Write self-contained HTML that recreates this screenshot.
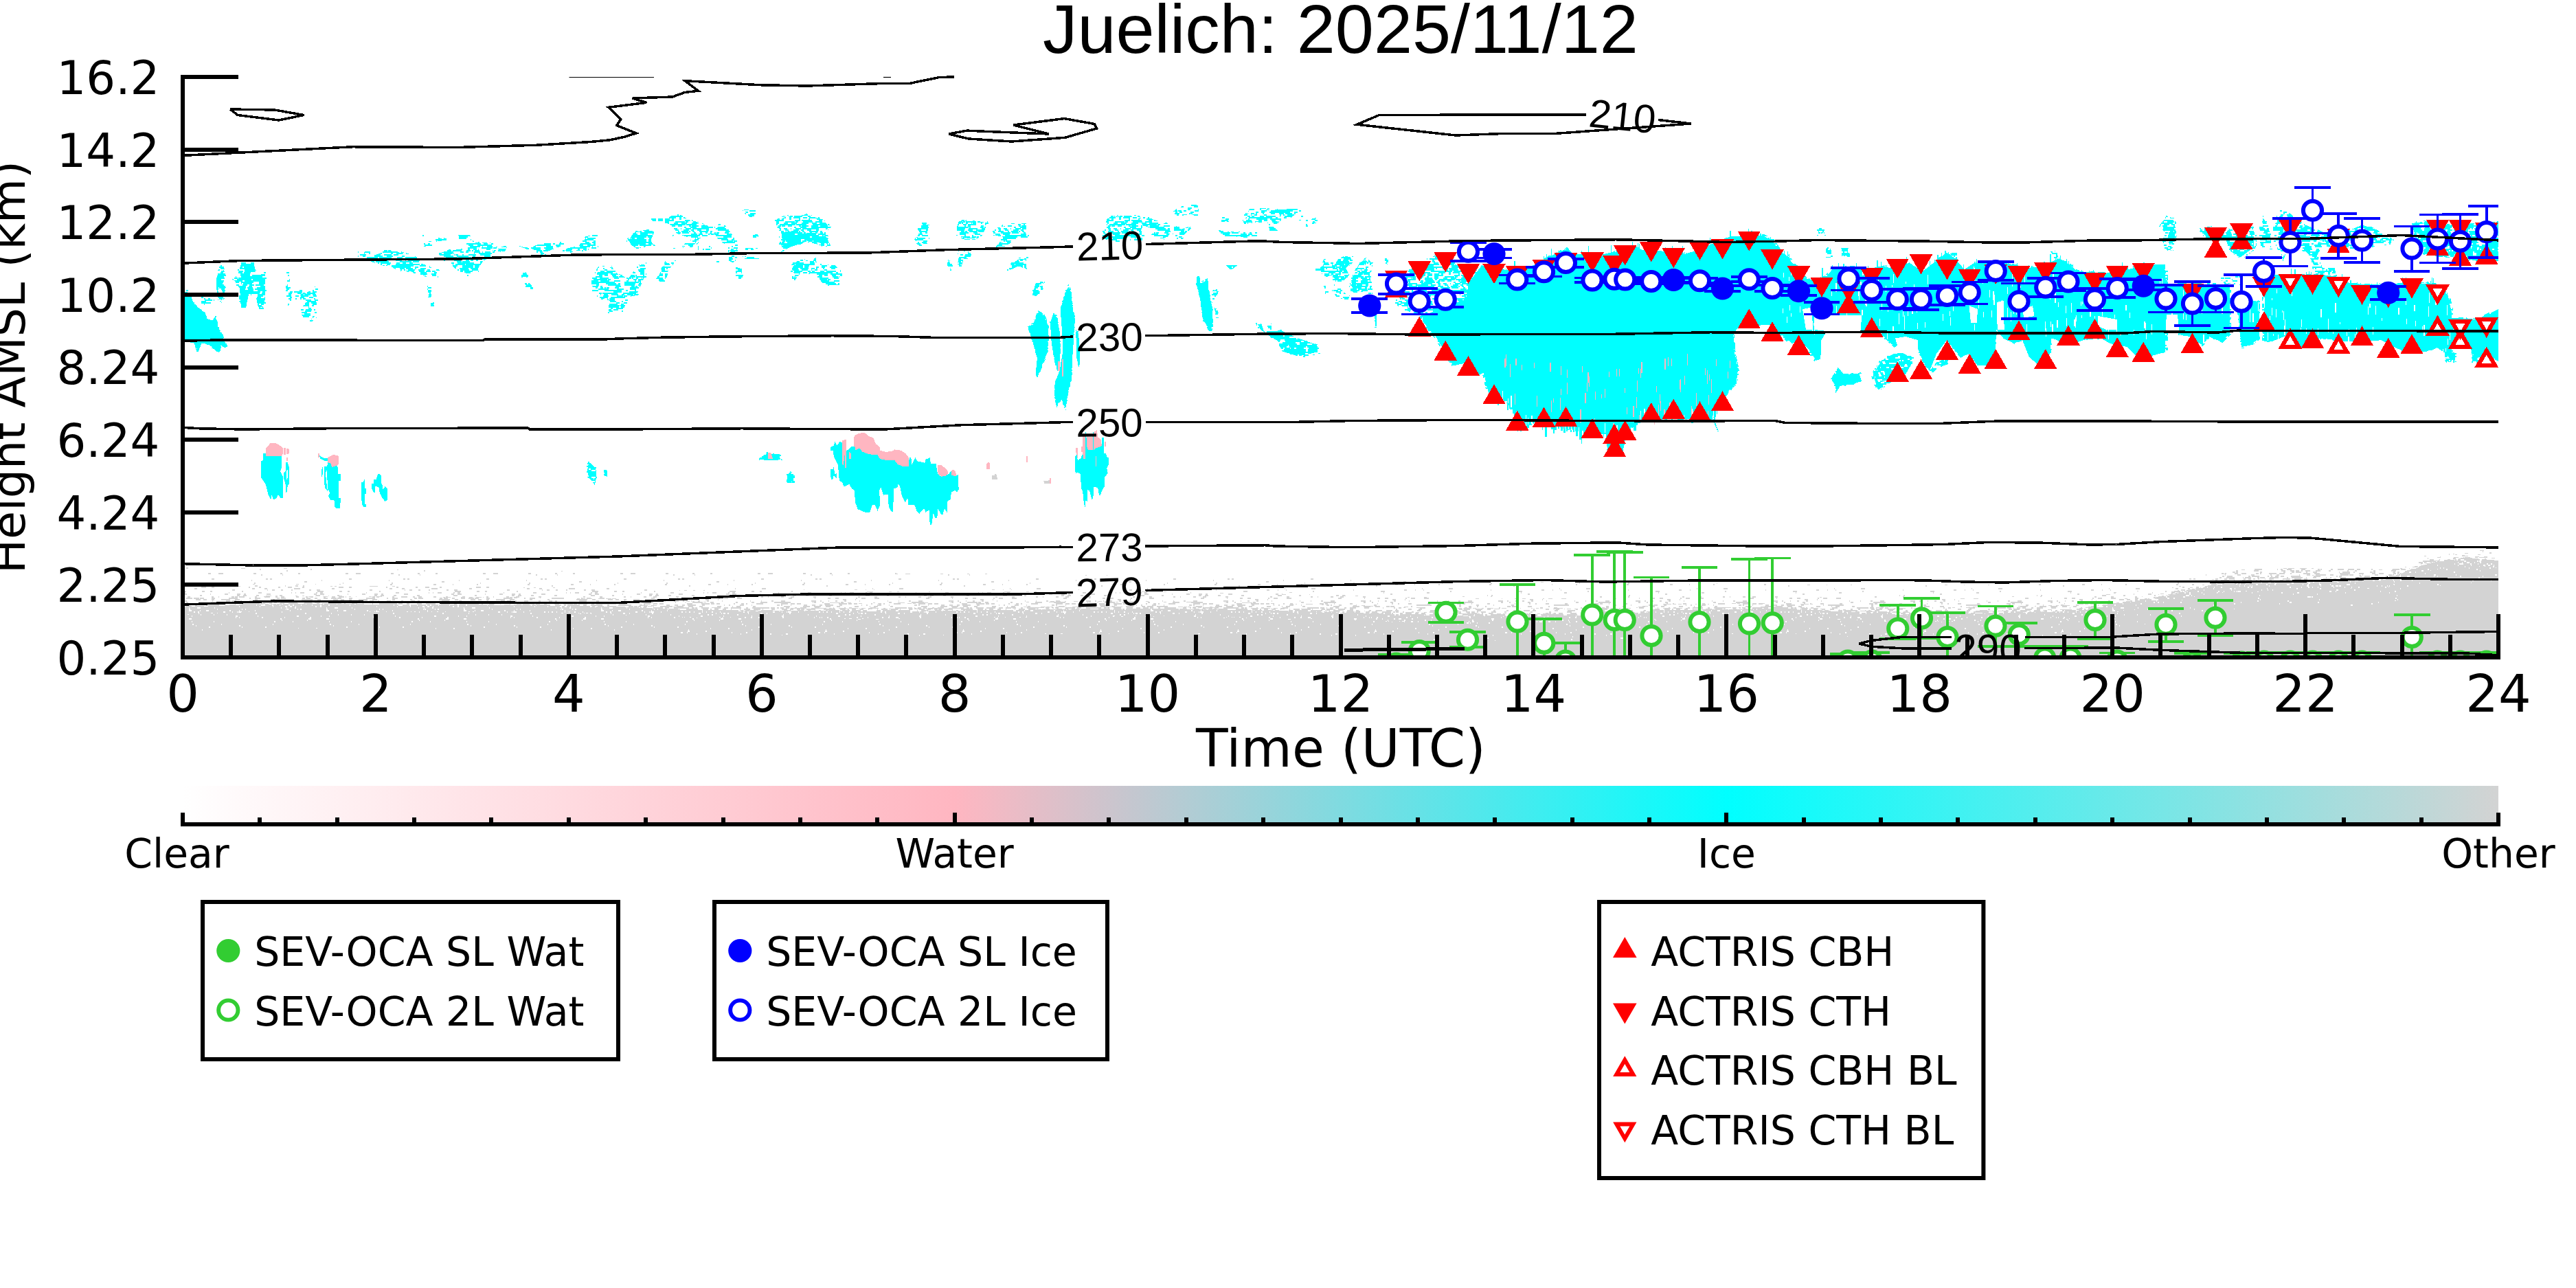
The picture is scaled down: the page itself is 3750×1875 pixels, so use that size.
<!DOCTYPE html>
<html><head><meta charset="utf-8"><title>Juelich: 2025/11/12</title>
<style>html,body{margin:0;padding:0;background:#fff}svg{display:block}</style>
</head><body>
<svg width="3750" height="1875" viewBox="0 0 3750 1875">
<defs>
<clipPath id="cp"><rect x="266" y="109" width="3371" height="848"/></clipPath>
<linearGradient id="cb" x1="0" x2="1" y1="0" y2="0"><stop offset="0" stop-color="#ffffff"/><stop offset="0.3333" stop-color="#ffb6c1"/><stop offset="0.6667" stop-color="#00ffff"/><stop offset="1" stop-color="#d3d3d3"/></linearGradient>
<pattern id="c85" width="160" height="80" patternUnits="userSpaceOnUse"><path d="M0 0h21v2h-21zM30 0h14v2h-14zM48 0h81v2h-81zM133 0h8v2h-8zM148 0h12v2h-12zM0 2h6v2h-6zM9 2h13v2h-13zM31 2h31v2h-31zM70 2h11v2h-11zM84 2h28v2h-28zM114 2h23v2h-23zM140 2h7v2h-7zM150 2h10v2h-10zM0 4h7v2h-7zM8 4h15v2h-15zM27 4h55v2h-55zM85 4h15v2h-15zM107 4h14v2h-14zM122 4h16v2h-16zM139 4h21v2h-21zM0 6h2v2h-2zM9 6h12v2h-12zM25 6h21v2h-21zM48 6h33v2h-33zM89 6h8v2h-8zM98 6h9v2h-9zM113 6h24v2h-24zM145 6h15v2h-15zM0 8h6v2h-6zM10 8h5v2h-5zM19 8h14v2h-14zM36 8h72v2h-72zM110 8h14v2h-14zM126 8h9v2h-9zM143 8h17v2h-17zM0 10h5v2h-5zM10 10h7v2h-7zM21 10h7v2h-7zM31 10h18v2h-18zM57 10h24v2h-24zM84 10h8v2h-8zM93 10h23v2h-23zM129 10h7v2h-7zM137 10h23v2h-23zM0 12h4v2h-4zM9 12h9v2h-9zM34 12h13v2h-13zM57 12h19v2h-19zM78 12h2v2h-2zM82 12h8v2h-8zM94 12h33v2h-33zM129 12h16v2h-16zM149 12h11v2h-11zM0 14h6v2h-6zM9 14h17v2h-17zM33 14h7v2h-7zM43 14h3v2h-3zM52 14h12v2h-12zM67 14h6v2h-6zM83 14h3v2h-3zM94 14h10v2h-10zM110 14h35v2h-35zM150 14h10v2h-10zM1 16h17v2h-17zM23 16h15v2h-15zM42 16h5v2h-5zM59 16h14v2h-14zM76 16h12v2h-12zM93 16h10v2h-10zM111 16h23v2h-23zM138 16h20v2h-20zM0 18h38v2h-38zM40 18h8v2h-8zM54 18h17v2h-17zM75 18h15v2h-15zM91 18h3v2h-3zM107 18h19v2h-19zM132 18h22v2h-22zM2 20h35v2h-35zM41 20h7v2h-7zM51 20h17v2h-17zM80 20h8v2h-8zM93 20h3v2h-3zM99 20h29v2h-29zM132 20h11v2h-11zM150 20h5v2h-5zM3 22h46v2h-46zM55 22h17v2h-17zM77 22h2v2h-2zM91 22h24v2h-24zM116 22h41v2h-41zM4 24h6v2h-6zM15 24h44v2h-44zM62 24h26v2h-26zM90 24h23v2h-23zM117 24h22v2h-22zM143 24h15v2h-15zM0 26h1v2h-1zM4 26h6v2h-6zM14 26h44v2h-44zM61 26h47v2h-47zM110 26h8v2h-8zM119 26h5v2h-5zM127 26h11v2h-11zM145 26h15v2h-15zM0 28h6v2h-6zM11 28h35v2h-35zM55 28h31v2h-31zM90 28h10v2h-10zM109 28h8v2h-8zM120 28h4v2h-4zM128 28h13v2h-13zM144 28h16v2h-16zM0 30h7v2h-7zM13 30h9v2h-9zM27 30h19v2h-19zM55 30h8v2h-8zM66 30h19v2h-19zM92 30h49v2h-49zM145 30h15v2h-15zM0 32h22v2h-22zM30 32h23v2h-23zM54 32h6v2h-6zM65 32h23v2h-23zM101 32h59v2h-59zM0 34h55v2h-55zM59 34h14v2h-14zM80 34h4v2h-4zM101 34h39v2h-39zM144 34h14v2h-14zM2 36h70v2h-70zM75 36h11v2h-11zM95 36h34v2h-34zM131 36h17v2h-17zM0 38h23v2h-23zM26 38h17v2h-17zM46 38h25v2h-25zM79 38h46v2h-46zM137 38h13v2h-13zM157 38h3v2h-3zM0 40h5v2h-5zM11 40h11v2h-11zM27 40h12v2h-12zM46 40h30v2h-30zM81 40h5v2h-5zM89 40h27v2h-27zM124 40h6v2h-6zM131 40h22v2h-22zM159 40h1v2h-1zM0 42h3v2h-3zM9 42h7v2h-7zM20 42h5v2h-5zM29 42h27v2h-27zM60 42h7v2h-7zM71 42h15v2h-15zM92 42h15v2h-15zM111 42h3v2h-3zM122 42h6v2h-6zM133 42h27v2h-27zM0 44h4v2h-4zM8 44h9v2h-9zM19 44h21v2h-21zM51 44h10v2h-10zM67 44h48v2h-48zM122 44h2v2h-2zM131 44h29v2h-29zM0 46h15v2h-15zM24 46h16v2h-16zM44 46h36v2h-36zM82 46h43v2h-43zM134 46h5v2h-5zM141 46h4v2h-4zM157 46h3v2h-3zM0 48h20v2h-20zM25 48h5v2h-5zM40 48h40v2h-40zM85 48h18v2h-18zM106 48h35v2h-35zM147 48h13v2h-13zM0 50h5v2h-5zM6 50h41v2h-41zM56 50h24v2h-24zM85 50h7v2h-7zM95 50h4v2h-4zM100 50h26v2h-26zM131 50h22v2h-22zM156 50h4v2h-4zM0 52h44v2h-44zM47 52h4v2h-4zM57 52h12v2h-12zM71 52h23v2h-23zM108 52h20v2h-20zM131 52h21v2h-21zM158 52h2v2h-2zM1 54h14v2h-14zM18 54h5v2h-5zM30 54h17v2h-17zM51 54h10v2h-10zM68 54h7v2h-7zM79 54h15v2h-15zM105 54h1v2h-1zM108 54h24v2h-24zM142 54h13v2h-13zM8 56h25v2h-25zM38 56h26v2h-26zM68 56h30v2h-30zM102 56h31v2h-31zM134 56h3v2h-3zM143 56h11v2h-11zM1 58h11v2h-11zM13 58h27v2h-27zM45 58h23v2h-23zM72 58h32v2h-32zM106 58h25v2h-25zM135 58h3v2h-3zM142 58h12v2h-12zM2 60h16v2h-16zM23 60h37v2h-37zM66 60h13v2h-13zM82 60h7v2h-7zM92 60h10v2h-10zM106 60h27v2h-27zM138 60h8v2h-8zM148 60h8v2h-8zM3 62h11v2h-11zM24 62h33v2h-33zM61 62h13v2h-13zM82 62h21v2h-21zM109 62h38v2h-38zM148 62h11v2h-11zM0 64h15v2h-15zM18 64h4v2h-4zM24 64h56v2h-56zM88 64h18v2h-18zM109 64h6v2h-6zM116 64h44v2h-44zM0 66h15v2h-15zM19 66h34v2h-34zM58 66h37v2h-37zM102 66h13v2h-13zM118 66h42v2h-42zM0 68h6v2h-6zM10 68h13v2h-13zM24 68h9v2h-9zM35 68h19v2h-19zM59 68h41v2h-41zM107 68h9v2h-9zM121 68h35v2h-35zM157 68h3v2h-3zM6 70h86v2h-86zM98 70h7v2h-7zM118 70h36v2h-36zM5 72h8v2h-8zM20 72h6v2h-6zM36 72h28v2h-28zM66 72h18v2h-18zM90 72h2v2h-2zM99 72h18v2h-18zM121 72h22v2h-22zM146 72h14v2h-14zM2 74h12v2h-12zM27 74h3v2h-3zM36 74h16v2h-16zM57 74h12v2h-12zM71 74h13v2h-13zM90 74h28v2h-28zM121 74h37v2h-37zM1 76h4v2h-4zM9 76h9v2h-9zM23 76h10v2h-10zM35 76h10v2h-10zM57 76h10v2h-10zM70 76h13v2h-13zM87 76h39v2h-39zM131 76h23v2h-23zM156 76h2v2h-2zM0 78h26v2h-26zM30 78h14v2h-14zM60 78h9v2h-9zM70 78h16v2h-16zM89 78h4v2h-4zM96 78h31v2h-31zM132 78h5v2h-5zM138 78h16v2h-16zM155 78h5v2h-5z" fill="#00ffff" shape-rendering="crispEdges"/></pattern>
<pattern id="c60" width="160" height="80" patternUnits="userSpaceOnUse"><path d="M0 0h5v2h-5zM14 0h7v2h-7zM37 0h8v2h-8zM50 0h12v2h-12zM72 0h5v2h-5zM80 0h5v2h-5zM91 0h6v2h-6zM106 0h15v2h-15zM125 0h2v2h-2zM136 0h4v2h-4zM149 0h6v2h-6zM158 0h2v2h-2zM8 2h6v2h-6zM24 2h13v2h-13zM51 2h12v2h-12zM67 2h9v2h-9zM92 2h8v2h-8zM101 2h9v2h-9zM115 2h10v2h-10zM127 2h3v2h-3zM134 2h7v2h-7zM143 2h9v2h-9zM158 2h2v2h-2zM0 4h5v2h-5zM8 4h6v2h-6zM23 4h4v2h-4zM32 4h8v2h-8zM48 4h9v2h-9zM64 4h3v2h-3zM73 4h13v2h-13zM94 4h7v2h-7zM112 4h4v2h-4zM120 4h2v2h-2zM134 4h1v2h-1zM136 4h5v2h-5zM148 4h2v2h-2zM154 4h6v2h-6zM0 6h6v2h-6zM9 6h3v2h-3zM15 6h23v2h-23zM39 6h15v2h-15zM63 6h21v2h-21zM114 6h2v2h-2zM122 6h5v2h-5zM132 6h9v2h-9zM154 6h6v2h-6zM0 8h8v2h-8zM13 8h4v2h-4zM19 8h4v2h-4zM32 8h1v2h-1zM43 8h3v2h-3zM49 8h8v2h-8zM62 8h9v2h-9zM74 8h13v2h-13zM94 8h9v2h-9zM112 8h3v2h-3zM124 8h2v2h-2zM148 8h4v2h-4zM155 8h5v2h-5zM0 10h9v2h-9zM11 10h5v2h-5zM36 10h3v2h-3zM45 10h9v2h-9zM62 10h32v2h-32zM109 10h21v2h-21zM153 10h7v2h-7zM0 12h5v2h-5zM13 12h4v2h-4zM21 12h5v2h-5zM38 12h6v2h-6zM48 12h24v2h-24zM82 12h15v2h-15zM100 12h3v2h-3zM109 12h15v2h-15zM130 12h13v2h-13zM149 12h11v2h-11zM5 14h5v2h-5zM35 14h8v2h-8zM55 14h6v2h-6zM68 14h4v2h-4zM86 14h17v2h-17zM109 14h15v2h-15zM129 14h7v2h-7zM141 14h18v2h-18zM6 16h1v2h-1zM13 16h8v2h-8zM32 16h10v2h-10zM48 16h3v2h-3zM58 16h13v2h-13zM96 16h8v2h-8zM119 16h5v2h-5zM131 16h8v2h-8zM144 16h14v2h-14zM19 18h12v2h-12zM33 18h10v2h-10zM50 18h3v2h-3zM59 18h3v2h-3zM67 18h3v2h-3zM74 18h4v2h-4zM83 18h4v2h-4zM95 18h6v2h-6zM117 18h13v2h-13zM137 18h6v2h-6zM154 18h4v2h-4zM5 20h11v2h-11zM20 20h10v2h-10zM49 20h6v2h-6zM57 20h6v2h-6zM71 20h15v2h-15zM98 20h10v2h-10zM117 20h9v2h-9zM139 20h8v2h-8zM5 22h12v2h-12zM23 22h18v2h-18zM46 22h11v2h-11zM67 22h4v2h-4zM80 22h25v2h-25zM111 22h3v2h-3zM124 22h2v2h-2zM135 22h2v2h-2zM147 22h10v2h-10zM0 24h3v2h-3zM19 24h22v2h-22zM46 24h7v2h-7zM93 24h12v2h-12zM116 24h16v2h-16zM135 24h4v2h-4zM142 24h3v2h-3zM149 24h11v2h-11zM0 26h3v2h-3zM21 26h18v2h-18zM52 26h1v2h-1zM55 26h12v2h-12zM80 26h19v2h-19zM107 26h19v2h-19zM127 26h12v2h-12zM141 26h13v2h-13zM158 26h2v2h-2zM0 28h13v2h-13zM17 28h9v2h-9zM51 28h13v2h-13zM79 28h6v2h-6zM90 28h10v2h-10zM105 28h4v2h-4zM113 28h9v2h-9zM125 28h2v2h-2zM145 28h1v2h-1zM152 28h8v2h-8zM0 30h3v2h-3zM8 30h4v2h-4zM21 30h2v2h-2zM29 30h6v2h-6zM48 30h6v2h-6zM64 30h6v2h-6zM78 30h8v2h-8zM98 30h9v2h-9zM118 30h11v2h-11zM136 30h7v2h-7zM154 30h6v2h-6zM18 32h1v2h-1zM26 32h2v2h-2zM33 32h5v2h-5zM52 32h6v2h-6zM62 32h7v2h-7zM73 32h12v2h-12zM89 32h21v2h-21zM117 32h6v2h-6zM130 32h6v2h-6zM14 34h13v2h-13zM32 34h13v2h-13zM46 34h9v2h-9zM64 34h6v2h-6zM77 34h3v2h-3zM87 34h8v2h-8zM121 34h4v2h-4zM143 34h3v2h-3zM152 34h7v2h-7zM0 36h2v2h-2zM9 36h10v2h-10zM27 36h5v2h-5zM42 36h7v2h-7zM55 36h25v2h-25zM87 36h7v2h-7zM110 36h2v2h-2zM125 36h8v2h-8zM145 36h15v2h-15zM0 38h5v2h-5zM10 38h27v2h-27zM44 38h11v2h-11zM62 38h1v2h-1zM69 38h6v2h-6zM85 38h8v2h-8zM105 38h2v2h-2zM116 38h5v2h-5zM127 38h11v2h-11zM155 38h5v2h-5zM0 40h3v2h-3zM20 40h34v2h-34zM66 40h9v2h-9zM97 40h5v2h-5zM108 40h8v2h-8zM119 40h11v2h-11zM133 40h14v2h-14zM152 40h8v2h-8zM0 42h6v2h-6zM24 42h9v2h-9zM41 42h3v2h-3zM49 42h5v2h-5zM68 42h6v2h-6zM81 42h18v2h-18zM112 42h4v2h-4zM124 42h6v2h-6zM135 42h12v2h-12zM154 42h6v2h-6zM0 44h3v2h-3zM22 44h10v2h-10zM41 44h4v2h-4zM51 44h7v2h-7zM77 44h6v2h-6zM85 44h17v2h-17zM108 44h22v2h-22zM134 44h3v2h-3zM141 44h8v2h-8zM157 44h3v2h-3zM0 46h14v2h-14zM30 46h5v2h-5zM50 46h6v2h-6zM66 46h8v2h-8zM78 46h23v2h-23zM104 46h6v2h-6zM129 46h1v2h-1zM141 46h2v2h-2zM146 46h4v2h-4zM157 46h3v2h-3zM0 48h3v2h-3zM13 48h6v2h-6zM50 48h1v2h-1zM64 48h10v2h-10zM89 48h3v2h-3zM97 48h10v2h-10zM129 48h4v2h-4zM147 48h5v2h-5zM158 48h2v2h-2zM0 50h16v2h-16zM23 50h4v2h-4zM33 50h2v2h-2zM42 50h10v2h-10zM59 50h15v2h-15zM79 50h9v2h-9zM93 50h7v2h-7zM118 50h4v2h-4zM126 50h8v2h-8zM137 50h2v2h-2zM147 50h3v2h-3zM158 50h2v2h-2zM6 52h14v2h-14zM33 52h8v2h-8zM65 52h12v2h-12zM83 52h5v2h-5zM105 52h2v2h-2zM124 52h9v2h-9zM9 54h14v2h-14zM27 54h17v2h-17zM57 54h13v2h-13zM72 54h6v2h-6zM81 54h9v2h-9zM98 54h8v2h-8zM110 54h17v2h-17zM139 54h13v2h-13zM155 54h3v2h-3zM8 56h7v2h-7zM38 56h40v2h-40zM81 56h2v2h-2zM97 56h10v2h-10zM114 56h5v2h-5zM123 56h8v2h-8zM147 56h4v2h-4zM21 58h10v2h-10zM38 58h5v2h-5zM53 58h3v2h-3zM64 58h14v2h-14zM79 58h6v2h-6zM96 58h9v2h-9zM114 58h18v2h-18zM149 58h3v2h-3zM25 60h7v2h-7zM33 60h11v2h-11zM59 60h6v2h-6zM67 60h19v2h-19zM102 60h17v2h-17zM121 60h9v2h-9zM135 60h21v2h-21zM8 62h6v2h-6zM26 62h23v2h-23zM59 62h7v2h-7zM70 62h2v2h-2zM80 62h9v2h-9zM97 62h5v2h-5zM106 62h5v2h-5zM116 62h5v2h-5zM135 62h3v2h-3zM145 62h5v2h-5zM156 62h2v2h-2zM0 64h15v2h-15zM23 64h9v2h-9zM38 64h9v2h-9zM49 64h17v2h-17zM83 64h5v2h-5zM96 64h35v2h-35zM133 64h10v2h-10zM156 64h4v2h-4zM0 66h7v2h-7zM19 66h7v2h-7zM33 66h12v2h-12zM51 66h7v2h-7zM76 66h8v2h-8zM91 66h27v2h-27zM133 66h7v2h-7zM151 66h9v2h-9zM0 68h24v2h-24zM33 68h13v2h-13zM51 68h6v2h-6zM76 68h5v2h-5zM88 68h30v2h-30zM124 68h4v2h-4zM145 68h3v2h-3zM155 68h5v2h-5zM0 70h5v2h-5zM10 70h2v2h-2zM20 70h4v2h-4zM29 70h13v2h-13zM45 70h12v2h-12zM61 70h5v2h-5zM90 70h6v2h-6zM102 70h7v2h-7zM111 70h10v2h-10zM132 70h6v2h-6zM155 70h5v2h-5zM0 72h8v2h-8zM30 72h13v2h-13zM47 72h7v2h-7zM108 72h2v2h-2zM114 72h10v2h-10zM129 72h2v2h-2zM142 72h4v2h-4zM3 74h28v2h-28zM36 74h12v2h-12zM59 74h1v2h-1zM62 74h4v2h-4zM74 74h6v2h-6zM85 74h12v2h-12zM110 74h13v2h-13zM130 74h8v2h-8zM140 74h7v2h-7zM0 76h2v2h-2zM14 76h10v2h-10zM29 76h3v2h-3zM35 76h10v2h-10zM49 76h6v2h-6zM58 76h34v2h-34zM97 76h3v2h-3zM109 76h4v2h-4zM119 76h6v2h-6zM132 76h9v2h-9zM152 76h8v2h-8zM0 78h5v2h-5zM8 78h3v2h-3zM18 78h3v2h-3zM29 78h3v2h-3zM43 78h2v2h-2zM57 78h2v2h-2zM69 78h16v2h-16zM89 78h12v2h-12zM132 78h8v2h-8zM148 78h7v2h-7zM158 78h2v2h-2z" fill="#00ffff" shape-rendering="crispEdges"/></pattern>
<pattern id="c35" width="160" height="80" patternUnits="userSpaceOnUse"><path d="M0 0h1v2h-1zM3 0h6v2h-6zM18 0h10v2h-10zM30 0h1v2h-1zM47 0h12v2h-12zM90 0h5v2h-5zM99 0h2v2h-2zM111 0h2v2h-2zM121 0h5v2h-5zM131 0h3v2h-3zM141 0h7v2h-7zM154 0h6v2h-6zM15 2h8v2h-8zM26 2h6v2h-6zM54 2h4v2h-4zM59 2h6v2h-6zM70 2h4v2h-4zM104 2h2v2h-2zM131 2h6v2h-6zM151 2h3v2h-3zM23 4h6v2h-6zM32 4h6v2h-6zM39 4h8v2h-8zM61 4h4v2h-4zM67 4h3v2h-3zM80 4h6v2h-6zM104 4h10v2h-10zM117 4h6v2h-6zM132 4h3v2h-3zM148 4h9v2h-9zM3 6h5v2h-5zM18 6h10v2h-10zM29 6h5v2h-5zM49 6h1v2h-1zM65 6h2v2h-2zM74 6h13v2h-13zM88 6h3v2h-3zM101 6h5v2h-5zM110 6h8v2h-8zM121 6h3v2h-3zM136 6h7v2h-7zM149 6h9v2h-9zM3 8h8v2h-8zM24 8h1v2h-1zM32 8h3v2h-3zM40 8h3v2h-3zM50 8h7v2h-7zM87 8h5v2h-5zM98 8h7v2h-7zM108 8h6v2h-6zM127 8h1v2h-1zM132 8h1v2h-1zM140 8h8v2h-8zM153 8h2v2h-2zM5 10h5v2h-5zM16 10h2v2h-2zM37 10h3v2h-3zM64 10h1v2h-1zM79 10h4v2h-4zM86 10h2v2h-2zM122 10h3v2h-3zM133 10h6v2h-6zM10 12h4v2h-4zM43 12h4v2h-4zM52 12h2v2h-2zM79 12h6v2h-6zM112 12h2v2h-2zM121 12h3v2h-3zM136 12h4v2h-4zM11 14h2v2h-2zM22 14h1v2h-1zM42 14h12v2h-12zM57 14h6v2h-6zM86 14h2v2h-2zM98 14h1v2h-1zM108 14h3v2h-3zM114 14h3v2h-3zM124 14h9v2h-9zM141 14h11v2h-11zM2 16h8v2h-8zM44 16h15v2h-15zM73 16h7v2h-7zM84 16h2v2h-2zM90 16h9v2h-9zM105 16h6v2h-6zM127 16h7v2h-7zM5 18h5v2h-5zM46 18h15v2h-15zM91 18h13v2h-13zM110 18h6v2h-6zM128 18h3v2h-3zM135 18h4v2h-4zM148 18h3v2h-3zM0 20h7v2h-7zM27 20h5v2h-5zM46 20h3v2h-3zM62 20h8v2h-8zM87 20h5v2h-5zM97 20h4v2h-4zM142 20h2v2h-2zM148 20h3v2h-3zM157 20h3v2h-3zM0 22h5v2h-5zM19 22h9v2h-9zM31 22h10v2h-10zM49 22h9v2h-9zM63 22h10v2h-10zM85 22h14v2h-14zM116 22h8v2h-8zM128 22h3v2h-3zM135 22h3v2h-3zM143 22h6v2h-6zM159 22h1v2h-1zM0 24h1v2h-1zM6 24h8v2h-8zM25 24h7v2h-7zM50 24h4v2h-4zM61 24h3v2h-3zM87 24h7v2h-7zM102 24h4v2h-4zM108 24h18v2h-18zM135 24h11v2h-11zM0 26h3v2h-3zM7 26h3v2h-3zM20 26h3v2h-3zM30 26h2v2h-2zM36 26h3v2h-3zM45 26h5v2h-5zM54 26h9v2h-9zM75 26h4v2h-4zM100 26h5v2h-5zM113 26h6v2h-6zM121 26h2v2h-2zM152 26h8v2h-8zM23 28h3v2h-3zM45 28h6v2h-6zM62 28h3v2h-3zM70 28h10v2h-10zM90 28h6v2h-6zM100 28h4v2h-4zM138 28h5v2h-5zM153 28h5v2h-5zM4 30h3v2h-3zM23 30h7v2h-7zM44 30h14v2h-14zM66 30h12v2h-12zM80 30h5v2h-5zM86 30h6v2h-6zM95 30h9v2h-9zM110 30h5v2h-5zM118 30h2v2h-2zM127 30h7v2h-7zM142 30h13v2h-13zM6 32h4v2h-4zM35 32h12v2h-12zM52 32h16v2h-16zM94 32h2v2h-2zM102 32h3v2h-3zM117 32h12v2h-12zM150 32h5v2h-5zM11 34h3v2h-3zM19 34h1v2h-1zM29 34h5v2h-5zM37 34h9v2h-9zM47 34h5v2h-5zM57 34h6v2h-6zM93 34h2v2h-2zM100 34h4v2h-4zM110 34h2v2h-2zM117 34h2v2h-2zM126 34h5v2h-5zM132 34h4v2h-4zM149 34h6v2h-6zM0 36h16v2h-16zM34 36h5v2h-5zM46 36h11v2h-11zM66 36h4v2h-4zM102 36h2v2h-2zM137 36h9v2h-9zM152 36h8v2h-8zM0 38h5v2h-5zM10 38h3v2h-3zM23 38h3v2h-3zM32 38h12v2h-12zM53 38h4v2h-4zM72 38h2v2h-2zM83 38h3v2h-3zM93 38h5v2h-5zM123 38h5v2h-5zM139 38h3v2h-3zM144 38h5v2h-5zM0 40h4v2h-4zM11 40h2v2h-2zM20 40h6v2h-6zM29 40h28v2h-28zM75 40h4v2h-4zM90 40h8v2h-8zM118 40h18v2h-18zM140 40h8v2h-8zM156 40h4v2h-4zM0 42h4v2h-4zM11 42h2v2h-2zM27 42h9v2h-9zM53 42h4v2h-4zM63 42h2v2h-2zM67 42h7v2h-7zM78 42h3v2h-3zM87 42h14v2h-14zM121 42h8v2h-8zM133 42h4v2h-4zM145 42h3v2h-3zM157 42h3v2h-3zM0 44h7v2h-7zM15 44h11v2h-11zM34 44h1v2h-1zM41 44h3v2h-3zM73 44h1v2h-1zM77 44h3v2h-3zM88 44h5v2h-5zM98 44h5v2h-5zM111 44h1v2h-1zM119 44h4v2h-4zM139 44h8v2h-8zM157 44h3v2h-3zM0 46h7v2h-7zM12 46h2v2h-2zM57 46h5v2h-5zM64 46h4v2h-4zM90 46h2v2h-2zM96 46h12v2h-12zM117 46h3v2h-3zM123 46h2v2h-2zM140 46h4v2h-4zM0 48h1v2h-1zM17 48h19v2h-19zM42 48h9v2h-9zM59 48h1v2h-1zM63 48h6v2h-6zM76 48h4v2h-4zM103 48h12v2h-12zM119 48h18v2h-18zM0 50h12v2h-12zM18 50h2v2h-2zM29 50h7v2h-7zM43 50h8v2h-8zM55 50h14v2h-14zM113 50h2v2h-2zM120 50h17v2h-17zM153 50h1v2h-1zM158 50h2v2h-2zM6 52h8v2h-8zM18 52h2v2h-2zM24 52h3v2h-3zM36 52h3v2h-3zM50 52h5v2h-5zM113 52h3v2h-3zM121 52h1v2h-1zM124 52h2v2h-2zM150 52h4v2h-4zM6 54h2v2h-2zM14 54h8v2h-8zM28 54h6v2h-6zM48 54h4v2h-4zM54 54h6v2h-6zM95 54h10v2h-10zM110 54h4v2h-4zM127 54h11v2h-11zM156 54h4v2h-4zM28 56h4v2h-4zM36 56h6v2h-6zM45 56h2v2h-2zM50 56h6v2h-6zM62 56h3v2h-3zM72 56h3v2h-3zM91 56h20v2h-20zM124 56h22v2h-22zM9 58h3v2h-3zM16 58h3v2h-3zM24 58h8v2h-8zM35 58h4v2h-4zM45 58h16v2h-16zM63 58h12v2h-12zM81 58h6v2h-6zM99 58h9v2h-9zM113 58h3v2h-3zM122 58h1v2h-1zM134 58h10v2h-10zM0 60h4v2h-4zM6 60h7v2h-7zM23 60h5v2h-5zM32 60h10v2h-10zM58 60h9v2h-9zM83 60h4v2h-4zM98 60h13v2h-13zM119 60h4v2h-4zM138 60h6v2h-6zM152 60h5v2h-5zM5 62h4v2h-4zM24 62h7v2h-7zM64 62h5v2h-5zM129 62h6v2h-6zM146 62h3v2h-3zM0 64h12v2h-12zM25 64h11v2h-11zM55 64h2v2h-2zM67 64h1v2h-1zM75 64h1v2h-1zM78 64h3v2h-3zM88 64h3v2h-3zM93 64h4v2h-4zM101 64h12v2h-12zM129 64h4v2h-4zM144 64h10v2h-10zM0 66h1v2h-1zM18 66h5v2h-5zM30 66h3v2h-3zM84 66h2v2h-2zM90 66h14v2h-14zM106 66h8v2h-8zM115 66h5v2h-5zM123 66h4v2h-4zM139 66h6v2h-6zM156 66h4v2h-4zM12 68h4v2h-4zM18 68h4v2h-4zM25 68h7v2h-7zM77 68h8v2h-8zM96 68h5v2h-5zM111 68h3v2h-3zM117 68h4v2h-4zM133 68h5v2h-5zM153 68h5v2h-5zM3 70h5v2h-5zM23 70h4v2h-4zM53 70h9v2h-9zM76 70h2v2h-2zM110 70h7v2h-7zM131 70h5v2h-5zM0 72h4v2h-4zM39 72h4v2h-4zM48 72h8v2h-8zM68 72h3v2h-3zM77 72h4v2h-4zM102 72h1v2h-1zM113 72h3v2h-3zM121 72h8v2h-8zM136 72h15v2h-15zM1 74h1v2h-1zM42 74h3v2h-3zM66 74h4v2h-4zM77 74h14v2h-14zM101 74h2v2h-2zM134 74h3v2h-3zM19 76h4v2h-4zM34 76h13v2h-13zM54 76h2v2h-2zM65 76h3v2h-3zM76 76h2v2h-2zM83 76h8v2h-8zM97 76h12v2h-12zM118 76h2v2h-2zM150 76h6v2h-6zM13 78h1v2h-1zM24 78h7v2h-7zM58 78h6v2h-6zM65 78h7v2h-7zM84 78h9v2h-9zM101 78h3v2h-3zM148 78h7v2h-7z" fill="#00ffff" shape-rendering="crispEdges"/></pattern>
<pattern id="c18" width="160" height="80" patternUnits="userSpaceOnUse"><path d="M8 0h7v2h-7zM40 0h2v2h-2zM47 0h3v2h-3zM103 0h3v2h-3zM119 0h5v2h-5zM10 2h3v2h-3zM23 2h1v2h-1zM33 2h2v2h-2zM38 2h4v2h-4zM49 2h8v2h-8zM71 2h6v2h-6zM94 2h6v2h-6zM115 2h6v2h-6zM126 2h2v2h-2zM130 2h5v2h-5zM137 2h4v2h-4zM157 2h1v2h-1zM21 4h5v2h-5zM32 4h5v2h-5zM47 4h7v2h-7zM62 4h7v2h-7zM96 4h3v2h-3zM115 4h4v2h-4zM126 4h3v2h-3zM155 4h4v2h-4zM18 6h2v2h-2zM42 6h4v2h-4zM50 6h2v2h-2zM85 6h4v2h-4zM129 6h7v2h-7zM18 8h2v2h-2zM27 8h6v2h-6zM47 8h5v2h-5zM61 8h2v2h-2zM129 8h4v2h-4zM61 10h2v2h-2zM74 10h4v2h-4zM80 10h1v2h-1zM85 10h10v2h-10zM113 10h4v2h-4zM131 10h2v2h-2zM147 10h5v2h-5zM31 12h1v2h-1zM44 12h2v2h-2zM88 12h4v2h-4zM114 12h2v2h-2zM124 12h1v2h-1zM3 14h2v2h-2zM14 14h3v2h-3zM23 14h5v2h-5zM36 14h3v2h-3zM46 14h4v2h-4zM85 14h2v2h-2zM115 14h2v2h-2zM0 16h8v2h-8zM27 16h2v2h-2zM32 16h4v2h-4zM43 16h2v2h-2zM74 16h3v2h-3zM125 16h3v2h-3zM138 16h5v2h-5zM158 16h2v2h-2zM0 18h3v2h-3zM6 18h3v2h-3zM17 18h5v2h-5zM80 18h2v2h-2zM155 18h3v2h-3zM159 18h1v2h-1zM46 20h3v2h-3zM75 20h7v2h-7zM139 20h4v2h-4zM154 20h4v2h-4zM4 22h4v2h-4zM41 22h8v2h-8zM56 22h3v2h-3zM62 22h8v2h-8zM83 22h4v2h-4zM96 22h5v2h-5zM102 22h3v2h-3zM11 24h4v2h-4zM50 24h6v2h-6zM98 24h2v2h-2zM136 24h5v2h-5zM6 26h8v2h-8zM20 26h3v2h-3zM72 26h4v2h-4zM77 26h3v2h-3zM113 26h2v2h-2zM119 26h5v2h-5zM158 26h2v2h-2zM6 28h6v2h-6zM45 28h1v2h-1zM55 28h2v2h-2zM74 28h1v2h-1zM81 28h4v2h-4zM94 28h5v2h-5zM114 28h8v2h-8zM123 28h9v2h-9zM135 28h5v2h-5zM145 28h3v2h-3zM151 28h6v2h-6zM24 30h6v2h-6zM84 30h2v2h-2zM108 30h5v2h-5zM144 30h4v2h-4zM151 30h5v2h-5zM15 32h2v2h-2zM26 32h9v2h-9zM56 32h2v2h-2zM0 34h2v2h-2zM5 34h3v2h-3zM14 34h7v2h-7zM22 34h8v2h-8zM42 34h6v2h-6zM54 34h6v2h-6zM75 34h3v2h-3zM84 34h1v2h-1zM118 34h2v2h-2zM137 34h2v2h-2zM159 34h1v2h-1zM44 36h5v2h-5zM57 36h5v2h-5zM84 36h5v2h-5zM93 36h2v2h-2zM111 36h3v2h-3zM138 36h7v2h-7zM151 36h4v2h-4zM157 36h1v2h-1zM10 38h2v2h-2zM27 38h4v2h-4zM53 38h6v2h-6zM70 38h7v2h-7zM82 38h2v2h-2zM93 38h4v2h-4zM137 38h3v2h-3zM2 40h3v2h-3zM33 40h2v2h-2zM61 40h7v2h-7zM72 40h5v2h-5zM78 40h5v2h-5zM111 40h5v2h-5zM12 42h4v2h-4zM31 42h2v2h-2zM56 42h1v2h-1zM88 42h2v2h-2zM104 42h4v2h-4zM114 42h6v2h-6zM137 42h1v2h-1zM154 42h3v2h-3zM11 44h6v2h-6zM19 44h3v2h-3zM39 44h6v2h-6zM47 44h2v2h-2zM79 44h5v2h-5zM85 44h4v2h-4zM103 44h7v2h-7zM111 44h5v2h-5zM123 44h2v2h-2zM151 44h6v2h-6zM8 46h12v2h-12zM38 46h4v2h-4zM51 46h8v2h-8zM62 46h1v2h-1zM77 46h3v2h-3zM85 46h4v2h-4zM104 46h5v2h-5zM6 48h8v2h-8zM20 48h1v2h-1zM57 48h7v2h-7zM74 48h2v2h-2zM111 48h4v2h-4zM8 50h2v2h-2zM21 50h1v2h-1zM46 50h7v2h-7zM70 50h2v2h-2zM88 50h2v2h-2zM125 50h3v2h-3zM153 50h2v2h-2zM12 52h1v2h-1zM25 52h11v2h-11zM38 52h4v2h-4zM48 52h4v2h-4zM87 52h5v2h-5zM105 52h4v2h-4zM153 52h1v2h-1zM13 54h4v2h-4zM21 54h1v2h-1zM23 54h3v2h-3zM31 54h15v2h-15zM54 54h5v2h-5zM67 54h3v2h-3zM74 54h13v2h-13zM112 54h1v2h-1zM119 54h2v2h-2zM138 54h1v2h-1zM145 54h3v2h-3zM1 56h10v2h-10zM51 56h1v2h-1zM65 56h3v2h-3zM74 56h11v2h-11zM88 56h2v2h-2zM96 56h3v2h-3zM128 56h4v2h-4zM143 56h7v2h-7zM157 56h1v2h-1zM5 58h3v2h-3zM22 58h2v2h-2zM45 58h4v2h-4zM72 58h4v2h-4zM100 58h1v2h-1zM110 58h1v2h-1zM5 60h4v2h-4zM72 60h3v2h-3zM122 60h2v2h-2zM125 60h5v2h-5zM7 62h4v2h-4zM17 62h4v2h-4zM31 62h7v2h-7zM45 62h5v2h-5zM74 62h9v2h-9zM85 62h3v2h-3zM140 62h2v2h-2zM149 62h4v2h-4zM19 64h1v2h-1zM24 64h4v2h-4zM32 64h5v2h-5zM42 64h1v2h-1zM46 64h3v2h-3zM74 64h2v2h-2zM85 64h1v2h-1zM99 64h1v2h-1zM116 64h2v2h-2zM44 66h5v2h-5zM77 66h3v2h-3zM90 66h19v2h-19zM116 66h6v2h-6zM131 66h8v2h-8zM145 66h2v2h-2zM150 66h4v2h-4zM0 68h9v2h-9zM46 68h3v2h-3zM68 68h4v2h-4zM94 68h5v2h-5zM127 68h2v2h-2zM157 68h3v2h-3zM1 70h7v2h-7zM53 70h2v2h-2zM68 70h2v2h-2zM78 70h2v2h-2zM124 70h2v2h-2zM136 70h4v2h-4zM26 72h2v2h-2zM51 72h5v2h-5zM61 72h1v2h-1zM66 72h4v2h-4zM80 72h4v2h-4zM103 72h2v2h-2zM131 72h7v2h-7zM155 72h5v2h-5zM17 74h4v2h-4zM22 74h1v2h-1zM30 74h4v2h-4zM56 74h4v2h-4zM75 74h2v2h-2zM83 74h3v2h-3zM94 74h1v2h-1zM103 74h1v2h-1zM113 74h2v2h-2zM131 74h4v2h-4zM149 74h5v2h-5zM64 76h3v2h-3zM71 76h2v2h-2zM82 76h1v2h-1zM11 78h4v2h-4zM83 78h2v2h-2zM101 78h5v2h-5zM140 78h2v2h-2z" fill="#00ffff" shape-rendering="crispEdges"/></pattern>
<pattern id="g75" width="200" height="60" patternUnits="userSpaceOnUse"><path d="M0 0h4v2h-4zM9 0h2v2h-2zM14 0h17v2h-17zM32 0h6v2h-6zM39 0h5v2h-5zM49 0h5v2h-5zM63 0h5v2h-5zM73 0h16v2h-16zM107 0h9v2h-9zM122 0h6v2h-6zM139 0h7v2h-7zM151 0h10v2h-10zM163 0h5v2h-5zM170 0h7v2h-7zM179 0h7v2h-7zM190 0h3v2h-3zM195 0h5v2h-5zM4 2h3v2h-3zM20 2h3v2h-3zM31 2h7v2h-7zM44 2h2v2h-2zM51 2h5v2h-5zM59 2h20v2h-20zM91 2h2v2h-2zM95 2h23v2h-23zM123 2h24v2h-24zM152 2h17v2h-17zM174 2h20v2h-20zM0 4h25v2h-25zM42 4h20v2h-20zM66 4h4v2h-4zM74 4h21v2h-21zM96 4h11v2h-11zM114 4h6v2h-6zM121 4h20v2h-20zM148 4h15v2h-15zM166 4h6v2h-6zM174 4h4v2h-4zM180 4h15v2h-15zM199 4h1v2h-1zM3 6h24v2h-24zM29 6h16v2h-16zM49 6h2v2h-2zM65 6h5v2h-5zM74 6h7v2h-7zM86 6h53v2h-53zM144 6h22v2h-22zM169 6h28v2h-28zM0 8h2v2h-2zM3 8h10v2h-10zM19 8h2v2h-2zM23 8h22v2h-22zM47 8h5v2h-5zM55 8h6v2h-6zM63 8h6v2h-6zM75 8h16v2h-16zM93 8h7v2h-7zM106 8h5v2h-5zM112 8h17v2h-17zM133 8h4v2h-4zM146 8h15v2h-15zM164 8h12v2h-12zM186 8h14v2h-14zM0 10h7v2h-7zM18 10h16v2h-16zM39 10h16v2h-16zM62 10h5v2h-5zM72 10h8v2h-8zM88 10h3v2h-3zM106 10h10v2h-10zM119 10h7v2h-7zM132 10h5v2h-5zM143 10h3v2h-3zM151 10h8v2h-8zM165 10h5v2h-5zM181 10h2v2h-2zM189 10h11v2h-11zM0 12h5v2h-5zM10 12h17v2h-17zM30 12h5v2h-5zM64 12h14v2h-14zM84 12h2v2h-2zM87 12h10v2h-10zM105 12h9v2h-9zM120 12h5v2h-5zM132 12h2v2h-2zM139 12h6v2h-6zM147 12h10v2h-10zM161 12h11v2h-11zM177 12h7v2h-7zM185 12h15v2h-15zM3 14h1v2h-1zM9 14h5v2h-5zM17 14h10v2h-10zM31 14h10v2h-10zM44 14h3v2h-3zM53 14h3v2h-3zM63 14h9v2h-9zM78 14h9v2h-9zM90 14h2v2h-2zM97 14h12v2h-12zM113 14h2v2h-2zM121 14h2v2h-2zM129 14h7v2h-7zM138 14h10v2h-10zM152 14h25v2h-25zM183 14h16v2h-16zM0 16h12v2h-12zM13 16h4v2h-4zM21 16h8v2h-8zM32 16h25v2h-25zM62 16h7v2h-7zM71 16h21v2h-21zM96 16h5v2h-5zM104 16h12v2h-12zM120 16h4v2h-4zM126 16h7v2h-7zM137 16h5v2h-5zM143 16h37v2h-37zM182 16h13v2h-13zM197 16h3v2h-3zM0 18h17v2h-17zM21 18h12v2h-12zM35 18h14v2h-14zM60 18h6v2h-6zM79 18h1v2h-1zM81 18h19v2h-19zM109 18h14v2h-14zM127 18h4v2h-4zM134 18h2v2h-2zM139 18h3v2h-3zM145 18h27v2h-27zM177 18h2v2h-2zM182 18h14v2h-14zM0 20h5v2h-5zM9 20h26v2h-26zM37 20h4v2h-4zM42 20h8v2h-8zM52 20h8v2h-8zM64 20h10v2h-10zM75 20h13v2h-13zM93 20h5v2h-5zM99 20h9v2h-9zM118 20h4v2h-4zM125 20h11v2h-11zM139 20h14v2h-14zM158 20h15v2h-15zM176 20h2v2h-2zM182 20h18v2h-18zM0 22h46v2h-46zM51 22h6v2h-6zM65 22h7v2h-7zM75 22h6v2h-6zM95 22h2v2h-2zM102 22h2v2h-2zM113 22h5v2h-5zM127 22h8v2h-8zM137 22h4v2h-4zM143 22h9v2h-9zM154 22h6v2h-6zM166 22h4v2h-4zM171 22h9v2h-9zM183 22h17v2h-17zM0 24h9v2h-9zM11 24h11v2h-11zM24 24h3v2h-3zM31 24h7v2h-7zM50 24h8v2h-8zM65 24h6v2h-6zM75 24h12v2h-12zM93 24h7v2h-7zM102 24h5v2h-5zM113 24h6v2h-6zM123 24h11v2h-11zM139 24h10v2h-10zM156 24h7v2h-7zM167 24h6v2h-6zM176 24h4v2h-4zM183 24h17v2h-17zM15 26h2v2h-2zM21 26h5v2h-5zM29 26h7v2h-7zM51 26h5v2h-5zM70 26h32v2h-32zM107 26h6v2h-6zM116 26h3v2h-3zM125 26h7v2h-7zM136 26h5v2h-5zM145 26h5v2h-5zM158 26h7v2h-7zM177 26h1v2h-1zM183 26h15v2h-15zM0 28h5v2h-5zM7 28h2v2h-2zM13 28h23v2h-23zM43 28h2v2h-2zM54 28h3v2h-3zM62 28h1v2h-1zM72 28h4v2h-4zM78 28h4v2h-4zM84 28h21v2h-21zM106 28h14v2h-14zM122 28h4v2h-4zM130 28h22v2h-22zM162 28h6v2h-6zM173 28h6v2h-6zM184 28h3v2h-3zM189 28h2v2h-2zM194 28h2v2h-2zM0 30h6v2h-6zM16 30h7v2h-7zM37 30h2v2h-2zM41 30h14v2h-14zM60 30h17v2h-17zM79 30h13v2h-13zM96 30h1v2h-1zM99 30h20v2h-20zM122 30h4v2h-4zM127 30h2v2h-2zM135 30h3v2h-3zM139 30h25v2h-25zM174 30h4v2h-4zM181 30h6v2h-6zM188 30h12v2h-12zM17 32h2v2h-2zM20 32h5v2h-5zM39 32h4v2h-4zM50 32h6v2h-6zM59 32h7v2h-7zM71 32h12v2h-12zM87 32h7v2h-7zM100 32h10v2h-10zM115 32h18v2h-18zM141 32h5v2h-5zM147 32h5v2h-5zM155 32h7v2h-7zM182 32h5v2h-5zM190 32h9v2h-9zM0 34h2v2h-2zM9 34h11v2h-11zM38 34h8v2h-8zM51 34h5v2h-5zM60 34h2v2h-2zM68 34h13v2h-13zM88 34h16v2h-16zM108 34h10v2h-10zM128 34h8v2h-8zM139 34h5v2h-5zM148 34h5v2h-5zM154 34h11v2h-11zM182 34h5v2h-5zM191 34h9v2h-9zM0 36h3v2h-3zM8 36h25v2h-25zM43 36h11v2h-11zM58 36h8v2h-8zM81 36h4v2h-4zM90 36h11v2h-11zM114 36h6v2h-6zM125 36h2v2h-2zM129 36h5v2h-5zM148 36h3v2h-3zM160 36h6v2h-6zM170 36h2v2h-2zM173 36h4v2h-4zM183 36h13v2h-13zM199 36h1v2h-1zM7 38h7v2h-7zM20 38h14v2h-14zM42 38h13v2h-13zM61 38h4v2h-4zM69 38h28v2h-28zM101 38h2v2h-2zM112 38h8v2h-8zM128 38h1v2h-1zM142 38h1v2h-1zM152 38h26v2h-26zM180 38h6v2h-6zM192 38h4v2h-4zM0 40h1v2h-1zM8 40h9v2h-9zM21 40h3v2h-3zM26 40h18v2h-18zM49 40h5v2h-5zM60 40h17v2h-17zM84 40h3v2h-3zM100 40h19v2h-19zM134 40h9v2h-9zM148 40h11v2h-11zM161 40h10v2h-10zM175 40h25v2h-25zM3 42h14v2h-14zM21 42h13v2h-13zM39 42h9v2h-9zM62 42h5v2h-5zM70 42h9v2h-9zM84 42h13v2h-13zM115 42h7v2h-7zM123 42h5v2h-5zM129 42h4v2h-4zM137 42h5v2h-5zM151 42h1v2h-1zM161 42h15v2h-15zM180 42h11v2h-11zM0 44h3v2h-3zM7 44h4v2h-4zM12 44h3v2h-3zM21 44h11v2h-11zM40 44h9v2h-9zM54 44h6v2h-6zM64 44h8v2h-8zM74 44h5v2h-5zM86 44h3v2h-3zM95 44h17v2h-17zM122 44h5v2h-5zM132 44h2v2h-2zM136 44h5v2h-5zM151 44h14v2h-14zM168 44h6v2h-6zM181 44h19v2h-19zM0 46h16v2h-16zM23 46h8v2h-8zM34 46h2v2h-2zM40 46h6v2h-6zM52 46h5v2h-5zM64 46h1v2h-1zM77 46h1v2h-1zM83 46h9v2h-9zM97 46h10v2h-10zM110 46h1v2h-1zM123 46h5v2h-5zM138 46h8v2h-8zM150 46h5v2h-5zM160 46h5v2h-5zM166 46h5v2h-5zM174 46h13v2h-13zM199 46h1v2h-1zM2 48h3v2h-3zM6 48h16v2h-16zM26 48h11v2h-11zM40 48h13v2h-13zM56 48h6v2h-6zM76 48h6v2h-6zM85 48h19v2h-19zM108 48h17v2h-17zM135 48h1v2h-1zM141 48h10v2h-10zM161 48h9v2h-9zM176 48h4v2h-4zM186 48h1v2h-1zM192 48h3v2h-3zM0 50h5v2h-5zM12 50h13v2h-13zM32 50h4v2h-4zM42 50h2v2h-2zM46 50h12v2h-12zM61 50h5v2h-5zM73 50h22v2h-22zM101 50h6v2h-6zM117 50h6v2h-6zM127 50h5v2h-5zM134 50h16v2h-16zM154 50h3v2h-3zM160 50h12v2h-12zM173 50h7v2h-7zM188 50h6v2h-6zM197 50h3v2h-3zM0 52h7v2h-7zM11 52h3v2h-3zM16 52h9v2h-9zM26 52h2v2h-2zM38 52h4v2h-4zM46 52h9v2h-9zM60 52h5v2h-5zM69 52h6v2h-6zM86 52h9v2h-9zM108 52h1v2h-1zM116 52h8v2h-8zM126 52h21v2h-21zM148 52h6v2h-6zM167 52h7v2h-7zM179 52h6v2h-6zM188 52h5v2h-5zM196 52h4v2h-4zM0 54h4v2h-4zM9 54h5v2h-5zM21 54h8v2h-8zM32 54h6v2h-6zM43 54h33v2h-33zM81 54h15v2h-15zM107 54h5v2h-5zM119 54h3v2h-3zM129 54h17v2h-17zM147 54h12v2h-12zM162 54h3v2h-3zM170 54h21v2h-21zM0 56h10v2h-10zM13 56h1v2h-1zM25 56h2v2h-2zM30 56h8v2h-8zM44 56h6v2h-6zM53 56h13v2h-13zM76 56h2v2h-2zM81 56h10v2h-10zM92 56h10v2h-10zM111 56h4v2h-4zM122 56h8v2h-8zM137 56h8v2h-8zM147 56h13v2h-13zM162 56h30v2h-30zM12 58h8v2h-8zM23 58h28v2h-28zM56 58h11v2h-11zM72 58h1v2h-1zM79 58h6v2h-6zM96 58h6v2h-6zM105 58h4v2h-4zM120 58h6v2h-6zM147 58h8v2h-8zM169 58h9v2h-9zM179 58h13v2h-13z" fill="#d3d3d3" shape-rendering="crispEdges"/></pattern>
<pattern id="g40" width="200" height="60" patternUnits="userSpaceOnUse"><path d="M6 0h9v2h-9zM31 0h3v2h-3zM41 0h12v2h-12zM68 0h9v2h-9zM90 0h7v2h-7zM104 0h10v2h-10zM136 0h16v2h-16zM157 0h1v2h-1zM167 0h5v2h-5zM186 0h1v2h-1zM0 2h1v2h-1zM7 2h3v2h-3zM19 2h10v2h-10zM38 2h4v2h-4zM66 2h3v2h-3zM73 2h4v2h-4zM87 2h2v2h-2zM123 2h11v2h-11zM140 2h10v2h-10zM154 2h5v2h-5zM182 2h10v2h-10zM197 2h3v2h-3zM17 4h11v2h-11zM33 4h6v2h-6zM41 4h4v2h-4zM66 4h2v2h-2zM70 4h8v2h-8zM84 4h2v2h-2zM90 4h2v2h-2zM104 4h3v2h-3zM119 4h5v2h-5zM128 4h5v2h-5zM147 4h3v2h-3zM161 4h12v2h-12zM32 6h3v2h-3zM63 6h7v2h-7zM76 6h11v2h-11zM112 6h3v2h-3zM140 6h2v2h-2zM153 6h2v2h-2zM165 6h10v2h-10zM4 8h5v2h-5zM17 8h9v2h-9zM28 8h10v2h-10zM53 8h3v2h-3zM62 8h7v2h-7zM85 8h1v2h-1zM96 8h6v2h-6zM114 8h2v2h-2zM123 8h7v2h-7zM137 8h5v2h-5zM157 8h5v2h-5zM175 8h1v2h-1zM180 8h2v2h-2zM192 8h6v2h-6zM5 10h4v2h-4zM19 10h8v2h-8zM35 10h4v2h-4zM57 10h3v2h-3zM63 10h5v2h-5zM76 10h3v2h-3zM97 10h4v2h-4zM106 10h8v2h-8zM129 10h5v2h-5zM169 10h2v2h-2zM20 12h2v2h-2zM53 12h2v2h-2zM57 12h4v2h-4zM68 12h1v2h-1zM83 12h7v2h-7zM104 12h4v2h-4zM113 12h8v2h-8zM163 12h7v2h-7zM188 12h6v2h-6zM0 14h1v2h-1zM11 14h23v2h-23zM38 14h4v2h-4zM56 14h6v2h-6zM84 14h5v2h-5zM93 14h1v2h-1zM99 14h9v2h-9zM110 14h5v2h-5zM120 14h7v2h-7zM131 14h4v2h-4zM138 14h6v2h-6zM147 14h1v2h-1zM151 14h4v2h-4zM161 14h3v2h-3zM178 14h2v2h-2zM188 14h4v2h-4zM197 14h3v2h-3zM17 16h4v2h-4zM29 16h3v2h-3zM49 16h13v2h-13zM72 16h4v2h-4zM84 16h4v2h-4zM93 16h3v2h-3zM103 16h6v2h-6zM119 16h12v2h-12zM133 16h13v2h-13zM157 16h10v2h-10zM185 16h3v2h-3zM196 16h4v2h-4zM2 18h8v2h-8zM20 18h3v2h-3zM26 18h2v2h-2zM40 18h2v2h-2zM55 18h2v2h-2zM68 18h7v2h-7zM84 18h3v2h-3zM90 18h9v2h-9zM113 18h5v2h-5zM123 18h5v2h-5zM134 18h5v2h-5zM148 18h3v2h-3zM158 18h6v2h-6zM168 18h4v2h-4zM175 18h6v2h-6zM185 18h1v2h-1zM13 20h4v2h-4zM27 20h5v2h-5zM34 20h1v2h-1zM54 20h4v2h-4zM65 20h8v2h-8zM93 20h6v2h-6zM109 20h4v2h-4zM117 20h10v2h-10zM133 20h5v2h-5zM149 20h9v2h-9zM160 20h14v2h-14zM180 20h1v2h-1zM195 20h4v2h-4zM32 22h6v2h-6zM47 22h14v2h-14zM65 22h3v2h-3zM79 22h11v2h-11zM104 22h7v2h-7zM118 22h8v2h-8zM134 22h3v2h-3zM150 22h2v2h-2zM161 22h5v2h-5zM199 22h1v2h-1zM29 24h7v2h-7zM51 24h7v2h-7zM64 24h5v2h-5zM76 24h9v2h-9zM101 24h2v2h-2zM124 24h9v2h-9zM139 24h4v2h-4zM163 24h7v2h-7zM182 24h13v2h-13zM1 26h3v2h-3zM30 26h3v2h-3zM40 26h3v2h-3zM59 26h5v2h-5zM70 26h1v2h-1zM78 26h1v2h-1zM93 26h7v2h-7zM136 26h2v2h-2zM153 26h3v2h-3zM187 26h8v2h-8zM1 28h3v2h-3zM9 28h5v2h-5zM31 28h4v2h-4zM45 28h3v2h-3zM52 28h4v2h-4zM71 28h3v2h-3zM83 28h5v2h-5zM93 28h8v2h-8zM103 28h1v2h-1zM142 28h4v2h-4zM148 28h4v2h-4zM171 28h3v2h-3zM185 28h8v2h-8zM3 30h4v2h-4zM9 30h7v2h-7zM40 30h4v2h-4zM46 30h6v2h-6zM58 30h4v2h-4zM71 30h6v2h-6zM82 30h8v2h-8zM91 30h6v2h-6zM108 30h5v2h-5zM133 30h13v2h-13zM163 30h2v2h-2zM171 30h8v2h-8zM39 32h16v2h-16zM62 32h5v2h-5zM85 32h7v2h-7zM96 32h5v2h-5zM108 32h4v2h-4zM122 32h13v2h-13zM142 32h7v2h-7zM171 32h4v2h-4zM197 32h3v2h-3zM0 34h4v2h-4zM8 34h3v2h-3zM43 34h11v2h-11zM68 34h4v2h-4zM109 34h1v2h-1zM129 34h6v2h-6zM138 34h6v2h-6zM150 34h2v2h-2zM163 34h6v2h-6zM184 34h3v2h-3zM199 34h1v2h-1zM8 36h15v2h-15zM34 36h5v2h-5zM71 36h3v2h-3zM107 36h10v2h-10zM134 36h17v2h-17zM183 36h1v2h-1zM0 38h8v2h-8zM21 38h12v2h-12zM35 38h5v2h-5zM43 38h5v2h-5zM68 38h2v2h-2zM79 38h4v2h-4zM86 38h2v2h-2zM101 38h10v2h-10zM137 38h10v2h-10zM151 38h6v2h-6zM160 38h6v2h-6zM1 40h12v2h-12zM22 40h4v2h-4zM54 40h1v2h-1zM61 40h2v2h-2zM77 40h6v2h-6zM94 40h1v2h-1zM131 40h4v2h-4zM137 40h2v2h-2zM151 40h1v2h-1zM170 40h5v2h-5zM182 40h5v2h-5zM193 40h4v2h-4zM2 42h7v2h-7zM18 42h5v2h-5zM44 42h6v2h-6zM66 42h1v2h-1zM72 42h6v2h-6zM96 42h4v2h-4zM141 42h9v2h-9zM169 42h10v2h-10zM185 42h10v2h-10zM13 44h1v2h-1zM29 44h2v2h-2zM36 44h4v2h-4zM67 44h8v2h-8zM103 44h17v2h-17zM122 44h6v2h-6zM131 44h1v2h-1zM136 44h5v2h-5zM144 44h5v2h-5zM157 44h3v2h-3zM165 44h9v2h-9zM186 44h7v2h-7zM32 46h2v2h-2zM50 46h5v2h-5zM65 46h5v2h-5zM94 46h3v2h-3zM105 46h3v2h-3zM124 46h5v2h-5zM131 46h9v2h-9zM148 46h10v2h-10zM165 46h5v2h-5zM3 48h9v2h-9zM18 48h9v2h-9zM31 48h5v2h-5zM63 48h5v2h-5zM82 48h11v2h-11zM115 48h1v2h-1zM120 48h3v2h-3zM129 48h7v2h-7zM150 48h6v2h-6zM174 48h3v2h-3zM193 48h3v2h-3zM28 50h3v2h-3zM55 50h3v2h-3zM81 50h7v2h-7zM121 50h6v2h-6zM134 50h6v2h-6zM142 50h5v2h-5zM150 50h2v2h-2zM156 50h7v2h-7zM171 50h7v2h-7zM190 50h3v2h-3zM5 52h1v2h-1zM10 52h11v2h-11zM26 52h2v2h-2zM50 52h4v2h-4zM55 52h3v2h-3zM90 52h3v2h-3zM124 52h3v2h-3zM136 52h4v2h-4zM142 52h8v2h-8zM157 52h2v2h-2zM167 52h6v2h-6zM6 54h15v2h-15zM37 54h4v2h-4zM53 54h5v2h-5zM63 54h7v2h-7zM84 54h4v2h-4zM90 54h2v2h-2zM103 54h11v2h-11zM120 54h6v2h-6zM134 54h2v2h-2zM153 54h10v2h-10zM172 54h5v2h-5zM7 56h12v2h-12zM20 56h6v2h-6zM39 56h1v2h-1zM57 56h5v2h-5zM77 56h5v2h-5zM105 56h2v2h-2zM114 56h4v2h-4zM147 56h1v2h-1zM158 56h5v2h-5zM171 56h15v2h-15zM192 56h5v2h-5zM1 58h2v2h-2zM5 58h4v2h-4zM35 58h3v2h-3zM42 58h8v2h-8zM73 58h3v2h-3zM78 58h11v2h-11zM106 58h2v2h-2zM112 58h5v2h-5zM120 58h5v2h-5zM135 58h9v2h-9zM168 58h10v2h-10z" fill="#d3d3d3" shape-rendering="crispEdges"/></pattern>
<pattern id="g15" width="200" height="60" patternUnits="userSpaceOnUse"><path d="M44 0h1v2h-1zM65 0h1v2h-1zM86 0h3v2h-3zM114 0h3v2h-3zM129 0h2v2h-2zM192 0h2v2h-2zM20 2h3v2h-3zM45 2h8v2h-8zM80 2h3v2h-3zM97 2h1v2h-1zM103 2h7v2h-7zM129 2h4v2h-4zM35 4h6v2h-6zM52 4h1v2h-1zM64 4h5v2h-5zM131 4h3v2h-3zM148 4h3v2h-3zM153 4h5v2h-5zM20 6h4v2h-4zM52 6h3v2h-3zM94 6h5v2h-5zM117 6h3v2h-3zM177 6h3v2h-3zM152 8h2v2h-2zM185 8h1v2h-1zM18 10h1v2h-1zM31 10h1v2h-1zM84 10h7v2h-7zM99 10h1v2h-1zM132 10h5v2h-5zM170 10h3v2h-3zM191 10h3v2h-3zM15 12h1v2h-1zM30 12h4v2h-4zM41 12h2v2h-2zM81 12h3v2h-3zM87 12h3v2h-3zM138 12h12v2h-12zM171 12h4v2h-4zM5 14h3v2h-3zM19 14h6v2h-6zM40 14h3v2h-3zM93 14h7v2h-7zM108 14h4v2h-4zM162 14h2v2h-2zM177 14h3v2h-3zM28 16h9v2h-9zM83 16h4v2h-4zM167 16h4v2h-4zM185 16h4v2h-4zM9 18h3v2h-3zM24 18h2v2h-2zM50 18h3v2h-3zM61 18h5v2h-5zM138 18h4v2h-4zM189 18h1v2h-1zM196 18h4v2h-4zM62 20h9v2h-9zM94 20h4v2h-4zM106 20h3v2h-3zM152 20h2v2h-2zM24 22h1v2h-1zM30 22h1v2h-1zM37 22h6v2h-6zM60 22h2v2h-2zM66 22h4v2h-4zM133 22h1v2h-1zM176 22h5v2h-5zM57 24h4v2h-4zM66 24h6v2h-6zM106 24h1v2h-1zM127 24h5v2h-5zM145 24h5v2h-5zM155 24h3v2h-3zM188 24h6v2h-6zM7 26h4v2h-4zM60 26h6v2h-6zM91 26h3v2h-3zM145 26h4v2h-4zM154 26h5v2h-5zM173 26h4v2h-4zM49 28h3v2h-3zM73 28h4v2h-4zM108 28h3v2h-3zM118 28h1v2h-1zM137 28h4v2h-4zM151 28h5v2h-5zM184 28h4v2h-4zM5 30h4v2h-4zM16 30h5v2h-5zM46 30h2v2h-2zM54 30h6v2h-6zM73 30h7v2h-7zM148 30h5v2h-5zM186 30h1v2h-1zM27 32h5v2h-5zM45 32h1v2h-1zM6 34h1v2h-1zM16 34h3v2h-3zM29 34h3v2h-3zM51 34h1v2h-1zM92 34h1v2h-1zM108 34h1v2h-1zM123 34h3v2h-3zM137 34h6v2h-6zM181 34h7v2h-7zM194 34h2v2h-2zM24 36h4v2h-4zM94 36h4v2h-4zM127 36h18v2h-18zM185 36h3v2h-3zM197 36h2v2h-2zM5 38h1v2h-1zM26 38h2v2h-2zM35 38h2v2h-2zM50 38h5v2h-5zM78 38h4v2h-4zM121 38h6v2h-6zM129 38h4v2h-4zM142 38h1v2h-1zM165 38h4v2h-4zM0 40h4v2h-4zM62 40h22v2h-22zM124 40h3v2h-3zM149 40h4v2h-4zM174 40h1v2h-1zM1 42h8v2h-8zM24 42h6v2h-6zM54 42h2v2h-2zM124 42h3v2h-3zM138 42h4v2h-4zM150 42h2v2h-2zM162 42h2v2h-2zM194 42h5v2h-5zM42 44h4v2h-4zM62 44h5v2h-5zM101 44h2v2h-2zM132 44h4v2h-4zM138 44h4v2h-4zM182 44h2v2h-2zM61 46h5v2h-5zM77 46h1v2h-1zM81 46h6v2h-6zM92 46h2v2h-2zM113 46h1v2h-1zM130 46h2v2h-2zM175 46h8v2h-8zM0 48h9v2h-9zM20 48h3v2h-3zM95 48h7v2h-7zM144 48h3v2h-3zM171 48h3v2h-3zM180 48h3v2h-3zM21 50h5v2h-5zM46 50h1v2h-1zM54 50h4v2h-4zM84 50h1v2h-1zM142 50h8v2h-8zM159 50h6v2h-6zM26 52h4v2h-4zM83 52h4v2h-4zM26 54h4v2h-4zM35 54h2v2h-2zM49 54h4v2h-4zM72 54h2v2h-2zM124 54h5v2h-5zM34 56h3v2h-3zM83 56h2v2h-2zM98 56h4v2h-4zM166 56h2v2h-2zM175 56h4v2h-4zM79 58h3v2h-3zM101 58h2v2h-2zM144 58h5v2h-5z" fill="#d3d3d3" shape-rendering="crispEdges"/></pattern>
<pattern id="g04" width="200" height="60" patternUnits="userSpaceOnUse"><path d="M108 2h4v2h-4zM187 2h3v2h-3zM193 2h3v2h-3zM68 4h1v2h-1zM166 4h1v2h-1zM43 6h4v2h-4zM99 8h1v2h-1zM170 8h2v2h-2zM31 10h4v2h-4zM59 10h1v2h-1zM94 10h2v2h-2zM168 10h3v2h-3zM3 12h2v2h-2zM70 16h1v2h-1zM109 16h6v2h-6zM44 18h4v2h-4zM60 18h1v2h-1zM72 18h1v2h-1zM170 18h1v2h-1zM10 20h6v2h-6zM111 20h2v2h-2zM14 22h1v2h-1zM77 22h4v2h-4zM24 24h3v2h-3zM165 26h1v2h-1zM171 26h2v2h-2zM129 28h3v2h-3zM170 28h2v2h-2zM71 30h2v2h-2zM134 32h1v2h-1zM147 36h3v2h-3zM170 36h3v2h-3zM65 38h4v2h-4zM171 42h3v2h-3zM151 44h1v2h-1zM167 44h2v2h-2zM13 46h5v2h-5zM71 46h3v2h-3zM151 46h6v2h-6zM52 48h2v2h-2zM178 48h2v2h-2zM17 50h2v2h-2zM8 54h3v2h-3zM34 54h3v2h-3zM103 54h4v2h-4zM118 54h7v2h-7zM169 54h4v2h-4zM11 56h1v2h-1zM180 56h2v2h-2z" fill="#d3d3d3" shape-rendering="crispEdges"/></pattern>
<pattern id="w05" width="200" height="60" patternUnits="userSpaceOnUse"><path d="M8 0h2v2h-2zM49 0h4v2h-4zM75 0h4v2h-4zM10 2h1v2h-1zM47 2h1v2h-1zM0 4h1v2h-1zM26 4h1v2h-1zM79 4h1v2h-1zM111 4h1v2h-1zM199 4h1v2h-1zM80 8h2v2h-2zM122 8h1v2h-1zM197 8h1v2h-1zM85 10h1v2h-1zM148 10h2v2h-2zM104 12h2v2h-2zM152 12h1v2h-1zM186 12h2v2h-2zM34 14h1v2h-1zM60 14h2v2h-2zM2 16h1v2h-1zM94 16h1v2h-1zM1 18h3v2h-3zM27 18h2v2h-2zM0 20h1v2h-1zM65 20h1v2h-1zM86 20h2v2h-2zM191 20h3v2h-3zM14 22h1v2h-1zM78 22h1v2h-1zM121 22h2v2h-2zM144 22h3v2h-3zM138 24h1v2h-1zM173 24h1v2h-1zM89 26h1v2h-1zM159 28h5v2h-5zM165 28h2v2h-2zM87 30h2v2h-2zM90 32h1v2h-1zM176 32h1v2h-1zM86 34h2v2h-2zM130 34h2v2h-2zM62 36h1v2h-1zM133 36h3v2h-3zM174 36h2v2h-2zM52 38h2v2h-2zM118 38h1v2h-1zM22 40h3v2h-3zM188 44h1v2h-1zM24 46h2v2h-2zM52 46h1v2h-1zM107 46h1v2h-1zM126 46h1v2h-1zM194 46h1v2h-1zM5 48h2v2h-2zM49 48h1v2h-1zM161 48h2v2h-2zM10 50h1v2h-1zM44 52h2v2h-2zM82 52h1v2h-1zM172 52h2v2h-2zM92 54h1v2h-1zM111 54h1v2h-1zM130 54h1v2h-1zM32 56h3v2h-3zM67 56h1v2h-1zM79 56h1v2h-1zM143 56h3v2h-3zM175 56h1v2h-1zM14 58h1v2h-1zM51 58h2v2h-2zM143 58h1v2h-1zM148 58h1v2h-1zM181 58h2v2h-2z" fill="#ffffff" shape-rendering="crispEdges"/></pattern>
<pattern id="w12" width="200" height="60" patternUnits="userSpaceOnUse"><path d="M3 0h2v2h-2zM12 0h1v2h-1zM29 0h2v2h-2zM36 0h4v2h-4zM55 0h2v2h-2zM108 0h2v2h-2zM171 0h4v2h-4zM20 2h1v2h-1zM44 2h2v2h-2zM74 2h2v2h-2zM83 2h1v2h-1zM103 2h1v2h-1zM143 2h2v2h-2zM172 2h2v2h-2zM11 4h1v2h-1zM17 4h2v2h-2zM21 4h1v2h-1zM37 4h1v2h-1zM41 4h4v2h-4zM54 4h3v2h-3zM64 4h1v2h-1zM84 4h1v2h-1zM94 4h2v2h-2zM128 4h2v2h-2zM138 4h1v2h-1zM143 4h3v2h-3zM2 6h3v2h-3zM21 6h1v2h-1zM85 6h1v2h-1zM135 6h3v2h-3zM140 6h1v2h-1zM150 6h1v2h-1zM167 6h2v2h-2zM28 8h1v2h-1zM112 8h2v2h-2zM136 8h3v2h-3zM160 8h3v2h-3zM176 8h1v2h-1zM16 10h5v2h-5zM84 10h3v2h-3zM99 10h2v2h-2zM111 10h2v2h-2zM129 10h4v2h-4zM152 10h1v2h-1zM159 10h2v2h-2zM176 10h3v2h-3zM192 10h1v2h-1zM0 12h4v2h-4zM5 12h3v2h-3zM60 12h1v2h-1zM67 12h1v2h-1zM75 12h1v2h-1zM78 12h1v2h-1zM103 12h1v2h-1zM158 12h3v2h-3zM178 12h1v2h-1zM194 12h3v2h-3zM13 14h1v2h-1zM23 14h1v2h-1zM33 14h2v2h-2zM72 14h2v2h-2zM77 14h2v2h-2zM133 14h2v2h-2zM150 14h1v2h-1zM160 14h2v2h-2zM166 14h1v2h-1zM174 14h1v2h-1zM197 14h1v2h-1zM22 16h1v2h-1zM46 16h3v2h-3zM53 16h1v2h-1zM100 16h1v2h-1zM143 16h2v2h-2zM177 16h2v2h-2zM8 18h1v2h-1zM48 18h1v2h-1zM92 18h1v2h-1zM101 18h1v2h-1zM108 18h1v2h-1zM0 20h1v2h-1zM29 20h2v2h-2zM37 20h1v2h-1zM52 20h1v2h-1zM55 20h1v2h-1zM57 20h5v2h-5zM69 20h2v2h-2zM105 20h2v2h-2zM121 20h5v2h-5zM159 20h3v2h-3zM183 20h2v2h-2zM199 20h1v2h-1zM5 22h1v2h-1zM27 22h2v2h-2zM35 22h1v2h-1zM119 22h2v2h-2zM135 22h1v2h-1zM180 22h2v2h-2zM187 22h2v2h-2zM8 24h1v2h-1zM78 24h2v2h-2zM119 24h1v2h-1zM137 24h2v2h-2zM187 24h2v2h-2zM9 26h1v2h-1zM27 26h4v2h-4zM56 26h2v2h-2zM84 26h3v2h-3zM128 26h1v2h-1zM141 26h2v2h-2zM146 26h1v2h-1zM182 26h5v2h-5zM190 26h1v2h-1zM18 28h1v2h-1zM66 28h1v2h-1zM79 28h2v2h-2zM89 28h2v2h-2zM95 28h2v2h-2zM153 28h2v2h-2zM178 28h3v2h-3zM194 28h1v2h-1zM30 30h2v2h-2zM75 30h1v2h-1zM79 30h3v2h-3zM124 30h2v2h-2zM134 30h3v2h-3zM155 30h3v2h-3zM164 30h2v2h-2zM44 32h1v2h-1zM53 32h2v2h-2zM74 32h1v2h-1zM80 32h1v2h-1zM93 32h3v2h-3zM132 32h10v2h-10zM10 34h3v2h-3zM61 34h1v2h-1zM101 34h1v2h-1zM123 34h1v2h-1zM139 34h1v2h-1zM173 34h1v2h-1zM176 34h2v2h-2zM182 34h5v2h-5zM6 36h2v2h-2zM9 36h3v2h-3zM135 36h2v2h-2zM141 36h2v2h-2zM149 36h1v2h-1zM187 36h3v2h-3zM2 38h1v2h-1zM10 38h2v2h-2zM45 38h1v2h-1zM70 38h2v2h-2zM90 38h1v2h-1zM116 38h2v2h-2zM178 38h1v2h-1zM184 38h1v2h-1zM191 38h4v2h-4zM7 40h1v2h-1zM20 40h2v2h-2zM26 40h2v2h-2zM38 40h1v2h-1zM54 40h1v2h-1zM66 40h2v2h-2zM78 40h2v2h-2zM109 40h1v2h-1zM173 40h1v2h-1zM180 40h6v2h-6zM196 40h2v2h-2zM15 42h3v2h-3zM22 42h3v2h-3zM30 42h1v2h-1zM59 42h2v2h-2zM66 42h2v2h-2zM148 42h1v2h-1zM178 42h1v2h-1zM197 42h1v2h-1zM9 44h1v2h-1zM17 44h1v2h-1zM29 44h2v2h-2zM75 44h1v2h-1zM87 44h5v2h-5zM112 44h1v2h-1zM16 46h1v2h-1zM18 46h2v2h-2zM33 46h1v2h-1zM37 46h2v2h-2zM75 46h2v2h-2zM116 46h1v2h-1zM152 46h1v2h-1zM157 46h1v2h-1zM22 48h1v2h-1zM75 48h4v2h-4zM91 48h1v2h-1zM100 48h4v2h-4zM134 48h2v2h-2zM148 48h1v2h-1zM171 48h1v2h-1zM3 50h2v2h-2zM10 50h1v2h-1zM22 50h1v2h-1zM28 50h1v2h-1zM36 50h2v2h-2zM48 50h1v2h-1zM82 50h2v2h-2zM88 50h2v2h-2zM125 50h3v2h-3zM138 50h1v2h-1zM145 50h1v2h-1zM147 50h5v2h-5zM162 50h1v2h-1zM192 50h2v2h-2zM198 50h1v2h-1zM17 52h3v2h-3zM42 52h1v2h-1zM50 52h1v2h-1zM53 52h3v2h-3zM59 52h2v2h-2zM89 52h1v2h-1zM107 52h3v2h-3zM116 52h1v2h-1zM149 52h2v2h-2zM30 54h2v2h-2zM36 54h2v2h-2zM73 54h2v2h-2zM140 54h1v2h-1zM176 54h1v2h-1zM20 56h3v2h-3zM53 56h1v2h-1zM94 56h1v2h-1zM138 56h3v2h-3zM188 56h1v2h-1zM4 58h2v2h-2zM47 58h2v2h-2zM63 58h1v2h-1zM84 58h2v2h-2zM93 58h2v2h-2zM104 58h4v2h-4zM139 58h2v2h-2zM185 58h1v2h-1zM193 58h1v2h-1zM196 58h1v2h-1z" fill="#ffffff" shape-rendering="crispEdges"/></pattern>
</defs>
<rect width="3750" height="1875" fill="#fff"/>
<g clip-path="url(#cp)" shape-rendering="crispEdges">
<polygon points="266,826 400,827.27 530,828.5 700,830.11 900,832 1000,832.62 1300,834.48 1544,836 1700,838.69 1900,842.14 2124,846 2370,848.29 2420,848.76 2600,850.43 2768,852 3018,850 3143,850 3218,835 3300,828 3475,828 3500,819 3540,806 3590,799 3637,803 3637,808.85 3590,804.85 3540,811.85 3500,825.3 3475,835.65 3300,837.45 3218,843.1 3143,859 3018,868 2768,871.35 2600,866.44 2420,866.42 2370,869.76 2124,868.95 1900,863.68 1700,859.98 1544,858.95 1300,859.47 1000,857.54 900,854.95 700,852.78 530,851.45 400,850.32 266,852.1" fill="url(#g04)"/>
<polygon points="266,853.84 400,851.86 530,852.98 700,854.3 900,856.48 1000,859.2 1300,861.13 1544,860.48 1700,861.4 1900,865.11 2124,870.48 2370,871.19 2420,867.59 2600,867.51 2768,872.64 3018,869.2 3143,859.6 3218,843.64 3300,838.08 3475,836.16 3500,825.72 3540,812.24 3590,805.24 3637,809.24 3637,813.4 3590,809.4 3540,816.4 3500,830.2 3475,841.6 3300,844.8 3218,849.4 3143,866 3018,882 2768,886.4 2600,878.89 2420,880.15 2370,886.46 2124,886.8 1900,880.43 1700,876.54 1544,876.8 1300,878.9 1000,876.92 900,872.8 700,870.42 530,869.3 400,868.25 266,872.4" fill="url(#g15)"/>
<polygon points="266,870.66 400,866.72 530,867.77 700,868.91 900,871.27 1000,875.26 1300,877.23 1544,875.27 1700,875.12 1900,878.99 2124,885.27 2370,885.03 2420,878.97 2600,877.82 2768,885.11 3018,880.8 3143,865.4 3218,848.86 3300,844.17 3475,841.09 3500,829.78 3540,816.01 3590,809.01 3637,813.01 3637,815.35 3590,811.35 3540,818.35 3500,832.3 3475,844.15 3300,847.95 3218,852.1 3143,869 3018,888 2768,892.85 2600,884.22 2420,886.04 2370,893.61 2124,894.45 1900,887.61 1700,883.63 1544,884.45 1300,887.22 1000,885.23 900,880.45 700,877.98 530,876.95 400,875.94 266,881.1" fill="url(#g40)"/>
<polygon points="266,879.36 400,874.4 530,875.42 700,876.47 900,878.92 1000,883.57 1300,885.56 1544,882.92 1700,882.22 1900,886.17 2124,892.92 2370,892.18 2420,884.86 2600,883.15 2768,891.56 3018,886.8 3143,868.4 3218,851.56 3300,847.32 3475,843.64 3500,831.88 3540,817.96 3590,810.96 3637,814.96 3637,817 3590,813 3540,820 3500,834 3475,846 3300,850 3218,854 3143,871 3018,891 2768,896 2600,887 2420,889 2370,897 2124,898 1900,891 1700,887 1544,888 1300,891 1000,889 900,884 700,881.5 530,880.5 400,879.5 266,885" fill="url(#g75)"/>
<polygon points="3225,838 3260,829 3330,827 3480,829 3500,826 3500,846 3225,852" fill="url(#g40)"/>
<polygon points="266,884 400,878.5 530,879.5 700,880.5 900,883 1000,888 1300,890 1544,887 1700,886 1900,890 2124,897 2370,896 2420,888 2600,886 2768,895 3018,890 3143,870 3218,853 3300,849 3475,845 3500,833 3540,819 3590,812 3637,816 3637,960 266,960" fill="#d3d3d3"/>
<polygon points="266,884 400,878.5 530,879.5 700,880.5 900,883 1000,888 1300,890 1544,887 1700,886 1900,890 2124,897 2370,896 2420,888 2600,886 2768,895 3018,890 3143,870 3218,853 3300,849 3475,845 3500,833 3540,819 3590,812 3637,816 3637,827 3590,823 3540,830 3500,844 3475,856 3300,860 3218,864 3143,881 3018,901 2768,906 2600,897 2420,899 2370,907 2124,908 1900,901 1700,897 1544,898 1300,901 1000,899 900,894 700,891.5 530,890.5 400,889.5 266,895" fill="url(#w12)"/>
<polygon points="266,895 400,889.5 530,890.5 700,891.5 900,894 1000,899 1300,901 1544,898 1700,897 1900,901 2124,908 2370,907 2420,899 2600,897 2768,906 3018,901 3143,881 3218,864 3300,860 3475,856 3500,844 3540,830 3590,823 3637,827 3637,852 3590,848 3540,855 3500,869 3475,881 3300,885 3218,889 3143,906 3018,926 2768,931 2600,922 2420,924 2370,932 2124,933 1900,926 1700,922 1544,923 1300,926 1000,924 900,919 700,916.5 530,915.5 400,914.5 266,920" fill="url(#w05)"/>
<polygon points="520.65,366.4 538.63,365.68 539.35,373.6 521.37,374.32" fill="url(#c18)"/>
<polygon points="533.72,372.78 562.58,363.16 577.69,364.53 596.93,370.03 613.42,374.15 613.42,382.39 640.9,393.39 640.9,404.38 607.92,401.63 599.68,396.13 577.69,394.76 566.7,387.89 547.46,385.14 533.72,379.65" fill="url(#c18)"/>
<polygon points="608.03,341.6 628.97,341.6 628.97,344.4 608.03,344.4" fill="url(#c18)"/>
<polygon points="613.21,351.39 631.29,351.39 631.29,358.61 613.21,358.61" fill="url(#c18)"/>
<polygon points="633.03,344.91 649.91,346.78 649.91,352.41 634.91,351.66" fill="url(#c18)"/>
<polygon points="666.01,339.33 681.23,339.33 692.3,350.95 717.2,350.95 722.74,362.02 717.2,374.47 706.13,381.39 695.06,397.99 681.23,402.14 659.09,392.46 650.79,381.39 636.95,375.86 634.18,368.94 653.55,363.4 681.23,362.02 678.46,350.95 667.39,345.41" fill="url(#c18)"/>
<polygon points="720.05,358.85 741.95,357.03 736.47,367.97 725.53,366.15" fill="url(#c18)"/>
<polygon points="748.21,356.8 768.48,361.15 800.34,350.43 820.62,350.43 820.62,358.25 797.45,366.94 794.55,374.18 777.17,374.18 778.62,364.04 762.69,362.6" fill="url(#c18)"/>
<polygon points="816.27,363.18 843.03,357.23 851.95,343.86 871.27,340.88 871.27,363.18 851.95,366.15 837.08,364.67 825.19,372.1" fill="url(#c18)"/>
<polygon points="322.06,380.32 329.58,397.66 327.84,432.34 320.91,443.9 315.13,432.34 313.97,403.44" fill="url(#c18)"/>
<polygon points="349.46,379.91 370.63,379.91 372.86,395.51 388.45,396.62 388.45,436.73 385.11,450.09 377.31,450.09 372.86,431.16 361.71,428.93 357.26,452.32 349.46,452.32 347.23,420.02 338.32,406.65 343.89,397.74" fill="url(#c18)"/>
<polygon points="436.18,430.03 456.03,416.02 463.03,419.52 463.03,460.39 453.69,468.56 438.51,465.06 436.18,451.05 444.35,439.37" fill="url(#c18)"/>
<polygon points="759.12,395.75 770.38,394.25 770.38,404 759.12,404" fill="url(#c18)"/>
<polygon points="759.96,408.35 769.66,409.84 778.61,418.79 778.61,423.26 766.67,421.77" fill="url(#c18)"/>
<polygon points="857.43,412.25 871.07,387.69 890.17,386.32 900,398.6 916.37,404.06 932.74,382.23 940.93,382.23 940.93,404.06 928.38,431.35 916.37,434.08 905.45,455.91 884.72,455.91 887.44,436.81 868.34,436.81 860.16,420.43" fill="url(#c18)"/>
<polygon points="622.14,415.13 629.05,415.13 627.67,435.87 622.14,435.87" fill="url(#c18)"/>
<polygon points="625.88,439.88 633.38,438.38 631.88,447.38 625.88,447.38" fill="url(#c18)"/>
<polygon points="266.63,421.08 275.19,422.15 279.47,437.14 290.18,448.91 298.21,453.19 301.95,463.9 310.52,464.97 314.26,458.54 319.62,479.95 324.97,487.98 328.71,498.69 333,506.71 328.71,507.78 322.29,504.04 319.62,514.74 312.66,509.39 300.88,501.36 292.85,501.36 287.5,514.74 282.15,498.69 266.63,498.69" fill="url(#c60)"/>
<polygon points="290.46,430.41 311.54,430.41 311.54,443.59 290.46,443.59" fill="url(#c18)"/>
<polygon points="911.25,350.08 920.11,336.79 945.21,330.88 955.54,335.31 949.64,350.08 955.54,360.41 940.78,358.93 926.02,364.84 917.16,358.93" fill="url(#c18)"/>
<polygon points="941.79,315.94 962.42,315.94 989.93,310.44 1009.18,321.44 1039.44,329.7 1040.82,340.7 1020.19,348.95 1009.18,362.7 992.68,361.33 1006.43,347.58 984.43,340.7 973.42,325.57 956.92,321.44 943.17,320.07" fill="url(#c18)"/>
<polygon points="1038.57,329.28 1054.32,323.55 1065.77,337.87 1074.35,352.18 1074.35,375.08 1068.63,386.53 1061.47,383.66 1060.04,360.77 1040,343.59" fill="url(#c18)"/>
<polygon points="1094.38,341.25 1105.62,341.25 1105.62,345.75 1094.38,345.75" fill="url(#c18)"/>
<polygon points="1078.74,303.06 1102.62,304.77 1100.92,316.71 1088.97,316.71" fill="url(#c18)"/>
<polygon points="1126.61,320.96 1140.21,314.16 1170.12,310.08 1202.76,318.24 1209.56,330.47 1202.76,338.63 1212.27,352.23 1210.92,359.03 1197.32,359.03 1175.56,352.23 1148.37,361.75 1137.49,367.19 1133.41,353.59 1134.77,334.55 1126.61,329.12" fill="url(#c18)"/>
<polygon points="1133.73,334.73 1175.68,337.52 1203.64,338.92 1212.03,355.7 1175.68,351.5 1147.72,361.29 1136.53,364.09" fill="url(#c18)"/>
<polygon points="1148.81,390.69 1157.18,378.14 1187.87,375.35 1190.66,383.72 1215.78,386.51 1225.54,394.88 1226.94,417.2 1201.83,417.2 1187.87,400.46 1162.76,397.67 1153,411.62 1153,399.06" fill="url(#c18)"/>
<polygon points="1334.88,330.66 1339.49,321.43 1354.88,324.5 1351.8,336.81 1354.88,358.36 1339.49,358.36 1325.65,349.12 1336.42,344.51" fill="url(#c18)"/>
<polygon points="1390.64,325 1406.49,317.79 1439.63,322.11 1436.75,335.08 1429.54,348.05 1406.49,349.49 1389.2,343.73" fill="url(#c18)"/>
<polygon points="1444.46,330.81 1470.55,325.02 1498.1,325.02 1498.1,345.31 1473.45,351.11 1461.86,361.26 1447.36,361.26 1458.96,345.31 1445.91,342.41" fill="url(#c18)"/>
<polygon points="1395.54,363.6 1421.07,363.6 1417.88,374.77 1401.92,377.96 1400.33,387.54 1390.75,387.54" fill="url(#c18)"/>
<polygon points="1376.72,381.72 1382.34,376.09 1387.97,383.59 1384.22,394.84" fill="url(#c18)"/>
<polygon points="1459.53,390.98 1482.91,375.39 1496.94,373.83 1496.94,392.54 1482.91,387.86 1465.77,395.65" fill="url(#c18)"/>
<polygon points="955.15,405.21 968.94,379.16 984.26,379.16 973.53,394.48 967.41,412.87 958.21,412.87" fill="url(#c18)"/>
<polygon points="1069.64,385.76 1081.61,389.18 1081.61,406.28 1069.64,406.28" fill="url(#c18)"/>
<polygon points="1500.04,433.87 1506.49,410.01 1520.99,408.08 1519.38,419.68 1508.1,433.87" fill="url(#c18)"/>
<polygon points="1605.12,335.28 1613.46,314.42 1645.45,311.64 1664.91,315.81 1666.3,351.97 1617.63,351.97 1605.12,346.41" fill="url(#c18)"/>
<polygon points="1651.38,315.56 1671.07,315.56 1693.57,324 1710.44,325.4 1721.69,333.84 1738.56,328.22 1738.56,332.43 1721.69,347.9 1710.44,347.9 1707.63,338.06 1693.57,349.31 1673.88,345.09 1680.91,333.84 1651.38,325.4" fill="url(#c18)"/>
<polygon points="1769.39,334.25 1792.38,337.13 1815.36,337.13 1834.03,337.13 1834.03,344.31 1815.36,345.75 1773.7,344.31" fill="url(#c18)"/>
<polygon points="1807.7,318.78 1814.76,301.84 1843.01,303.25 1862.78,303.25 1893.84,301.84 1893.84,307.49 1882.54,317.37 1865.6,317.37 1862.78,325.84 1851.48,327.25 1861.36,338.55 1847.24,338.55 1847.24,325.84 1828.88,323.02 1811.94,327.25" fill="url(#c18)"/>
<polygon points="1908.57,391.19 1921.47,391.19 1927.2,376.86 1944.39,381.16 1955.85,372.56 1970.18,372.56 1970.18,381.16 1961.58,389.76 1967.31,401.22 1955.85,412.68 1944.39,411.25 1941.52,401.22 1924.33,404.08 1918.6,394.05 1908.57,394.05" fill="url(#c18)"/>
<polygon points="1967.07,405.43 1978.52,379.67 1988.54,375.37 1998.56,382.53 1995.7,399.71 1998.56,428.33 1967.07,428.33 1964.21,416.88" fill="url(#c18)"/>
<polygon points="2012.28,375.94 2023.53,375.94 2019.78,385.31 2014.16,385.31" fill="url(#c18)"/>
<polygon points="1741.64,399.86 1745.71,399.86 1747.06,410.7 1757.91,405.28 1760.62,424.25 1766.04,451.36 1766.04,478.47 1761.97,485.25 1751.13,467.63 1748.42,445.94 1744.35,424.25 1741.1,413.41" fill="url(#c60)"/>
<polygon points="1762.06,426.7 1772.54,416.22 1774.29,423.21 1767.3,440.69 1763.81,440.69" fill="url(#c18)"/>
<polygon points="1767.34,448.28 1772.97,450.16 1774.84,465.16 1771.09,465.16" fill="url(#c18)"/>
<polygon points="1495.16,473.32 1503.19,470.65 1511.21,451.93 1520.57,457.27 1527.26,473.32 1525.92,513.44 1517.9,532.16 1509.87,553.55 1507.2,548.2 1509.87,521.46 1501.85,494.71" fill="url(#c60)"/>
<polygon points="1528.08,468.07 1533.49,451.86 1538.89,459.96 1542.94,481.57 1544.29,513.98 1541.59,543.69 1536.19,532.89 1530.79,500.48" fill="url(#c60)"/>
<polygon points="1543.5,447.61 1551.29,421.63 1555.19,413.84 1559.08,421.63 1562.98,452.81 1565.58,463.2 1561.68,512.55 1560.38,551.52 1555.19,572.3 1551.29,598.27 1544.79,582.69 1538.3,593.08 1534.4,577.49 1535.7,556.71 1542.2,541.13 1547.39,509.95 1545.31,473.59" fill="url(#c60)"/>
<polygon points="1565.93,479.63 1570.08,482.4 1572.85,526.73 1570.08,535.04 1567.31,521.19" fill="url(#c60)"/>
<polygon points="1827.72,470.49 1833.22,469.12 1837.34,481.49 1864.83,480.11 1892.33,492.49 1923.94,503.48 1922.57,514.48 1892.33,521.35 1866.21,513.11 1859.34,496.61 1848.34,490.29 1831.84,478.74" fill="url(#c18)"/>
<polygon points="1845,468.59 1852.5,468.59 1852.5,485.47 1845,483.59" fill="url(#c18)"/>
<polygon points="2044.55,395.16 2081.68,371.82 2090.7,370.23 2115.1,380.84 2137.38,391.45 2159.66,386.14 2140.03,412.67 2137.38,436.54 2068.42,463.06 2049.86,457.75 2030.23,441.84" fill="url(#c18)"/>
<polygon points="2001.21,457.82 2003.79,457.82 2003.79,477.18 2001.21,477.18" fill="url(#c60)"/>
<polygon points="2066.63,459.67 2132.38,434.39 2134.91,411.63 2153.62,386.34 2188.01,391.4 2198.12,393.93 2220.88,391.4 2261.34,368.64 2281.57,359.79 2289.16,368.64 2301.8,368.64 2332.14,371.17 2349.84,366.11 2380.19,356 2390.3,362.32 2415.59,363.58 2453.52,368.64 2461.11,366.11 2478.81,361.06 2516.74,344.62 2536.97,342.09 2567.31,340.83 2582.48,348.41 2594.62,366.62 2601.7,368.64 2611.81,381.29 2626.99,401.51 2639.63,409.1 2639.12,469.79 2586.53,472.32 2534.44,474.85 2524.32,484.96 2526.85,515.3 2531.91,538.06 2529.38,558.29 2516.74,570.94 2504.09,593.69 2491.45,598.75 2504.09,634.15 2496.51,616.45 2466.16,611.39 2428.23,611.39 2390.3,613.92 2377.66,621.51 2367.54,629.09 2366.03,641.74 2361.98,658.93 2339.73,656.91 2337.71,633.65 2314.44,629.09 2294.21,627.83 2261.34,618.98 2225.94,616.45 2213.3,629.09 2200.65,596.22 2190.54,583.58 2162.72,565.88 2157.67,543.12 2150.08,546.91 2134.91,527.95 2112.15,533.01 2107.09,522.89 2086.86,490.02 2069.16,469.79" fill="url(#c60)"/>
<polygon points="2580.25,376.42 2595.46,368.82 2605.6,381.49 2620.81,401.77 2633.48,409.37 2656.29,401.77 2666.43,389.09 2706.98,386.56 2712.05,394.16 2739.94,386.56 2757.68,391.63 2777.96,381.49 2798.23,394.16 2821.05,376.42 2833.72,366.28 2848.93,378.95 2859.07,391.63 2874.27,381.49 2892.02,381.49 2930.04,384.02 2955.38,389.09 2975.66,386.56 2995.94,376.42 3011.15,381.49 3026.35,394.16 3069.44,396.7 3099.86,391.63 3125.21,386.56 3150.55,391.63 3155.62,394.16 3155.62,513.29 3137.88,518.36 3112.53,518.36 3099.86,505.69 3074.51,500.62 3061.84,493.02 3031.42,495.55 3011.15,503.15 2995.94,495.55 2988.33,493.02 2985.8,515.83 2970.59,533.57 2955.38,520.9 2945.24,495.55 2932.57,500.62 2917.36,493.02 2907.22,480.34 2904.69,510.76 2894.55,531.04 2879.34,533.57 2866.67,515.83 2854,520.9 2833.72,495.55 2818.51,515.83 2808.37,541.17 2798.23,525.97 2788.09,500.62 2772.89,490.48 2757.68,505.69 2745,495.55 2737.4,485.41 2706.98,485.41 2701.92,472.74 2656.29,482.88 2648.69,495.55 2647.42,523.43 2641.08,525.97 2630.94,510.76 2618.27,495.55 2605.6,500.62 2580.25,480.34" fill="url(#c60)"/>
<polygon points="3151.59,412.77 3164.69,412.77 3175.16,410.15 3248.48,412.77 3248.48,486.09 3235.39,499.18 3217.06,491.32 3206.58,504.42 3188.25,491.32 3169.92,488.7 3167.31,470.38 3151.59,465.14" fill="url(#c60)"/>
<polygon points="3254.87,427.49 3265.55,438.17 3281.57,435.5 3289.58,438.17 3289.58,494.24 3276.23,504.92 3262.88,507.59 3260.21,488.9" fill="url(#c60)"/>
<polygon points="3292.87,431.88 3295.42,401.22 3315.86,398.66 3379.74,398.66 3400.18,401.22 3420.62,411.44 3456.39,413.99 3494.72,411.44 3533.04,411.44 3548.37,411.44 3566.26,429.32 3571.37,452.32 3571.37,526.41 3563.7,516.19 3548.37,505.97 3533.04,513.64 3497.27,511.08 3466.61,495.75 3430.84,495.75 3415.51,498.31 3379.74,493.2 3349.08,508.53 3328.64,488.09 3303.09,498.31 3292.87,495.75" fill="url(#c60)"/>
<polygon points="3566.35,460.86 3606.02,463.5 3638.56,447.63 3643.06,447.63 3643.06,529.63 3619.25,516.41 3603.38,524.34 3595.44,508.47 3574.28,503.18 3566.35,505.83" fill="url(#c60)"/>
<polygon points="3556.19,510.19 3576.14,510.19 3576.14,526.81 3562.84,530.14 3556.19,520.16" fill="url(#c18)"/>
<polygon points="3596.52,515.67 3607.68,511.95 3607.68,526.83 3598.38,530.55" fill="url(#c18)"/>
<polygon points="2731.69,570.8 2723.37,545.85 2737.23,523.67 2756.64,512.58 2784.36,509.81 2787.13,526.45 2776.04,545.85 2745.55,562.48" fill="url(#c18)"/>
<polygon points="2664.09,553.71 2675.41,535.31 2683.91,543.8 2709.39,542.39 2713.64,555.13 2695.23,560.79 2678.25,562.21 2672.58,572.12 2669.75,560.79" fill="url(#c60)"/>
<polygon points="2805.29,541.85 2818.07,525.88 2837.24,522.68 2840.44,529.07 2821.27,535.46 2811.68,545.05" fill="url(#c18)"/>
<polygon points="2644.31,333.91 2655.56,332.03 2657.44,339.53 2646.19,343.28" fill="url(#c18)"/>
<polygon points="2655.9,360.65 2663.01,355.31 2668.35,374.88 2661.24,376.66" fill="url(#c18)"/>
<polygon points="2677.02,358.64 2690.99,360.39 2696.23,376.11 2689.25,376.11" fill="url(#c18)"/>
<polygon points="2644.56,331.88 2657.69,331.88 2657.69,343.12 2644.56,343.12" fill="url(#c18)"/>
<polygon points="3140.12,330.04 3153.18,311.17 3166.25,314.07 3170.6,346.01 3161.89,369.23 3148.83,360.52 3147.38,340.2" fill="url(#c18)"/>
<polygon points="3197.95,330.93 3213.17,328.16 3240.84,333.7 3285.1,328.16 3285.1,361.36 3262.97,377.96 3246.37,366.9 3240.84,350.3 3210.4,347.53" fill="url(#c18)"/>
<polygon points="3286.89,339.63 3294.29,312.99 3307.61,333.71 3307.61,363.31 3289.85,360.35" fill="url(#c18)"/>
<polygon points="3301.77,334.37 3320.19,305.42 3328.08,306.73 3354.4,326.47 3388.62,339.63 3422.83,334.37 3441.25,326.47 3464.94,334.37 3486,350.16 3486,355.42 3459.68,358.05 3433.36,365.95 3380.72,358.05 3367.56,381.74 3354.4,365.95 3328.08,360.68 3320.19,381.74 3314.93,360.68" fill="url(#c18)"/>
<polygon points="3507.4,323.69 3528.58,321.04 3555.05,326.33 3608.01,323.69 3645.08,321.04 3645.08,381.93 3608.01,381.93 3581.53,376.64 3528.58,371.34 3512.69,344.87" fill="url(#c18)"/>
<polygon points="3362.84,372.4 3374.78,372.4 3380.76,390.32 3401.66,390.32 3404.65,402.27 3368.81,402.27" fill="url(#c18)"/>
<polygon points="3104.85,387.76 3130.83,385.16 3151.61,385.16 3154.21,413.74 3154.21,465.7 3151.61,515.06 3130.83,520.26 3104.85,504.67" fill="url(#c60)"/>
<polygon points="853.45,683.98 855.96,670.16 862.24,672.67 870.4,683.98 867.26,711.61 862.24,702.81 855.96,697.79" fill="url(#c18)"/>
<polygon points="879.06,683.53 884.19,683.53 884.19,694.47 879.06,694.47" fill="url(#c60)"/>
<polygon points="1100.59,669.98 1110.16,664 1116.15,658.02 1125.72,660.41 1136.49,661.61 1138.89,669.98" fill="url(#c60)"/>
<polygon points="1144.54,691.11 1149.87,685.11 1156.52,691.11 1156.52,703.09 1144.54,703.09" fill="url(#c60)"/>
<polygon points="523.5,367.5 536,367 536.5,372.5 524,373" fill="url(#c60)"/>
<polygon points="538.5,373.75 564.75,365 578.5,366.25 596,371.25 611,375 611,382.5 636,392.5 636,402.5 606,400 598.5,395 578.5,393.75 568.5,387.5 551,385 538.5,380" fill="url(#c60)"/>
<polygon points="611,342 626,342 626,344 611,344" fill="url(#c60)"/>
<polygon points="616,352.5 628.5,352.5 628.5,357.5 616,357.5" fill="url(#c60)"/>
<polygon points="636,346.25 647.25,347.5 647.25,351.25 637.25,350.75" fill="url(#c60)"/>
<polygon points="667.25,342 681,342 691,352.5 713.5,352.5 718.5,362.5 713.5,373.75 703.5,380 693.5,395 681,398.75 661,390 653.5,380 641,375 638.5,368.75 656,363.75 681,362.5 678.5,352.5 668.5,347.5" fill="url(#c60)"/>
<polygon points="723.5,360 738.5,358.75 734.75,366.25 727.25,365" fill="url(#c60)"/>
<polygon points="753.5,357.5 771,361.25 798.5,352 816,352 816,358.75 796,366.25 793.5,372.5 778.5,372.5 779.75,363.75 766,362.5" fill="url(#c60)"/>
<polygon points="821,362.5 843.5,357.5 851,346.25 867.25,343.75 867.25,362.5 851,365 838.5,363.75 828.5,370" fill="url(#c60)"/>
<polygon points="322,385 328.5,400 327,430 321,440 316,430 315,405" fill="url(#c85)"/>
<polygon points="351,384 370,384 372,398 386,399 386,435 383,447 376,447 372,430 362,428 358,449 351,449 349,420 341,408 346,400" fill="url(#c85)"/>
<polygon points="416,396 421,396 423,420 431,422 431,440 419,445 416,420" fill="url(#c35)"/>
<polygon points="438,432 455,420 461,423 461,458 453,465 440,462 438,450 445,440" fill="url(#c60)"/>
<polygon points="423.5,422 440,422 440,440 423.5,440" fill="url(#c35)"/>
<polygon points="761,397 768.5,396 768.5,402.5 761,402.5" fill="url(#c85)"/>
<polygon points="763.5,411 770,412 776,418 776,421 768,420" fill="url(#c85)"/>
<polygon points="861,412.5 873.5,390 891,388.75 900,400 915,405 930,385 937.5,385 937.5,405 926,430 915,432.5 905,452.5 886,452.5 888.5,435 871,435 863.5,420" fill="url(#c60)"/>
<polygon points="623,418 628,418 627,433 623,433" fill="url(#c85)"/>
<polygon points="627,441 632,440 631,446 627,446" fill="url(#c85)"/>
<polygon points="269,425 277,426 281,440 291,451 298.5,455 302,465 310,466 313.5,460 318.5,480 323.5,487.5 327,497.5 331,505 327,506 321,502.5 318.5,512.5 312,507.5 301,500 293.5,500 288.5,512.5 283.5,497.5 269,497.5" fill="#00ffff"/>
<polygon points="293,432 309,432 309,442 293,442" fill="url(#c60)"/>
<polygon points="915,350 922.5,338.75 943.75,333.75 952.5,337.5 947.5,350 952.5,358.75 940,357.5 927.5,362.5 920,357.5" fill="url(#c85)"/>
<polygon points="946.25,317.5 965,317.5 990,312.5 1007.5,322.5 1035,330 1036.25,340 1017.5,347.5 1007.5,360 992.5,358.75 1005,346.25 985,340 975,326.25 960,322.5 947.5,321.25" fill="url(#c60)"/>
<polygon points="975,337.5 981.25,337.5 978.75,355 975,355" fill="url(#c35)"/>
<polygon points="972.5,361.25 982.5,361.25 982.5,363.75 972.5,363.75" fill="url(#c35)"/>
<polygon points="1016.25,357.5 1036.25,357.5 1036.25,363.75 1016.25,363.75" fill="url(#c35)"/>
<polygon points="1041.25,332.5 1055,327.5 1065,340 1072.5,352.5 1072.5,372.5 1067.5,382.5 1061.25,380 1060,360 1042.5,345" fill="url(#c60)"/>
<polygon points="1085,361.25 1102.5,361.25 1102.5,364.25 1085,364.25" fill="url(#c35)"/>
<polygon points="1081.25,372.5 1105,372.5 1105,376.75 1081.25,376.75" fill="url(#c35)"/>
<polygon points="1040,380 1051.25,380 1051.25,383.75 1040,383.75" fill="url(#c35)"/>
<polygon points="1096.25,342 1103.75,342 1103.75,345 1096.25,345" fill="url(#c85)"/>
<polygon points="1082.5,305 1100,306.25 1098.75,315 1090,315" fill="url(#c60)"/>
<polygon points="1130,322.5 1142.5,316.25 1170,312.5 1200,320 1206.25,331.25 1200,338.75 1208.75,351.25 1207.5,357.5 1195,357.5 1175,351.25 1150,360 1140,365 1136.25,352.5 1137.5,335 1130,330" fill="url(#c60)"/>
<polygon points="1137.5,336.25 1175,338.75 1200,340 1207.5,355 1175,351.25 1150,360 1140,362.5" fill="url(#c85)"/>
<polygon points="1152.5,391.25 1160,380 1187.5,377.5 1190,385 1212.5,387.5 1221.25,395 1222.5,415 1200,415 1187.5,400 1165,397.5 1156.25,410 1156.25,398.75" fill="url(#c60)"/>
<polygon points="1336.25,332.5 1340,325 1352.5,327.5 1350,337.5 1352.5,355 1340,355 1328.75,347.5 1337.5,343.75" fill="url(#c60)"/>
<polygon points="1393.75,326.25 1407.5,320 1436.25,323.75 1433.75,335 1427.5,346.25 1407.5,347.5 1392.5,342.5" fill="url(#c60)"/>
<polygon points="1447.5,332.5 1470,327.5 1493.75,327.5 1493.75,345 1472.5,350 1462.5,358.75 1450,358.75 1460,345 1448.75,342.5" fill="url(#c60)"/>
<polygon points="1397.5,366.25 1417.5,366.25 1415,375 1402.5,377.5 1401.25,385 1393.75,385" fill="url(#c60)"/>
<polygon points="1378.75,382.5 1382.5,378.75 1386.25,383.75 1383.75,391.25" fill="url(#c85)"/>
<polygon points="1463.75,390 1482.5,377.5 1493.75,376.25 1493.75,391.25 1482.5,387.5 1468.75,393.75" fill="url(#c60)"/>
<polygon points="957.5,403.75 968.75,382.5 981.25,382.5 972.5,395 967.5,410 960,410" fill="url(#c60)"/>
<polygon points="1071.25,388.75 1080,391.25 1080,403.75 1071.25,403.75" fill="url(#c60)"/>
<polygon points="1502.5,431 1507.5,412.5 1518.75,411 1517.5,420 1508.75,431" fill="url(#c85)"/>
<polygon points="1607.75,335 1615.25,316.25 1644,313.75 1661.5,317.5 1662.75,350 1619,350 1607.75,345" fill="url(#c60)"/>
<polygon points="1656.5,317.5 1674,317.5 1694,325 1709,326.25 1719,333.75 1734,328.75 1734,332.5 1719,346.25 1709,346.25 1706.5,337.5 1694,347.5 1676.5,343.75 1682.75,333.75 1656.5,326.25" fill="url(#c60)"/>
<polygon points="1702.75,312.5 1714,302.5 1729,297.5 1745.25,298.75 1744,317.5 1734,311.25 1716.5,315" fill="url(#c35)"/>
<polygon points="1777.75,316.25 1789,316.25 1789,322.5 1777.75,322.5" fill="url(#c35)"/>
<polygon points="1774,335 1794,337.5 1814,337.5 1830.25,337.5 1830.25,343.75 1814,345 1777.75,343.75" fill="url(#c60)"/>
<polygon points="1812.75,318.75 1819,303.75 1844,305 1861.5,305 1889,303.75 1889,308.75 1879,317.5 1864,317.5 1861.5,325 1851.5,326.25 1860.25,336.25 1847.75,336.25 1847.75,325 1831.5,322.5 1816.5,326.25" fill="url(#c60)"/>
<polygon points="1885.25,317.5 1896.5,313.75 1904,315 1904,330 1901.5,330 1900.25,322.5 1885.25,320" fill="url(#c35)"/>
<polygon points="1909,318.75 1919,316.25 1917.75,323.75 1910.25,326.25" fill="url(#c35)"/>
<polygon points="1912.75,391.25 1924,391.25 1929,378.75 1944,382.5 1954,375 1966.5,375 1966.5,382.5 1959,390 1964,400 1954,410 1944,408.75 1941.5,400 1926.5,402.5 1921.5,393.75 1912.75,393.75" fill="url(#c60)"/>
<polygon points="1969,405 1979,382.5 1987.75,378.75 1996.5,385 1994,400 1996.5,425 1969,425 1966.5,415" fill="url(#c60)"/>
<polygon points="1785.25,386.25 1801.5,386.25 1791.5,393.75" fill="url(#c85)"/>
<polygon points="2014,377.5 2021.5,377.5 2019,383.75 2015.25,383.75" fill="url(#c60)"/>
<polygon points="1742.5,402.5 1746.25,402.5 1747.5,412.5 1757.5,407.5 1760,425 1765,450 1765,475 1761.25,481.25 1751.25,465 1748.75,445 1745,425 1742,415" fill="#00ffff"/>
<polygon points="1763.75,427.5 1771.25,420 1772.5,425 1767.5,437.5 1765,437.5" fill="url(#c60)"/>
<polygon points="1768.75,451.25 1772.5,452.5 1773.75,462.5 1771.25,462.5" fill="url(#c60)"/>
<polygon points="1496.25,475 1503.75,472.5 1511.25,455 1520,460 1526.25,475 1525,512.5 1517.5,530 1510,550 1507.5,545 1510,520 1502.5,495" fill="#00ffff"/>
<polygon points="1528.75,470 1533.75,455 1538.75,462.5 1542.5,482.5 1543.75,512.5 1541.25,540 1536.25,530 1531.25,500" fill="#00ffff"/>
<polygon points="1543.75,450 1551.25,425 1555,417.5 1558.75,425 1562.5,455 1565,465 1561.25,512.5 1560,550 1555,570 1551.25,595 1545,580 1538.75,590 1535,575 1536.25,555 1542.5,540 1547.5,510 1545.5,475" fill="#00ffff"/>
<polygon points="1566.25,482.5 1570,485 1572.5,525 1570,532.5 1567.5,520" fill="#00ffff"/>
<polygon points="1540,526.25 1542.5,526.25 1542.5,540 1540,540" fill="#ffb6c1"/>
<polygon points="1546.25,522.5 1548,522.5 1548,547.5 1546.25,547.5" fill="#ffb6c1"/>
<polygon points="1831.25,472.5 1836.25,471.25 1840,482.5 1865,481.25 1890,492.5 1918.75,502.5 1917.5,512.5 1890,518.75 1866.25,511.25 1860,496.25 1850,490.5 1835,480" fill="url(#c85)"/>
<polygon points="1846.25,471.25 1851.25,471.25 1851.25,482.5 1846.25,481.25" fill="url(#c60)"/>
<polygon points="1940,395 1947.5,377.5 1965,375 1965,385 1955,392.5 1960,405 1950,410 1955,425 1965,430 1962.5,437.5 1945,432.5 1940,420" fill="url(#c35)"/>
<polygon points="1967.5,407.5 1977.5,385 1985,378.75 1995,382.5 1996.25,402.5 1990,425 1970,425" fill="url(#c35)"/>
<polygon points="2013.75,377.5 2021.25,377.5 2021.25,382.5 2013.75,382.5" fill="url(#c35)"/>
<polygon points="1927,416 1940,418 1940,432 1930,430" fill="url(#c35)"/>
<polygon points="2047.5,396 2082.5,374 2091,372.5 2114,382.5 2135,392.5 2156,387.5 2137.5,412.5 2135,435 2070,460 2052.5,455 2034,440" fill="url(#c60)"/>
<polygon points="2001.5,460 2003.5,460 2003.5,475 2001.5,475" fill="#00ffff"/>
<polygon points="2070,460 2135,435 2137.5,412.5 2156,387.5 2190,392.5 2200,395 2222.5,392.5 2262.5,370 2282.5,361.25 2290,370 2302.5,370 2332.5,372.5 2350,367.5 2380,357.5 2390,363.75 2415,365 2452.5,370 2460,367.5 2477.5,362.5 2515,346.25 2535,343.75 2565,342.5 2580,350 2592,368 2599,370 2609,382.5 2624,402.5 2636.5,410 2636,470 2584,472.5 2532.5,475 2522.5,485 2525,515 2530,537.5 2527.5,557.5 2515,570 2502.5,592.5 2490,597.5 2502.5,632.5 2495,615 2465,610 2427.5,610 2390,612.5 2377.5,620 2367.5,627.5 2366,640 2362,657 2340,655 2338,632 2315,627.5 2295,626.25 2262.5,617.5 2227.5,615 2215,627.5 2202.5,595 2192.5,582.5 2165,565 2160,542.5 2152.5,546.25 2137.5,527.5 2115,532.5 2110,522.5 2090,490 2072.5,470" fill="#00ffff"/>
<polygon points="2584,377.5 2599,370 2609,382.5 2624,402.5 2636.5,410 2659,402.5 2669,390 2709,387.5 2714,395 2741.5,387.5 2759,392.5 2779,382.5 2799,395 2821.5,377.5 2834,367.5 2849,380 2859,392.5 2874,382.5 2891.5,382.5 2929,385 2954,390 2974,387.5 2994,377.5 3009,382.5 3024,395 3066.5,397.5 3096.5,392.5 3121.5,387.5 3146.5,392.5 3151.5,395 3151.5,512.5 3134,517.5 3109,517.5 3096.5,505 3071.5,500 3059,492.5 3029,495 3009,502.5 2994,495 2986.5,492.5 2984,515 2969,532.5 2954,520 2944,495 2931.5,500 2916.5,492.5 2906.5,480 2904,510 2894,530 2879,532.5 2866.5,515 2854,520 2834,495 2819,515 2809,540 2799,525 2789,500 2774,490 2759,505 2746.5,495 2739,485 2709,485 2704,472.5 2659,482.5 2651.5,495 2650.25,522.5 2644,525 2634,510 2621.5,495 2609,500 2584,480" fill="#00ffff"/>
<polygon points="3153.5,415 3166,415 3176,412.5 3246,415 3246,485 3233.5,497.5 3216,490 3206,502.5 3188.5,490 3171,487.5 3168.5,470 3153.5,465" fill="#00ffff"/>
<polygon points="3256,430 3266,440 3281,437.5 3288.5,440 3288.5,492.5 3276,502.5 3263.5,505 3261,487.5" fill="#00ffff"/>
<polygon points="3296,432.5 3298.5,402.5 3318.5,400 3381,400 3401,402.5 3421,412.5 3456,415 3493.5,412.5 3531,412.5 3546,412.5 3563.5,430 3568.5,452.5 3568.5,525 3561,515 3546,505 3531,512.5 3496,510 3466,495 3431,495 3416,497.5 3381,492.5 3351,507.5 3331,487.5 3306,497.5 3296,495" fill="#00ffff"/>
<polygon points="3568.5,462.5 3606,465 3636.75,450 3641,450 3641,527.5 3618.5,515 3603.5,522.5 3596,507.5 3576,502.5 3568.5,505" fill="#00ffff"/>
<polygon points="3558.5,512.5 3573.5,512.5 3573.5,525 3563.5,527.5 3558.5,520" fill="url(#c85)"/>
<polygon points="3598.5,517.5 3606,515 3606,525 3599.75,527.5" fill="url(#c85)"/>
<polygon points="2734,567.5 2726.5,545 2739,525 2756.5,515 2781.5,512.5 2784,527.5 2774,545 2746.5,560" fill="url(#c85)"/>
<polygon points="2666.5,553.75 2676.5,537.5 2684,545 2706.5,543.75 2710.25,555 2694,560 2679,561.25 2674,570 2671.5,560" fill="#00ffff"/>
<polygon points="2809,540 2819,527.5 2834,525 2836.5,530 2821.5,535 2814,542.5" fill="url(#c85)"/>
<polygon points="2759,492.5 2774,490 2791.5,495 2791.5,517.5 2776.5,517.5 2764,510" fill="#ffffff"/>
<polygon points="2866.5,445 2879,450 2877.75,470 2869,470" fill="#ffffff"/>
<polygon points="2906.5,440 2916.5,437.5 2917.75,480 2907.75,480" fill="#ffffff"/>
<polygon points="3054,460 3081.5,465 3081.5,480 3066.5,480 3054,475" fill="#ffffff"/>
<polygon points="2624,450 2637.75,447.5 2639,480 2629,480" fill="#ffffff"/>
<polygon points="2944,450 2959,445 2961.5,460 2946.5,462.5" fill="#ffffff"/>
<polygon points="2641,458 2710.25,459 2708.5,482.5 2659,482 2641.5,480" fill="#ffffff"/>
<polygon points="3136,458 3170,458 3172,482 3150,484 3140,470" fill="#ffffff"/>
<polygon points="2646.5,335 2654,333.75 2655.25,338.75 2647.75,341.25" fill="url(#c85)"/>
<polygon points="2657.75,362.5 2662.75,358.75 2666.5,372.5 2661.5,373.75" fill="url(#c60)"/>
<polygon points="2680.25,361.25 2690.25,362.5 2694,373.75 2689,373.75" fill="url(#c60)"/>
<polygon points="3142.75,330 3149,320 3164,320 3169,345 3156.5,345 3149,335" fill="url(#c35)"/>
<polygon points="3150.25,352.5 3161.5,352.5 3161.5,363.75 3150.25,363.75" fill="url(#c18)"/>
<polygon points="2984,363.75 2994,365 2999,377.5 2991.5,377.5" fill="url(#c35)"/>
<polygon points="2829,370 2849,367.5 2849,377.5 2831.5,377.5" fill="url(#c35)"/>
<polygon points="2646.75,333.75 2655.5,333.75 2655.5,341.25 2646.75,341.25" fill="url(#c60)"/>
<polygon points="2658,360 2665.5,360 2665.5,375 2658,375" fill="url(#c35)"/>
<polygon points="2680.5,361.25 2690.5,361.25 2690.5,372.5 2680.5,372.5" fill="url(#c35)"/>
<polygon points="3142.25,331.25 3153.5,315 3164.75,317.5 3168.5,345 3161,365 3149.75,357.5 3148.5,340" fill="url(#c60)"/>
<polygon points="3202.25,332.5 3216,330 3241,335 3281,330 3281,360 3261,375 3246,365 3241,350 3213.5,347.5" fill="url(#c85)"/>
<polygon points="3288.5,340 3294.75,317.5 3306,335 3306,360 3291,357.5" fill="url(#c60)"/>
<polygon points="3306,335 3323.5,307.5 3331,308.75 3356,327.5 3388.5,340 3421,335 3438.5,327.5 3461,335 3481,350 3481,355 3456,357.5 3431,365 3381,357.5 3368.5,380 3356,365 3331,360 3323.5,380 3318.5,360" fill="url(#c60)"/>
<polygon points="3511,325 3531,322.5 3556,327.5 3606,325 3641,322.5 3641,380 3606,380 3581,375 3531,370 3516,345" fill="url(#c85)"/>
<polygon points="3366,375 3376,375 3381,390 3398.5,390 3401,400 3371,400" fill="url(#c60)"/>
<polygon points="3231,400 3261,402.5 3266,415 3236,412.5" fill="url(#c35)"/>
<polygon points="3106,390 3131,387.5 3151,387.5 3153.5,415 3153.5,465 3151,512.5 3131,517.5 3106,502.5" fill="#00ffff"/>
<polygon points="383.12,660 386.88,660 386.88,663.75 410,663.75 410,680 408.12,686.25 411.88,693.75 411.88,725 408.12,725 405,720 401.88,726.25 398.12,726.88 395,720 394.38,727.5 390.62,720 388.75,712.5 386.25,703.75 383.12,700 380,695 380,671.25 383.12,670" fill="#00ffff"/>
<polygon points="415.62,673.12 418.75,673.12 421,681.25 421,705 418.75,706.25 418.12,715 416.25,716.88 415.62,705 412.5,695 412.5,688.75 416.25,685" fill="#00ffff"/>
<polygon points="416.5,686.88 418.75,683.75 418.75,695 416.88,700" fill="#ffffff"/>
<polygon points="386.88,652.5 391.25,648.75 393.12,645 401.25,645 410,650 411.88,652.5 411.88,660 410,663.75 386.88,663.75" fill="#ffb6c1"/>
<polygon points="413.12,651.88 415.62,651.88 415.62,661.88 413.12,661.88" fill="#ffb6c1"/>
<polygon points="416.88,653.75 419.38,652.5 421,654.38 421,660 419.38,661.25 416.88,661.25" fill="#ffb6c1"/>
<polygon points="416.88,666.25 418.75,666.25 418.75,670.62 416.88,670.62" fill="#ffb6c1"/>
<polygon points="476.88,673.12 481.88,675 483.12,680 491.25,677.5 492.5,690 496,690 496,700 493.12,700 492.5,725 496,725 495,740 489.38,740 486.88,737.5 487.5,730 485,727.5 480.62,727.5 478.12,722.5 480,717.5 477.5,712.5 476.25,695 475.62,685" fill="#00ffff"/>
<polygon points="464.75,661.88 466.25,664.38 472.5,667.5 476.88,666.88 476.88,670.62 472.5,670.62 466.25,667.5" fill="#00ffff"/>
<polygon points="468.12,683.75 470,678.75 470,690 468.5,693.75" fill="#00ffff"/>
<polygon points="471.88,679.38 475.62,679.38 475.62,685 473.75,688.75 476.88,715 473.12,710 471.88,702.5" fill="#00ffff"/>
<polygon points="476.88,666.25 481.25,663.75 485,661.88 492.5,663.75 493.12,675 491.25,677.5 483.12,680 481.88,675 476.88,673.12" fill="#ffb6c1"/>
<polygon points="462.75,660 464.75,660 464.75,665.62 462.75,665.62" fill="#ffb6c1"/>
<polygon points="526,701.88 528.75,701.88 530.62,698.12 531,711.25 533.12,711.25 533.12,718.75 530.62,719.38 530.62,733.75 533.12,733.75 533.12,737.75 529,737.75 526.88,733.75 526,722.5" fill="#00ffff"/>
<polygon points="543.75,698.12 547.5,698.12 550,690 553.12,690 555,692.5 555,703.75 556.88,706.25 557.5,712.5 560.62,708.12 564,711.25 564,727.5 560.62,730 556,724.38 552.5,716.25 551.25,708.75 546.25,708.12 546,716.88 543.75,716.88 541,711.25 541,704 543.75,703.75" fill="#00ffff"/>
<polygon points="855,685 857,674 862,676 868.5,685 866,707 862,700 857,696" fill="url(#c85)"/>
<polygon points="879.75,685 883.5,685 883.5,693 879.75,693" fill="#00ffff"/>
<polygon points="1208.75,651.25 1213.75,648.75 1215.62,643.12 1218.12,648.75 1222.5,643.12 1225.62,643.75 1226.25,651.25 1232.5,656.25 1240,650 1244.38,650 1245.62,655 1251.25,652.5 1255,657.5 1265,661.25 1277.5,662.5 1281.25,668.12 1290,670 1302.5,670 1306.25,675.62 1313.75,678.75 1322.5,678.75 1323.75,666.25 1326.25,666.25 1327.5,676.25 1332.5,665.62 1335,671.25 1346.25,673.75 1347.5,668.75 1353.75,666.25 1355,675 1362.5,675 1365,690 1370,693.75 1381.25,690 1385,685 1385,691.88 1392.5,692.5 1395,690 1395.62,712.5 1393.12,716.88 1390,713.75 1385,716.25 1383.75,726.88 1379.38,730 1378.75,746.25 1375,740 1372.5,748.75 1370,748.75 1365,740 1364.38,753.75 1361.25,754.38 1358.75,746.25 1356.25,763.75 1353.75,763.75 1352.5,742.5 1347.5,745.62 1345,740 1338.12,748.12 1335,745 1331.25,735 1322.5,735 1321.25,725 1317.5,731.25 1313.12,722.5 1310,707.5 1307.5,705 1306.25,710 1301.25,711.25 1300,745 1298.12,745.62 1293.75,737.5 1292.5,720 1286.25,720.62 1282.5,710 1280,713.75 1281.25,735 1277.5,743.75 1273.75,735 1270,735 1266.25,746.25 1261.25,746.25 1257.5,745 1248.75,741.25 1245,731.25 1243.75,713.75 1240,711.25 1236.25,705 1228.75,708.75 1226.25,702.5 1221.88,700 1220,677.5 1213.75,665 1213.12,656.25 1208.75,655.62" fill="#00ffff"/>
<polygon points="1208.75,683.12 1213.12,683.12 1213.75,677.5 1215,690 1217.5,689.38 1217.5,695.62 1213.12,692.5 1212.5,697.5 1210,697.5 1208.75,692.5" fill="#00ffff"/>
<polygon points="1243.12,650 1243.12,636.88 1244.38,633.75 1251.25,630.62 1258.75,630 1265,635 1271.25,637.5 1275,646.25 1280.62,650.62 1281.25,655.62 1290,658.12 1300,656.25 1302.5,654.38 1311.25,655.62 1318.75,660.62 1322.5,665.62 1322.75,678.75 1313.75,678.75 1306.25,675.62 1302.5,670 1290,670 1281.25,668.12 1277.5,662.5 1265,661.25 1255,657.5 1251.25,652.5 1245.62,655 1244.38,650" fill="#ffb6c1"/>
<polygon points="1226.25,641.25 1231.88,639.38 1231.88,680.62 1230,680.62 1229.38,658.12 1228.12,677.5 1226.25,676.25" fill="#ffb6c1"/>
<polygon points="1236.25,658.12 1238.75,660 1238.75,667.5 1236.25,667.5" fill="#ffb6c1"/>
<polygon points="1365,677.12 1370,677.12 1377.5,682.5 1380,686.25 1380,690 1376.25,693.12 1370,693.75 1365.62,690" fill="#ffb6c1"/>
<polygon points="1385,685 1387.5,683.5 1391.25,686.25 1391.88,693.12 1385,691.88" fill="#ffb6c1"/>
<polygon points="1436,675 1438.75,673.12 1440.62,673.75 1440.62,682.5 1436,682.5" fill="#ffb6c1"/>
<polygon points="1494,664.38 1495.88,664.38 1495.88,672.5 1494,672.5" fill="#ffb6c1"/>
<polygon points="1444.38,692.5 1447.5,691.88 1448.75,690 1450.62,690.62 1451.88,697.5 1444.38,697.5" fill="#d3d3d3"/>
<polygon points="1104,669 1112,664 1117,659 1125,661 1134,662 1136,669" fill="#00ffff"/>
<polygon points="1117.5,659 1122,659 1125,667.5 1117.5,667.5" fill="#ffb6c1"/>
<polygon points="1146,692 1150,687.5 1155,692 1155,701 1146,701" fill="#00ffff"/>
<polygon points="1565,665 1567.5,661.88 1568.75,670 1573.12,667.5 1576.25,660 1580,658.75 1580,628.75 1581.25,628.75 1581.88,649.38 1583.75,655 1590,655 1591.25,628.75 1592.5,628.75 1592.5,655 1595,652.5 1603.75,649.38 1603.75,636.88 1606.88,636.88 1607.5,660 1610,660 1611.25,665 1614,666.25 1614,676.25 1611.25,681.25 1612.75,688.75 1610,692.5 1607.5,695 1607.5,708.75 1605,712.5 1601.88,720.62 1600,720.62 1598.12,710 1592.5,708.75 1591.25,725 1589.38,727.5 1586.25,715 1582.5,712.5 1582.75,730 1580,728.75 1579.75,737.5 1579,737.5 1577.25,727.5 1576.25,716.25 1573.75,710 1573.12,690 1568.12,687.5 1566.25,688.75 1565,686.25" fill="#00ffff"/>
<polygon points="1576.25,658.75 1576.25,635 1580,635 1580,658.75" fill="#ffb6c1"/>
<polygon points="1581.88,636.25 1590,636.25 1590.62,631.25 1592.5,628.75 1596.88,626.25 1598.12,636.25 1603.12,640 1603.75,649.38 1595,652.5 1592.5,655 1583.75,655 1581.88,649.38" fill="#ffb6c1"/>
<polygon points="1566,651.88 1569,651.88 1569,670 1567.5,661.88 1566,657.5" fill="#ffb6c1"/>
<polygon points="1574.38,650 1576.88,650 1580,658.75 1580,667.5 1576.88,667.5 1576.25,658.75 1574.38,657.5" fill="#ffb6c1"/>
<polygon points="1607.5,642.5 1610,643.12 1610,650 1607.5,649.38" fill="#ffb6c1"/>
<polygon points="1595,664.38 1596,664.38 1596,678.75 1595,678.75" fill="#ffb6c1"/>
<polygon points="1580.38,628.75 1581,628.75 1581,655 1580.38,655" fill="#00ffff"/>
<polygon points="1591,628.75 1591.62,628.75 1591.62,655 1591,655" fill="#00ffff"/>
<polygon points="1494,664 1495.88,664 1495.88,672.75 1494,672.75" fill="#ffb6c1"/>
<polygon points="1519.38,700 1528.12,699.38 1528.12,703.75 1520,703.75" fill="#d3d3d3"/>
<polygon points="1528.12,696.25 1529.75,696.25 1529.75,703.75 1528.12,703.75" fill="#ffb6c1"/>
<path d="M2160 528.5h3.6v17.87h-3.6zM2163.6 544.7h2.4v16.99h-2.4zM2166 551.64h1.2v18.75h-1.2zM2167.2 552.4h2.4v19.59h-2.4zM2169.6 553.93h1.2v16.46h-1.2zM2173.2 556.22h1.2v15.58h-1.2zM2176.8 558.51h1.2v22.78h-1.2zM2178 559.27h1.2v22.68h-1.2zM2179.2 560.04h1.2v22.69h-1.2zM2180.4 560.8h1.2v29.67h-1.2zM2184 563.09h2.4v18.32h-2.4zM2186.4 564.62h2.4v17.41h-2.4zM2188.8 566.15h3.6v17.7h-3.6zM2193.6 569.87h2.4v26.73h-2.4zM2197.2 574.37h1.2v20.64h-1.2zM2198.4 575.87h2.4v20.32h-2.4zM2202 580.37h2.4v21.3h-2.4zM2205.6 587.2h2.4v15.07h-2.4zM2208 592h1.2v22.64h-1.2zM2209.2 594.4h1.2v33.19h-1.2zM2211.6 599.2h3.6v19.2h-3.6zM2217.6 604.96h1.2v21.25h-1.2zM2220 604h2.4v22.57h-2.4zM2222.4 603.04h1.2v19.89h-1.2zM2223.6 602.56h2.4v20.62h-2.4zM2226 601.6h2.4v17.45h-2.4zM2228.4 601.06h1.2v17.47h-1.2zM2232 601.32h1.2v15.65h-1.2zM2235.6 601.58h1.2v19.75h-1.2zM2238 601.75h2.4v16.17h-2.4zM2240.4 601.92h2.4v16.66h-2.4zM2242.8 602.09h2.4v18.48h-2.4zM2245.2 602.26h1.2v24.13h-1.2zM2248.8 602.52h3.6v33.66h-3.6zM2254.8 602.95h2.4v17.54h-2.4zM2258.4 603.21h2.4v22.21h-2.4zM2260.8 603.38h2.4v27.44h-2.4zM2263.2 603.69h2.4v22.52h-2.4zM2268 604.98h2.4v19.38h-2.4zM2271.6 605.95h1.2v21.2h-1.2zM2272.8 606.27h2.4v20.64h-2.4zM2276.4 607.24h2.4v22.85h-2.4zM2280 608.21h2.4v19.65h-2.4zM2282.4 608.86h2.4v17.01h-2.4zM2286 609.83h2.4v19h-2.4zM2289.6 610.8h2.4v17.76h-2.4zM2294.4 612.09h2.4v22.41h-2.4zM2299.2 612.51h2.4v27.25h-2.4zM2301.6 612.66h1.2v33.12h-1.2zM2305.2 612.89h2.4v20.76h-2.4zM2310 613.19h1.2v22.49h-1.2zM2313.6 613.41h2.4v21.2h-2.4zM2317.2 613.5h1.2v19.69h-1.2zM2318.4 613.5h1.2v16.44h-1.2zM2319.6 613.5h2.4v22.32h-2.4zM2322 613.5h1.2v16.45h-1.2zM2323.2 613.5h3.6v18.72h-3.6zM2329.2 613.5h3.6v16.63h-3.6zM2334 613.5h1.2v22.62h-1.2zM2337.6 613.5h1.2v19.38h-1.2zM2338.8 613.5h3.6v15.76h-3.6zM2343.6 613.5h3.6v17.81h-3.6zM2347.2 613.5h2.4v19.51h-2.4zM2350.8 613.5h2.4v19.77h-2.4zM2355.6 613.5h1.2v28.52h-1.2zM2358 613.5h1.2v17.61h-1.2zM2359.2 613.5h2.4v22.13h-2.4zM2364 613.5h2.4v16.81h-2.4zM2367.6 611.94h2.4v25.32h-2.4zM2370 610.5h3.6v20.93h-3.6zM2374.8 607.62h2.4v15.16h-2.4zM2378.4 605.46h2.4v22.01h-2.4zM2380.8 604.02h1.2v22.69h-1.2zM2382 603.3h2.4v16.09h-2.4zM2386.8 597.42h1.2v15.42h-1.2zM2388 596.7h1.2v14.86h-1.2zM2391.6 595.39h3.6v16.64h-3.6zM2395.2 595.15h1.2v15.01h-1.2zM2397.6 594.99h3.6v16.44h-3.6zM2401.2 594.75h1.2v14.32h-1.2zM2402.4 594.67h1.2v16.07h-1.2zM2406 594.43h2.4v16.7h-2.4zM2410.8 594.11h1.2v15.75h-1.2zM2414.4 593.87h2.4v15.49h-2.4zM2418 593.63h3.6v14.21h-3.6zM2421.6 593.39h2.4v14.08h-2.4zM2426.4 593.07h1.2v16.53h-1.2zM2427.6 593h3.6v14.4h-3.6zM2432.4 593h2.4v14.48h-2.4zM2434.8 593h1.2v14.84h-1.2zM2436 593h2.4v14.94h-2.4zM2440.8 593h2.4v14.41h-2.4zM2444.4 593h1.2v16.83h-1.2zM2445.6 593h2.4v14.85h-2.4zM2448 593h1.2v14.39h-1.2zM2449.2 593h2.4v14.37h-2.4zM2454 593h1.2v17.97h-1.2zM2455.2 593h3.6v16.86h-3.6zM2458.8 593h1.2v14.63h-1.2zM2462.4 593h2.4v23.35h-2.4zM2467.2 593.37h2.4v16.41h-2.4zM2472 594.17h2.4v16.22h-2.4zM2476.8 594.97h1.2v14.12h-1.2zM2480.4 595.57h2.4v15.86h-2.4zM2485.2 596.37h2.4v14.48h-2.4zM2488.8 596.97h2.4v14.33h-2.4zM2491.2 597.37h2.4v15.03h-2.4zM2494.8 597.97h2.4v15.42h-2.4zM2497.2 592.13h1.2v14.72h-1.2zM2498.4 588.93h1.2v14.23h-1.2zM2502 579.33h2.4v14.2h-2.4zM2506.8 569.4h1.2v14.13h-1.2zM2510.4 562.2h2.4v15.23h-2.4zM2512.8 557.4h1.2v15.05h-1.2zM2514 555h1.2v15.41h-1.2zM2515.2 552.8h1.2v16.5h-1.2zM2518.8 549.2h2.4v18.75h-2.4zM2523.6 544.4h1.2v14.32h-1.2zM2524.8 543.2h3.6v15.32h-3.6z" fill="#00ffff"/>
<path d="M2186.66 568.5h1.2v12.29h-1.2zM2194.62 579.52h1.2v7.62h-1.2zM2199.49 576.42h1.2v16.81h-1.2zM2207.4 598.99h1.2v7.82h-1.2zM2210.89 606.61h1.2v7.18h-1.2zM2220.94 603.82h1.2v15.81h-1.2zM2224.23 608.3h1.2v10h-1.2zM2229.47 605.25h1.2v11.89h-1.2zM2277.9 606.28h1.2v17.37h-1.2zM2283.19 618.15h1.2v6.92h-1.2zM2287.21 610.69h1.2v15.46h-1.2zM2291.92 610.73h1.2v16.69h-1.2zM2298.27 621.75h1.2v6.71h-1.2zM2316.88 617.5h1.2v12h-1.2zM2322.05 623.33h1.2v6.17h-1.2zM2335.92 616.08h1.2v13.42h-1.2zM2353.39 619.06h1.2v10.44h-1.2zM2387.86 598.38h1.2v17.4h-1.2zM2393.38 594.58h1.2v19.69h-1.2zM2407.83 603.43h1.2v9.88h-1.2zM2450.66 603.63h1.2v8.37h-1.2zM2462.66 594.84h1.2v17.16h-1.2zM2493.16 605.25h1.2v11.45h-1.2zM2498.07 598.45h1.2v10.37h-1.2z" fill="#fff"/>
<path d="M2156 385.5h1.2v5h-1.2zM2176.39 385.16h1.2v8.34h-1.2zM2181.63 390.07h1.2v4.2h-1.2zM2191.77 391.2h1.2v4.74h-1.2zM2200.98 390.17h1.2v7.72h-1.2zM2204.37 379.9h1.2v17.62h-1.2zM2206.66 390.82h1.2v6.44h-1.2zM2212.87 389.82h1.2v6.75h-1.2zM2216.69 388.91h1.2v7.24h-1.2zM2223.42 390.75h1.2v4.24h-1.2zM2231.62 385.6h1.2v4.77h-1.2zM2247.29 373.15h1.2v8.4h-1.2zM2250.94 369.7h1.2v9.81h-1.2zM2253.13 372.61h1.2v5.66h-1.2zM2257.56 362.36h1.2v13.42h-1.2zM2265.79 367.38h1.2v4.19h-1.2zM2269.07 365.2h1.2v4.93h-1.2zM2271.45 364.37h1.2v4.71h-1.2zM2302.22 365.43h1.2v7.57h-1.2zM2311.52 358.24h1.2v15.51h-1.2zM2323.89 367.22h1.2v7.56h-1.2zM2325.93 370.52h1.2v4.43h-1.2zM2333.09 367.03h1.2v8.3h-1.2zM2336.84 369.09h1.2v5.17h-1.2zM2340.93 368.06h1.2v5.03h-1.2zM2345.25 357.23h1.2v14.62h-1.2zM2350.1 364.84h1.2v5.63h-1.2zM2355.2 361.61h1.2v7.16h-1.2zM2365.27 358.5h1.2v6.91h-1.2zM2373.45 358.05h1.2v4.64h-1.2zM2376.05 351.82h1.2v10h-1.2zM2383.71 353.64h1.2v9.18h-1.2zM2385.53 354.9h1.2v9.06h-1.2zM2411.18 358.41h1.2v9.4h-1.2zM2423.7 359.74h1.2v9.42h-1.2zM2433.81 358.07h1.2v12.44h-1.2zM2440.12 364.08h1.2v7.27h-1.2zM2444.03 366.47h1.2v5.4h-1.2zM2448.58 358.43h1.2v14.05h-1.2zM2452.14 367.17h1.2v5.78h-1.2zM2454.66 367.75h1.2v4.53h-1.2zM2488.63 345.57h1.2v15.11h-1.2zM2491.46 355.25h1.2v4.2h-1.2zM2503.98 347.8h1.2v6.22h-1.2zM2518.34 336.41h1.2v12.43h-1.2zM2535.11 339.78h1.2v6.96h-1.2zM2544.7 333.06h1.2v13.28h-1.2zM2549.32 336.47h1.2v9.69h-1.2zM2553.21 338.74h1.2v7.25h-1.2zM2555.31 338.85h1.2v7.06h-1.2zM2558.01 339.71h1.2v6.08h-1.2zM2562.33 339.87h1.2v5.74h-1.2zM2574.36 345.51h1.2v4.67h-1.2zM2576.61 345.3h1.2v6h-1.2z" fill="#00ffff"/>
<path d="M2585.29 371.44h1.2v8.42h-1.2zM2590.44 371.97h1.2v5.31h-1.2zM2593.46 367.87h1.2v7.9h-1.2zM2596.62 365.33h1.2v8.86h-1.2zM2601.56 366.45h1.2v9.74h-1.2zM2603.97 370.13h1.2v9.08h-1.2zM2615.87 385.69h1.2v8.98h-1.2zM2623.94 400.94h1.2v4.48h-1.2zM2625.98 398.87h1.2v7.81h-1.2zM2628.49 402.59h1.2v5.6h-1.2zM2636.46 407.99h1.2v4.98h-1.2zM2650.19 402.54h1.2v5.89h-1.2zM2652.35 389.83h1.2v17.89h-1.2zM2660.16 396.68h1.2v7.37h-1.2zM2666.74 385.84h1.2v9.99h-1.2zM2669.77 388.29h1.2v4.66h-1.2zM2675.95 382.59h1.2v9.98h-1.2zM2683.35 384.01h1.2v8.09h-1.2zM2686.49 387.24h1.2v4.67h-1.2zM2702.21 383.27h1.2v7.65h-1.2zM2710.21 388.2h1.2v4.12h-1.2zM2718.95 387.38h1.2v9.27h-1.2zM2723.56 390.98h1.2v4.42h-1.2zM2732.34 379.19h1.2v13.81h-1.2zM2738.13 381.45h1.2v9.97h-1.2zM2741.67 385.82h1.2v4.73h-1.2zM2743.68 385.74h1.2v5.38h-1.2zM2745.67 386.32h1.2v5.37h-1.2zM2751.59 388.1h1.2v5.29h-1.2zM2762.43 387.24h1.2v6.54h-1.2zM2770.49 380.59h1.2v9.17h-1.2zM2772.58 382.18h1.2v6.53h-1.2zM2774.79 373.62h1.2v13.99h-1.2zM2792.98 387.96h1.2v6.27h-1.2zM2797.73 390.48h1.2v6.73h-1.2zM2809.02 380.39h1.2v9.81h-1.2zM2816.2 377.61h1.2v7.02h-1.2zM2820.47 370.58h1.2v10.72h-1.2zM2825.97 367.58h1.2v9.34h-1.2zM2831.49 365.38h1.2v7.14h-1.2zM2836.05 366.78h1.2v5.43h-1.2zM2840.95 371.86h1.2v4.44h-1.2zM2848.59 377.07h1.2v5.59h-1.2zM2857.52 384.64h1.2v9h-1.2zM2874.09 380.86h1.2v4.64h-1.2zM2877.28 377.19h1.2v8.31h-1.2zM2887.35 381.48h1.2v4.02h-1.2zM2896.66 381.39h1.2v4.45h-1.2zM2907.5 380.72h1.2v5.85h-1.2zM2918.19 378.6h1.2v8.68h-1.2zM2922.57 382.64h1.2v4.93h-1.2zM2936.21 383.45h1.2v5.99h-1.2zM2953.11 386.06h1.2v6.76h-1.2zM2957.43 386.6h1.2v5.97h-1.2zM2975.33 381.46h1.2v8.37h-1.2zM2980.7 381.62h1.2v5.53h-1.2zM2984.45 370.43h1.2v14.85h-1.2zM2991.86 373.59h1.2v7.99h-1.2zM2994.24 372.26h1.2v8.32h-1.2zM2996.53 374.93h1.2v6.41h-1.2zM2998.79 372.45h1.2v9.64h-1.2zM3005.84 380.45h1.2v4h-1.2zM3008.08 377.26h1.2v7.93h-1.2zM3010.95 380.29h1.2v6.84h-1.2zM3017.21 384.54h1.2v7.8h-1.2zM3025.53 392.62h1.2v5.47h-1.2zM3029.9 393.18h1.2v5.17h-1.2zM3040.88 393.94h1.2v5.06h-1.2zM3046.9 392.61h1.2v6.74h-1.2zM3075.97 390.33h1.2v8.59h-1.2zM3081.24 392.41h1.2v5.63h-1.2zM3085.29 389.13h1.2v8.24h-1.2zM3086.72 390.64h1.2v6.49h-1.2zM3088.66 381.55h1.2v15.26h-1.2zM3096.32 389.42h1.2v6.11h-1.2zM3104.87 386.55h1.2v7.28h-1.2zM3108.24 386.54h1.2v6.62h-1.2zM3109.54 386.47h1.2v6.43h-1.2zM3114.29 387.78h1.2v4.16h-1.2zM3117.81 386.94h1.2v4.3h-1.2zM3120.37 382.16h1.2v8.57h-1.2zM3127.13 387.51h1.2v4.12h-1.2zM3142.58 389.96h1.2v4.76h-1.2z" fill="#00ffff"/>
<path d="M3298.5 400.92h1.2v4.58h-1.2zM3308.41 398.77h1.2v5.49h-1.2zM3335.11 390.8h1.2v12.2h-1.2zM3340.46 392.08h1.2v10.92h-1.2zM3356.71 395.88h1.2v7.12h-1.2zM3360.61 395.12h1.2v7.88h-1.2zM3363.8 395.88h1.2v7.12h-1.2zM3373.15 398.66h1.2v4.34h-1.2zM3376.75 398.56h1.2v4.44h-1.2zM3381.21 390.14h1.2v12.88h-1.2zM3408.72 399.34h1.2v10.02h-1.2zM3421.46 408.22h1.2v7.31h-1.2zM3430.81 410.67h1.2v5.54h-1.2zM3435.57 412.3h1.2v4.24h-1.2zM3451.55 413.06h1.2v4.62h-1.2zM3459.97 411.43h1.2v6.3h-1.2zM3463.67 412.42h1.2v5.07h-1.2zM3467.39 412.95h1.2v4.29h-1.2zM3471.12 410.07h1.2v6.92h-1.2zM3496.56 404.3h1.2v11.2h-1.2zM3502 404h1.2v11.5h-1.2zM3514.95 409.65h1.2v5.85h-1.2zM3520.01 408.28h1.2v7.22h-1.2zM3533.4 410h1.2v5.5h-1.2zM3538.18 409.39h1.2v6.11h-1.2zM3539.55 403.56h1.2v11.94h-1.2zM3541.52 404.56h1.2v10.94h-1.2zM3551.93 413.9h1.2v7.53h-1.2zM3562.27 426.2h1.2v5.57h-1.2z" fill="#00ffff"/>
<path d="M3014.88 440.72h1.2v14.21h-1.2zM2773.73 409.62h1.2v3.38h-1.2zM2711.32 395.78h1.2v5.04h-1.2zM3124.26 482.1h1.2v12.02h-1.2zM2983.56 423.58h1.2v11.99h-1.2zM2929.16 395.73h1.2v13.94h-1.2zM3231.91 429.19h1.2v3.91h-1.2zM2688.41 480.05h1.2v4.4h-1.2zM3240.33 507.23h1.2v3.46h-1.2zM2991.31 426.28h1.2v14.92h-1.2zM2786.14 414.47h1.2v6.22h-1.2zM2641.17 473.75h1.2v13.62h-1.2zM3043.82 403.61h1.2v12.28h-1.2zM3356.53 478.46h1.2v7.27h-1.2zM3453.7 476.38h1.2v10.67h-1.2zM3152.15 440.23h1.2v8.92h-1.2zM3415.82 481.22h1.2v7.5h-1.2zM3442.4 495.39h1.2v3.57h-1.2zM2753.56 415.25h1.2v3.19h-1.2zM3373.59 477.86h1.2v10.06h-1.2zM3624.45 451.46h1.2v5.59h-1.2zM2705.98 422.64h1.2v13.89h-1.2zM3221 424.39h1.2v8.63h-1.2zM2639.9 469.57h1.2v4.59h-1.2zM2776.62 446.15h1.2v13.86h-1.2zM3234.42 445.73h1.2v11.39h-1.2zM2872.93 387.83h1.2v6.56h-1.2zM3305.77 476.01h1.2v5.5h-1.2zM3464.25 494.59h1.2v6.63h-1.2zM3589.37 442.89h1.2v3.84h-1.2zM3122.72 470.45h1.2v10.8h-1.2zM3158.2 463.38h1.2v6.69h-1.2zM2901.87 423.87h1.2v10.11h-1.2zM3570.57 425.62h1.2v6.28h-1.2zM3571.23 478.81h1.2v3.97h-1.2zM3049.29 459.73h1.2v14.86h-1.2zM2677.6 475.57h1.2v13.02h-1.2zM2879.74 435.04h1.2v13.73h-1.2zM2842.86 442.7h1.2v10.28h-1.2zM2665.93 422.56h1.2v8.36h-1.2zM2735.14 479.12h1.2v6.25h-1.2zM2831.02 428.23h1.2v9.86h-1.2zM2921.87 418.14h1.2v9.45h-1.2zM3535.62 426.19h1.2v14.86h-1.2zM3565.52 481.18h1.2v13.43h-1.2zM2987.38 472.41h1.2v12.65h-1.2zM3304.2 459.86h1.2v5.87h-1.2zM3309.16 485.96h1.2v3.07h-1.2zM2913.69 436.73h1.2v5.75h-1.2zM2724.53 413.23h1.2v3.2h-1.2zM2715.45 434.22h1.2v9.52h-1.2zM3253.79 447.04h1.2v4.67h-1.2zM3546.98 476.5h1.2v11.83h-1.2zM3306.61 448.29h1.2v10.72h-1.2zM2921.54 447.92h1.2v13.63h-1.2zM2606.96 456.36h1.2v4.52h-1.2zM2606.75 390.53h1.2v10.31h-1.2zM3482.07 503.21h1.2v5.05h-1.2zM3036.15 485.43h1.2v14.54h-1.2zM3449.33 441.59h1.2v6.57h-1.2zM2745 416.47h1.2v8.26h-1.2zM3418.75 479.06h1.2v5.24h-1.2zM2775.87 429.07h1.2v14.58h-1.2zM3081.25 470.84h1.2v11.95h-1.2zM3503.09 464.17h1.2v7.91h-1.2zM3065.91 474.45h1.2v6.62h-1.2zM2791.03 470.17h1.2v9.24h-1.2zM3257.13 434.85h1.2v3.54h-1.2zM2824.03 418.55h1.2v3.43h-1.2zM2873.91 472.38h1.2v8.68h-1.2zM2594.73 449.16h1.2v6.92h-1.2zM2769.72 449.19h1.2v11.64h-1.2zM2927.22 453.53h1.2v14.38h-1.2zM2943.25 437.09h1.2v3.07h-1.2zM3205.08 445.6h1.2v11.48h-1.2zM3378.44 449.99h1.2v11.67h-1.2zM3570.37 434.38h1.2v13.37h-1.2zM3086.34 484.06h1.2v3.95h-1.2zM2988.36 399.07h1.2v6.37h-1.2zM3515.76 467.3h1.2v7.65h-1.2zM3591.3 423.78h1.2v3.24h-1.2zM3388.59 469.76h1.2v13.83h-1.2zM3106.09 480.49h1.2v7.31h-1.2zM2828.09 456.65h1.2v9.93h-1.2zM2621.26 403.77h1.2v3.2h-1.2zM3348.7 477.12h1.2v4.47h-1.2zM3418.42 489.62h1.2v11.2h-1.2zM3191.06 458.5h1.2v12h-1.2zM2994.32 465.96h1.2v10.68h-1.2zM3289.82 503.24h1.2v15.78h-1.2zM3144.21 406.3h1.2v9.83h-1.2zM3545.46 437.9h1.2v6.32h-1.2zM2876.14 407.64h1.2v13.56h-1.2zM3147.12 404.59h1.2v9.65h-1.2zM3313.91 421.42h1.2v5.55h-1.2zM2604.5 444.23h1.2v8.2h-1.2zM2604.29 403.09h1.2v5.5h-1.2zM3181.52 457.84h1.2v8.47h-1.2zM2932.64 393.29h1.2v7.24h-1.2zM3249.31 467.92h1.2v10.64h-1.2zM2755.52 399.33h1.2v12.91h-1.2zM3332.1 478.9h1.2v15.51h-1.2zM2908.72 454.24h1.2v6.75h-1.2zM3212.98 501.51h1.2v8.92h-1.2zM3229.47 508.86h1.2v9.37h-1.2zM2838.65 462.22h1.2v11.77h-1.2zM2928.8 414h1.2v3.29h-1.2zM2679.7 482.43h1.2v10.27h-1.2zM3399.46 440.88h1.2v13.93h-1.2zM3324.56 498.62h1.2v9.31h-1.2zM3544.52 470.74h1.2v4.87h-1.2zM3535.07 446.42h1.2v15h-1.2zM3161.49 455.4h1.2v9.76h-1.2zM2977.36 396.92h1.2v3.6h-1.2zM2677.87 475.62h1.2v7.53h-1.2zM2613.52 428.99h1.2v11.25h-1.2zM3249.56 502.17h1.2v7.56h-1.2zM3582.13 420.07h1.2v5.06h-1.2zM3100.09 454.6h1.2v8.43h-1.2zM3406.05 468.7h1.2v3h-1.2zM2995.81 440.46h1.2v6.35h-1.2zM2783.32 447.76h1.2v8.98h-1.2zM3617.57 505.61h1.2v7h-1.2zM2623.92 422.59h1.2v8.62h-1.2zM3030.83 438.74h1.2v4.12h-1.2zM2901.41 424.49h1.2v12.81h-1.2zM2710.37 451.23h1.2v7.93h-1.2zM3395.86 480.92h1.2v5.49h-1.2zM3323.96 452.62h1.2v13.83h-1.2zM2611.46 418.28h1.2v9.73h-1.2zM2895.54 422.22h1.2v10.5h-1.2zM2838.03 453.06h1.2v6.7h-1.2zM3308.22 506.37h1.2v4.29h-1.2zM3501.73 434.98h1.2v8.89h-1.2zM2712.88 481.74h1.2v7.03h-1.2zM3125.04 480.59h1.2v4.91h-1.2zM2671.33 457.06h1.2v3.59h-1.2zM2721.42 420.15h1.2v3.14h-1.2zM2946.82 397.72h1.2v15.11h-1.2zM3120.7 394.49h1.2v12.73h-1.2zM2837.71 454.77h1.2v3.46h-1.2zM2716.3 432.16h1.2v13.71h-1.2zM3560.21 506.81h1.2v5.68h-1.2zM2977.16 467.57h1.2v13.56h-1.2zM3567.89 426.4h1.2v3.5h-1.2zM3008.09 462.94h1.2v11.95h-1.2zM3021.88 459.35h1.2v8.77h-1.2zM3457.66 445.17h1.2v12.78h-1.2zM2748.24 447.06h1.2v7.07h-1.2zM2941.01 415.68h1.2v3.41h-1.2zM2688.24 453.87h1.2v11.66h-1.2zM3274.54 458.34h1.2v10.67h-1.2zM3416.21 508.61h1.2v8.08h-1.2zM3367.6 492.85h1.2v13.98h-1.2zM3286.6 439.85h1.2v13.56h-1.2zM3172.76 486.46h1.2v12.68h-1.2zM2805.56 400.41h1.2v13.15h-1.2zM3283.47 420.53h1.2v3.6h-1.2zM3029.53 458.71h1.2v4.6h-1.2zM3312.82 450.31h1.2v11.43h-1.2zM2873.45 408.15h1.2v4.92h-1.2zM3303.77 475.67h1.2v3.9h-1.2zM2708.08 467.63h1.2v6.39h-1.2zM3555.51 507.9h1.2v13.54h-1.2zM2733.84 403h1.2v13.77h-1.2zM3023.12 401.22h1.2v4.35h-1.2zM2885.9 409.08h1.2v3.48h-1.2zM3335.95 424.27h1.2v6.75h-1.2zM3316.19 487.22h1.2v13.27h-1.2zM2836.36 388.95h1.2v11.06h-1.2zM3427.83 486.22h1.2v12.63h-1.2zM3021 461.76h1.2v14.82h-1.2zM3230.66 432.21h1.2v13.74h-1.2zM2626.58 409.04h1.2v6.88h-1.2zM2978.17 477.68h1.2v12.57h-1.2zM3042.44 452.3h1.2v8.41h-1.2zM3525.56 475.22h1.2v7.72h-1.2zM3562.91 493.21h1.2v8.32h-1.2zM3589.71 424.21h1.2v14.38h-1.2zM3059.73 445.44h1.2v14.44h-1.2zM3029.18 438.92h1.2v6.09h-1.2zM3300.53 484.26h1.2v11.73h-1.2zM2755.4 474.94h1.2v9.39h-1.2zM2708.3 410.4h1.2v4.63h-1.2zM2738.84 439.08h1.2v12.77h-1.2zM3315.85 507.35h1.2v15.84h-1.2zM3237.56 496.96h1.2v14.86h-1.2zM3121.36 468.07h1.2v10.33h-1.2zM3375.97 492.43h1.2v14.8h-1.2zM3118.52 399.39h1.2v3.8h-1.2zM3325.42 474.27h1.2v13.99h-1.2zM2772.12 464.32h1.2v15.9h-1.2zM3089.71 405.91h1.2v11.95h-1.2zM2672.3 466.12h1.2v13.55h-1.2zM2985 468.29h1.2v7.9h-1.2zM3446.76 445.78h1.2v12.39h-1.2zM2704.79 422.6h1.2v8.15h-1.2zM3513.84 494.1h1.2v4.35h-1.2zM3068.79 478h1.2v15.74h-1.2zM3068.93 415.76h1.2v13.2h-1.2zM2790.04 447.63h1.2v7.07h-1.2zM2660.08 407.17h1.2v8.39h-1.2zM2638.19 471.51h1.2v12.69h-1.2zM3349.59 464.51h1.2v11.14h-1.2zM3491.38 447.67h1.2v10.82h-1.2zM2764.17 455.96h1.2v15.96h-1.2zM2934.98 452.75h1.2v5.02h-1.2zM3629.61 424.62h1.2v6.25h-1.2zM3019.38 464.6h1.2v10.01h-1.2zM2677.34 451.91h1.2v3.96h-1.2zM2938.13 478.09h1.2v9.73h-1.2zM2595.65 397.38h1.2v6.55h-1.2zM2771.55 459.07h1.2v6.5h-1.2zM3286.21 469.13h1.2v14.33h-1.2zM2942.69 391.93h1.2v11.34h-1.2zM3177.7 422.15h1.2v9.2h-1.2zM2746.69 483.62h1.2v10.28h-1.2zM3430.24 476.52h1.2v10.89h-1.2zM3479.01 421.43h1.2v7.51h-1.2zM3274.62 448.94h1.2v14.73h-1.2zM2899.02 452.48h1.2v9.95h-1.2zM3131.78 471.91h1.2v15.49h-1.2zM3609.8 449.43h1.2v9.96h-1.2zM2735.92 464.07h1.2v10.97h-1.2zM3094.48 443.98h1.2v7.77h-1.2zM2799.43 440.13h1.2v12.02h-1.2zM2672.6 416.35h1.2v6.78h-1.2zM3388.83 463.63h1.2v14.43h-1.2zM3003.54 400.63h1.2v6.62h-1.2zM2620.2 446.39h1.2v8.96h-1.2zM3007.19 445.01h1.2v10.69h-1.2zM2930.51 452.05h1.2v5.06h-1.2zM3279.44 455.61h1.2v13.01h-1.2zM3466.51 463.15h1.2v4.32h-1.2zM3264.96 419.66h1.2v3.9h-1.2zM2801.63 469.21h1.2v7.85h-1.2zM3325.88 464.68h1.2v10.72h-1.2zM2600.57 461.09h1.2v8.69h-1.2zM2672.8 444.82h1.2v14.33h-1.2zM3077.73 458.34h1.2v4.19h-1.2zM2765.79 422.5h1.2v3.5h-1.2zM3231.47 419.47h1.2v9.03h-1.2zM3295.64 432.51h1.2v15.97h-1.2zM3207.41 487.37h1.2v12.35h-1.2zM3177.72 454.18h1.2v10.88h-1.2zM3321.68 452.16h1.2v3.11h-1.2zM3562.19 444h1.2v15.07h-1.2zM3628.53 423.56h1.2v14.81h-1.2zM2950.06 471.8h1.2v13.07h-1.2zM2873.87 458.86h1.2v4.27h-1.2zM3528.43 472.79h1.2v15.73h-1.2zM3072.58 464.59h1.2v6.79h-1.2zM2873.91 390.06h1.2v12.4h-1.2zM3594.43 456.95h1.2v3.8h-1.2zM2672.49 412.27h1.2v12.64h-1.2zM2902.35 429.42h1.2v14.18h-1.2zM3295.12 422.71h1.2v15.11h-1.2zM3307.09 433.63h1.2v3.57h-1.2zM3514.43 443.64h1.2v9.65h-1.2zM2886.9 453.87h1.2v8.59h-1.2z" fill="#fff"/>
<path d="M2415.55 574.1h1.2v13.05h-1.2zM2451.55 546.56h1.2v13.9h-1.2zM2411.02 561.53h1.2v9.26h-1.2zM2206.43 521.97h1.2v10.34h-1.2zM2377.33 591.19h1.2v15.72h-1.2zM2284.31 609.21h1.2v9.12h-1.2zM2423.46 521.54h1.2v16.3h-1.2zM2407.78 599.57h1.2v18.46h-1.2zM2413.81 588.84h1.2v16.08h-1.2zM2387.73 537.02h1.2v12.75h-1.2zM2484.68 539.08h1.2v19.62h-1.2zM2364.95 566.73h1.2v5.04h-1.2zM2312.66 547.85h1.2v14.8h-1.2zM2485.84 597.66h1.2v14.2h-1.2zM2311.47 541.75h1.2v15.33h-1.2zM2368.16 592.83h1.2v10.61h-1.2zM2481.5 536.26h1.2v9.58h-1.2zM2271.01 578.92h1.2v18.46h-1.2zM2236.92 575.73h1.2v16.5h-1.2zM2256.38 527.52h1.2v13.49h-1.2zM2462.29 591.44h1.2v15.92h-1.2zM2321.73 569.51h1.2v12.93h-1.2zM2487.61 545.07h1.2v9.21h-1.2zM2385.83 604.1h1.2v7.81h-1.2zM2190.36 521.72h1.2v13.44h-1.2zM2385.17 536.39h1.2v7.85h-1.2zM2382.14 578.45h1.2v15.35h-1.2zM2427.83 520.34h1.2v12.27h-1.2zM2463.78 598.28h1.2v9.78h-1.2zM2469.11 571.82h1.2v18.9h-1.2zM2257.88 582.79h1.2v17.61h-1.2zM2342.08 541.27h1.2v7.9h-1.2zM2233.26 528.49h1.2v7.28h-1.2zM2389.35 527.02h1.2v16.37h-1.2zM2430.31 586.02h1.2v17.06h-1.2zM2422.45 595.73h1.2v19.35h-1.2zM2392.53 601.29h1.2v6.55h-1.2zM2214.98 530.57h1.2v8.1h-1.2zM2307.31 571.92h1.2v15.21h-1.2zM2432.6 522.29h1.2v11.05h-1.2zM2364.78 565.14h1.2v6.76h-1.2zM2383.01 554.27h1.2v15.26h-1.2zM2348.47 616.25h1.2v19.18h-1.2zM2204.55 572.81h1.2v15.82h-1.2zM2280.62 537.54h1.2v12.19h-1.2zM2300.41 595.73h1.2v18.78h-1.2zM2309.91 557.46h1.2v12.48h-1.2zM2416.93 584.35h1.2v13.64h-1.2zM2280.63 556.7h1.2v17.72h-1.2zM2356.54 536.88h1.2v11.31h-1.2zM2260.86 580.34h1.2v6.1h-1.2zM2272.15 533.45h1.2v12.16h-1.2zM2514.78 540.68h1.2v10.79h-1.2zM2497.53 522.83h1.2v10.34h-1.2zM2455.67 515.45h1.2v16.49h-1.2zM2302.75 533.16h1.2v8.76h-1.2zM2335.8 565.81h1.2v12.75h-1.2zM2198.06 529.53h1.2v19.61h-1.2zM2330.5 573.55h1.2v6.28h-1.2zM2274.91 608.91h1.2v15.31h-1.2zM2352.66 537.11h1.2v10.89h-1.2zM2444.67 552.82h1.2v13.9h-1.2zM2486.8 574.76h1.2v14.54h-1.2zM2192.26 516.41h1.2v16.54h-1.2zM2320.51 608.56h1.2v17.39h-1.2zM2491.22 552.3h1.2v19.99h-1.2zM2437.12 592.58h1.2v7.22h-1.2zM2445.51 551.73h1.2v19.58h-1.2zM2518.02 524.53h1.2v11.32h-1.2zM2272.11 565.96h1.2v9.3h-1.2z" fill="#ffb6c1"/>
</g>
<g clip-path="url(#cp)">
<g fill="#ff0000" shape-rendering="crispEdges">
<polygon points="2032.5,404.35 2049.3,433.45 2015.7,433.45"/>
<polygon points="2066.25,460.6 2083.05,489.7 2049.45,489.7"/>
<polygon points="2104.25,495.6 2121.05,524.7 2087.45,524.7"/>
<polygon points="2137.5,518.1 2154.3,547.2 2120.7,547.2"/>
<polygon points="2175,559.35 2191.8,588.45 2158.2,588.45"/>
<polygon points="2208.75,597.6 2225.55,626.7 2191.95,626.7"/>
<polygon points="2247.5,592.6 2264.3,621.7 2230.7,621.7"/>
<polygon points="2279.5,591.85 2296.3,620.95 2262.7,620.95"/>
<polygon points="2318,609.35 2334.8,638.45 2301.2,638.45"/>
<polygon points="2350,616.85 2366.8,645.95 2333.2,645.95"/>
<polygon points="2365.75,611.85 2382.55,640.95 2348.95,640.95"/>
<polygon points="2350.75,636.35 2367.55,665.45 2333.95,665.45"/>
<polygon points="2403.75,586.1 2420.55,615.2 2386.95,615.2"/>
<polygon points="2436.25,580.6 2453.05,609.7 2419.45,609.7"/>
<polygon points="2474.5,584.35 2491.3,613.45 2457.7,613.45"/>
<polygon points="2507.5,569.35 2524.3,598.45 2490.7,598.45"/>
<polygon points="2546.25,449.35 2563.05,478.45 2529.45,478.45"/>
<polygon points="2580,468.1 2596.8,497.2 2563.2,497.2"/>
<polygon points="2618.5,487.6 2635.3,516.7 2601.7,516.7"/>
<polygon points="2691,426.85 2707.8,455.95 2674.2,455.95"/>
<polygon points="2724.75,461.85 2741.55,490.95 2707.95,490.95"/>
<polygon points="2762.25,526.85 2779.05,555.95 2745.45,555.95"/>
<polygon points="2796.5,523.1 2813.3,552.2 2779.7,552.2"/>
<polygon points="2834.5,495.1 2851.3,524.2 2817.7,524.2"/>
<polygon points="2867.25,515.1 2884.05,544.2 2850.45,544.2"/>
<polygon points="2905.25,508.1 2922.05,537.2 2888.45,537.2"/>
<polygon points="2939,466.35 2955.8,495.45 2922.2,495.45"/>
<polygon points="2977.75,508.1 2994.55,537.2 2960.95,537.2"/>
<polygon points="3011,473.6 3027.8,502.7 2994.2,502.7"/>
<polygon points="3049.5,463.85 3066.3,492.95 3032.7,492.95"/>
<polygon points="3082.25,491.1 3099.05,520.2 3065.45,520.2"/>
<polygon points="3120.25,497.6 3137.05,526.7 3103.45,526.7"/>
<polygon points="3191.5,484.6 3208.3,513.7 3174.7,513.7"/>
<polygon points="3296,453.1 3312.8,482.2 3279.2,482.2"/>
<polygon points="3366.5,478.1 3383.3,507.2 3349.7,507.2"/>
<polygon points="3438.5,474.35 3455.3,503.45 3421.7,503.45"/>
<polygon points="3476.75,491.85 3493.55,520.95 3459.95,520.95"/>
<polygon points="3511,486.35 3527.8,515.45 3494.2,515.45"/>
<polygon points="3225.5,345.6 3242.3,374.7 3208.7,374.7"/>
<polygon points="3263,334.35 3279.8,363.45 3246.2,363.45"/>
<polygon points="3404.25,339.35 3421.05,368.45 3387.45,368.45"/>
<polygon points="3548.5,343.1 3565.3,372.2 3531.7,372.2"/>
<polygon points="3581.5,358.1 3598.3,387.2 3564.7,387.2"/>
<polygon points="3619.75,355.6 3636.55,384.7 3602.95,384.7"/>
<polygon points="2032.5,422.65 2049.3,393.55 2015.7,393.55"/>
<polygon points="2066.25,409.4 2083.05,380.3 2049.45,380.3"/>
<polygon points="2104.25,396.4 2121.05,367.3 2087.45,367.3"/>
<polygon points="2137.5,413.15 2154.3,384.05 2120.7,384.05"/>
<polygon points="2175,413.15 2191.8,384.05 2158.2,384.05"/>
<polygon points="2208.75,416.4 2225.55,387.3 2191.95,387.3"/>
<polygon points="2247.5,407.4 2264.3,378.3 2230.7,378.3"/>
<polygon points="2279.5,397.4 2296.3,368.3 2262.7,368.3"/>
<polygon points="2318,396.4 2334.8,367.3 2301.2,367.3"/>
<polygon points="2350,401.15 2366.8,372.05 2333.2,372.05"/>
<polygon points="2365.75,386.4 2382.55,357.3 2348.95,357.3"/>
<polygon points="2403.75,381.4 2420.55,352.3 2386.95,352.3"/>
<polygon points="2436.25,390.15 2453.05,361.05 2419.45,361.05"/>
<polygon points="2474.5,378.9 2491.3,349.8 2457.7,349.8"/>
<polygon points="2507.5,377.4 2524.3,348.3 2490.7,348.3"/>
<polygon points="2546.25,365.65 2563.05,336.55 2529.45,336.55"/>
<polygon points="2580,392.4 2596.8,363.3 2563.2,363.3"/>
<polygon points="2618.5,416.4 2635.3,387.3 2601.7,387.3"/>
<polygon points="2652,432.65 2668.8,403.55 2635.2,403.55"/>
<polygon points="2691,439.4 2707.8,410.3 2674.2,410.3"/>
<polygon points="2724.75,418.9 2741.55,389.8 2707.95,389.8"/>
<polygon points="2762.25,405.65 2779.05,376.55 2745.45,376.55"/>
<polygon points="2796.5,399.4 2813.3,370.3 2779.7,370.3"/>
<polygon points="2834.5,407.4 2851.3,378.3 2817.7,378.3"/>
<polygon points="2867.25,420.65 2884.05,391.55 2850.45,391.55"/>
<polygon points="2905.25,413.9 2922.05,384.8 2888.45,384.8"/>
<polygon points="2939,415.65 2955.8,386.55 2922.2,386.55"/>
<polygon points="2977.75,411.4 2994.55,382.3 2960.95,382.3"/>
<polygon points="3049.5,426.4 3066.3,397.3 3032.7,397.3"/>
<polygon points="3082.25,415.65 3099.05,386.55 3065.45,386.55"/>
<polygon points="3120.25,411.9 3137.05,382.8 3103.45,382.8"/>
<polygon points="3191.5,441.9 3208.3,412.8 3174.7,412.8"/>
<polygon points="3295.5,432.4 3312.3,403.3 3278.7,403.3"/>
<polygon points="3366.5,428.65 3383.3,399.55 3349.7,399.55"/>
<polygon points="3438.5,443.65 3455.3,414.55 3421.7,414.55"/>
<polygon points="3476.75,448.15 3493.55,419.05 3459.95,419.05"/>
<polygon points="3511,434.4 3527.8,405.3 3494.2,405.3"/>
<polygon points="3225.5,359.9 3242.3,330.8 3208.7,330.8"/>
<polygon points="3263,354.4 3279.8,325.3 3246.2,325.3"/>
<polygon points="3334,349.4 3350.8,320.3 3317.2,320.3"/>
<polygon points="3404.25,361.9 3421.05,332.8 3387.45,332.8"/>
<polygon points="3548.5,348.9 3565.3,319.8 3531.7,319.8"/>
<polygon points="3581.5,348.9 3598.3,319.8 3564.7,319.8"/>
<polygon points="3619.75,353.15 3636.55,324.05 3602.95,324.05"/>
</g>
<g fill="#fff" stroke="#ff0000" stroke-width="6" shape-rendering="crispEdges">
<polygon points="3334,483.5 3346.12,504.5 3321.88,504.5"/>
<polygon points="3404.25,491 3416.37,512 3392.13,512"/>
<polygon points="3548.5,464.75 3560.62,485.75 3536.38,485.75"/>
<polygon points="3581.5,483.5 3593.62,504.5 3569.38,504.5"/>
<polygon points="3619.75,510.5 3631.87,531.5 3607.63,531.5"/>
<polygon points="3334,423.25 3346.12,402.25 3321.88,402.25"/>
<polygon points="3404.25,427 3416.37,406 3392.13,406"/>
<polygon points="3548.5,438.25 3560.62,417.25 3536.38,417.25"/>
<polygon points="3581.5,489 3593.62,468 3569.38,468"/>
<polygon points="3619.75,486 3631.87,465 3607.63,465"/>
</g>
<path d="M2032.5 953V990M2006.2 953H2058.8M2066.25 935V990M2039.95 935H2092.55M2105 877.5V906.25M2078.7 877.5H2131.3M2078.7 906.25H2131.3M2136.5 920V942M2110.2 920H2162.8M2110.2 942H2162.8M2209 850.75V990M2182.7 850.75H2235.3M2247.75 900.75V990M2221.45 900.75H2274.05M2279 936.25V990M2252.7 936.25H2305.3M2317.75 808V990M2291.45 808H2344.05M2350.25 803.25V990M2323.95 803.25H2376.55M2365.25 804V990M2338.95 804H2391.55M2404 840.5V990M2377.7 840.5H2430.3M2474 825.75V990M2447.7 825.75H2500.3M2546.5 813.75V990M2520.2 813.75H2572.8M2580.25 812.5V990M2553.95 812.5H2606.55M2690 952V990M2663.7 952H2716.3M2725 950V990M2698.7 950H2751.3M2762.75 881.25V930M2736.45 881.25H2789.05M2736.45 930H2789.05M2797.5 871.25V929.5M2771.2 871.25H2823.8M2771.2 929.5H2823.8M2835 892V990M2808.7 892H2861.3M2905 882.5V941M2878.7 882.5H2931.3M2878.7 941H2931.3M2939.25 907V941M2912.95 907H2965.55M2912.95 941H2965.55M2976.75 941.25V990M2950.45 941.25H3003.05M3014 941.25V990M2987.7 941.25H3040.3M3050 877V930M3023.7 877H3076.3M3023.7 930H3076.3M3082 950.5V990M3055.7 950.5H3108.3M3153 886.25V933.75M3126.7 886.25H3179.3M3126.7 933.75H3179.3M3191 951V990M3164.7 951H3217.3M3225 873.75V925M3198.7 873.75H3251.3M3198.7 925H3251.3M3263 951V990M3236.7 951H3289.3M3296 950V990M3269.7 950H3322.3M3334 950V990M3307.7 950H3360.3M3366.5 950V990M3340.2 950H3392.8M3404.25 950V990M3377.95 950H3430.55M3438.5 950V990M3412.2 950H3464.8M3511.25 895V990M3484.95 895H3537.55M3548.5 950V990M3522.2 950H3574.8M3581.5 950V990M3555.2 950H3607.8M3619.75 950V990M3593.45 950H3646.05" fill="none" stroke="#32cd32" stroke-width="3.6" shape-rendering="crispEdges"/>
<circle cx="2032.5" cy="966" r="13.6" fill="#fff" stroke="#32cd32" stroke-width="6"/><circle cx="2066.25" cy="947.5" r="13.6" fill="#fff" stroke="#32cd32" stroke-width="6"/><circle cx="2105" cy="891.25" r="13.6" fill="#fff" stroke="#32cd32" stroke-width="6"/><circle cx="2136.5" cy="931.25" r="13.6" fill="#fff" stroke="#32cd32" stroke-width="6"/><circle cx="2209" cy="905" r="13.6" fill="#fff" stroke="#32cd32" stroke-width="6"/><circle cx="2247.75" cy="936.25" r="13.6" fill="#fff" stroke="#32cd32" stroke-width="6"/><circle cx="2279" cy="962" r="13.6" fill="#fff" stroke="#32cd32" stroke-width="6"/><circle cx="2317.75" cy="895" r="13.6" fill="#fff" stroke="#32cd32" stroke-width="6"/><circle cx="2350.25" cy="902.5" r="13.6" fill="#fff" stroke="#32cd32" stroke-width="6"/><circle cx="2365.25" cy="902.5" r="13.6" fill="#fff" stroke="#32cd32" stroke-width="6"/><circle cx="2404" cy="925.5" r="13.6" fill="#fff" stroke="#32cd32" stroke-width="6"/><circle cx="2474" cy="905.5" r="13.6" fill="#fff" stroke="#32cd32" stroke-width="6"/><circle cx="2546.5" cy="908" r="13.6" fill="#fff" stroke="#32cd32" stroke-width="6"/><circle cx="2580.25" cy="906.75" r="13.6" fill="#fff" stroke="#32cd32" stroke-width="6"/><circle cx="2690" cy="962" r="13.6" fill="#fff" stroke="#32cd32" stroke-width="6"/><circle cx="2725" cy="962" r="13.6" fill="#fff" stroke="#32cd32" stroke-width="6"/><circle cx="2762.75" cy="915" r="13.6" fill="#fff" stroke="#32cd32" stroke-width="6"/><circle cx="2797.5" cy="900" r="13.6" fill="#fff" stroke="#32cd32" stroke-width="6"/><circle cx="2835" cy="927.5" r="13.6" fill="#fff" stroke="#32cd32" stroke-width="6"/><circle cx="2905" cy="911.25" r="13.6" fill="#fff" stroke="#32cd32" stroke-width="6"/><circle cx="2939.25" cy="923.75" r="13.6" fill="#fff" stroke="#32cd32" stroke-width="6"/><circle cx="2976.75" cy="958" r="13.6" fill="#fff" stroke="#32cd32" stroke-width="6"/><circle cx="3014" cy="958" r="13.6" fill="#fff" stroke="#32cd32" stroke-width="6"/><circle cx="3050" cy="902.5" r="13.6" fill="#fff" stroke="#32cd32" stroke-width="6"/><circle cx="3082" cy="962" r="13.6" fill="#fff" stroke="#32cd32" stroke-width="6"/><circle cx="3153" cy="909.25" r="13.6" fill="#fff" stroke="#32cd32" stroke-width="6"/><circle cx="3191" cy="964" r="13.6" fill="#fff" stroke="#32cd32" stroke-width="6"/><circle cx="3225" cy="899.25" r="13.6" fill="#fff" stroke="#32cd32" stroke-width="6"/><circle cx="3263" cy="964" r="13.6" fill="#fff" stroke="#32cd32" stroke-width="6"/><circle cx="3296" cy="963" r="13.6" fill="#fff" stroke="#32cd32" stroke-width="6"/><circle cx="3334" cy="963" r="13.6" fill="#fff" stroke="#32cd32" stroke-width="6"/><circle cx="3366.5" cy="963" r="13.6" fill="#fff" stroke="#32cd32" stroke-width="6"/><circle cx="3404.25" cy="963" r="13.6" fill="#fff" stroke="#32cd32" stroke-width="6"/><circle cx="3438.5" cy="963" r="13.6" fill="#fff" stroke="#32cd32" stroke-width="6"/><circle cx="3511.25" cy="927.5" r="13.6" fill="#fff" stroke="#32cd32" stroke-width="6"/><circle cx="3548.5" cy="963" r="13.6" fill="#fff" stroke="#32cd32" stroke-width="6"/><circle cx="3581.5" cy="963" r="13.6" fill="#fff" stroke="#32cd32" stroke-width="6"/><circle cx="3619.75" cy="963" r="13.6" fill="#fff" stroke="#32cd32" stroke-width="6"/>
<path d="M1993.75 435V455M1967.45 435H2020.05M1967.45 455H2020.05M2032.5 400V428M2006.2 400H2058.8M2006.2 428H2058.8M2066.25 420V457.5M2039.95 420H2092.55M2039.95 457.5H2092.55M2104.25 426.25V447M2077.95 426.25H2130.55M2077.95 447H2130.55M2137.5 353V380M2111.2 353H2163.8M2111.2 380H2163.8M2175 363V375.5M2148.7 363H2201.3M2148.7 375.5H2201.3M2208.75 400.5V412.5M2182.45 400.5H2235.05M2182.45 412.5H2235.05M2247.5 388.75V402.5M2221.2 388.75H2273.8M2221.2 402.5H2273.8M2279.5 377V388.75M2253.2 377H2305.8M2253.2 388.75H2305.8M2318 404.5V411.25M2291.7 404.5H2344.3M2291.7 411.25H2344.3M2350 403V410M2323.7 403H2376.3M2323.7 410H2376.3M2365.75 404V410M2339.45 404H2392.05M2339.45 410H2392.05M2403.75 406V413M2377.45 406H2430.05M2377.45 413H2430.05M2436.25 404V411M2409.95 404H2462.55M2409.95 411H2462.55M2474.5 405V412M2448.2 405H2500.8M2448.2 412H2500.8M2507.5 416V424M2481.2 416H2533.8M2481.2 424H2533.8M2546.25 403V410M2519.95 403H2572.55M2519.95 410H2572.55M2580 415V424M2553.7 415H2606.3M2553.7 424H2606.3M2618.5 415.75V430M2592.2 415.75H2644.8M2592.2 430H2644.8M2652 440V457.5M2625.7 440H2678.3M2625.7 457.5H2678.3M2691 390V422.5M2664.7 390H2717.3M2664.7 422.5H2717.3M2724.75 405V440M2698.45 405H2751.05M2698.45 440H2751.05M2762.25 421V449.25M2735.95 421H2788.55M2735.95 449.25H2788.55M2796.5 420V450.75M2770.2 420H2822.8M2770.2 450.75H2822.8M2834.5 416V443.75M2808.2 416H2860.8M2808.2 443.75H2860.8M2867.25 410.5V442.5M2840.95 410.5H2893.55M2840.95 442.5H2893.55M2905.25 380.75V408M2878.95 380.75H2931.55M2878.95 408H2931.55M2939 412.5V463.75M2912.7 412.5H2965.3M2912.7 463.75H2965.3M2977.75 405V431.75M2951.45 405H3004.05M2951.45 431.75H3004.05M3011 397.5V423M2984.7 397.5H3037.3M2984.7 423H3037.3M3049.5 420V451.75M3023.2 420H3075.8M3023.2 451.75H3075.8M3082.25 405.75V433M3055.95 405.75H3108.55M3055.95 433H3108.55M3120.25 407.5V422M3093.95 407.5H3146.55M3093.95 422H3146.55M3153 415V454.5M3126.7 415H3179.3M3126.7 454.5H3179.3M3191.5 410V473.75M3165.2 410H3217.8M3165.2 473.75H3217.8M3225.5 415.75V454.5M3199.2 415.75H3251.8M3199.2 454.5H3251.8M3263 400V477.5M3236.7 400H3289.3M3236.7 477.5H3289.3M3295.5 375V416.75M3269.2 375H3321.8M3269.2 416.75H3321.8M3334 318V387.5M3307.7 318H3360.3M3307.7 387.5H3360.3M3366.5 273V339.5M3340.2 273H3392.8M3340.2 339.5H3392.8M3404.25 310.75V375.75M3377.95 310.75H3430.55M3377.95 375.75H3430.55M3438.5 318V382M3412.2 318H3464.8M3412.2 382H3464.8M3476.75 416.75V435.75M3450.45 416.75H3503.05M3450.45 435.75H3503.05M3511 329.5V395M3484.7 329.5H3537.3M3484.7 395H3537.3M3548.5 312.5V382.5M3522.2 312.5H3574.8M3522.2 382.5H3574.8M3581.5 312V390.75M3555.2 312H3607.8M3555.2 390.75H3607.8M3619.75 300V375M3593.45 300H3646.05M3593.45 375H3646.05" fill="none" stroke="#0000ff" stroke-width="3.6" shape-rendering="crispEdges"/>
<circle cx="1993.75" cy="445" r="16.6" fill="#0000ff"/><circle cx="2032.5" cy="413" r="13.6" fill="#fff" stroke="#0000ff" stroke-width="6"/><circle cx="2066.25" cy="438.75" r="13.6" fill="#fff" stroke="#0000ff" stroke-width="6"/><circle cx="2104.25" cy="436.25" r="13.6" fill="#fff" stroke="#0000ff" stroke-width="6"/><circle cx="2137.5" cy="366.25" r="13.6" fill="#fff" stroke="#0000ff" stroke-width="6"/><circle cx="2175" cy="369.5" r="16.6" fill="#0000ff"/><circle cx="2208.75" cy="407" r="13.6" fill="#fff" stroke="#0000ff" stroke-width="6"/><circle cx="2247.5" cy="395.75" r="13.6" fill="#fff" stroke="#0000ff" stroke-width="6"/><circle cx="2279.5" cy="382.5" r="13.6" fill="#fff" stroke="#0000ff" stroke-width="6"/><circle cx="2318" cy="408" r="13.6" fill="#fff" stroke="#0000ff" stroke-width="6"/><circle cx="2350" cy="406.25" r="13.6" fill="#fff" stroke="#0000ff" stroke-width="6"/><circle cx="2365.75" cy="407" r="13.6" fill="#fff" stroke="#0000ff" stroke-width="6"/><circle cx="2403.75" cy="409.5" r="13.6" fill="#fff" stroke="#0000ff" stroke-width="6"/><circle cx="2436.25" cy="407.5" r="16.6" fill="#0000ff"/><circle cx="2474.5" cy="408.75" r="13.6" fill="#fff" stroke="#0000ff" stroke-width="6"/><circle cx="2507.5" cy="420" r="16.6" fill="#0000ff"/><circle cx="2546.25" cy="406.75" r="13.6" fill="#fff" stroke="#0000ff" stroke-width="6"/><circle cx="2580" cy="419.5" r="13.6" fill="#fff" stroke="#0000ff" stroke-width="6"/><circle cx="2618.5" cy="423.75" r="16.6" fill="#0000ff"/><circle cx="2652" cy="448.75" r="16.6" fill="#0000ff"/><circle cx="2691" cy="405.75" r="13.6" fill="#fff" stroke="#0000ff" stroke-width="6"/><circle cx="2724.75" cy="422.5" r="13.6" fill="#fff" stroke="#0000ff" stroke-width="6"/><circle cx="2762.25" cy="435.75" r="13.6" fill="#fff" stroke="#0000ff" stroke-width="6"/><circle cx="2796.5" cy="435.75" r="13.6" fill="#fff" stroke="#0000ff" stroke-width="6"/><circle cx="2834.5" cy="430.5" r="13.6" fill="#fff" stroke="#0000ff" stroke-width="6"/><circle cx="2867.25" cy="425.75" r="13.6" fill="#fff" stroke="#0000ff" stroke-width="6"/><circle cx="2905.25" cy="394.5" r="13.6" fill="#fff" stroke="#0000ff" stroke-width="6"/><circle cx="2939" cy="438.75" r="13.6" fill="#fff" stroke="#0000ff" stroke-width="6"/><circle cx="2977.75" cy="418.25" r="13.6" fill="#fff" stroke="#0000ff" stroke-width="6"/><circle cx="3011" cy="410" r="13.6" fill="#fff" stroke="#0000ff" stroke-width="6"/><circle cx="3049.5" cy="435.75" r="13.6" fill="#fff" stroke="#0000ff" stroke-width="6"/><circle cx="3082.25" cy="419.5" r="13.6" fill="#fff" stroke="#0000ff" stroke-width="6"/><circle cx="3120.25" cy="416.25" r="16.6" fill="#0000ff"/><circle cx="3153" cy="435" r="13.6" fill="#fff" stroke="#0000ff" stroke-width="6"/><circle cx="3191.5" cy="442" r="13.6" fill="#fff" stroke="#0000ff" stroke-width="6"/><circle cx="3225.5" cy="434.5" r="13.6" fill="#fff" stroke="#0000ff" stroke-width="6"/><circle cx="3263" cy="439.25" r="13.6" fill="#fff" stroke="#0000ff" stroke-width="6"/><circle cx="3295.5" cy="395.5" r="13.6" fill="#fff" stroke="#0000ff" stroke-width="6"/><circle cx="3334" cy="352.5" r="13.6" fill="#fff" stroke="#0000ff" stroke-width="6"/><circle cx="3366.5" cy="306.25" r="13.6" fill="#fff" stroke="#0000ff" stroke-width="6"/><circle cx="3404.25" cy="343.25" r="13.6" fill="#fff" stroke="#0000ff" stroke-width="6"/><circle cx="3438.5" cy="350" r="13.6" fill="#fff" stroke="#0000ff" stroke-width="6"/><circle cx="3476.75" cy="426.25" r="16.6" fill="#0000ff"/><circle cx="3511" cy="362" r="13.6" fill="#fff" stroke="#0000ff" stroke-width="6"/><circle cx="3548.5" cy="348" r="13.6" fill="#fff" stroke="#0000ff" stroke-width="6"/><circle cx="3581.5" cy="351.25" r="13.6" fill="#fff" stroke="#0000ff" stroke-width="6"/><circle cx="3619.75" cy="337.5" r="13.6" fill="#fff" stroke="#0000ff" stroke-width="6"/>
</g>
<g clip-path="url(#cp)">
<g fill="none" stroke="#000" stroke-width="3.5" stroke-linejoin="miter" shape-rendering="crispEdges">
<polyline points="269,383 351,379.5 531,378 666,377 831,371.25 900,370.5 1000,370.5 1087.5,368.75 1262.5,368 1375,363.75 1544,359.5 1562,358.75"/>
<polyline points="1667.75,355.5 1834,350.75 1866.5,352.5 1940,353.75 1977.5,354.5 2140,350.5 2352.5,348.75 2465,351.25 2513,352.5 2584,351.25 2646.5,349.5 2809,351.25 2896.5,353 2946.5,353 3046.5,350 3106,350 3206,348 3356,347.5 3496,342.5 3568.5,346.25 3640,350"/>
<polyline points="269,496.25 316,495 703.5,495.5 706,493.75 873.5,494.25 900,493 962.5,491.25 1050,490 1212.5,488.75 1300,489.5 1355,491.25 1544,491.25 1562,490"/>
<polyline points="1667.5,488.75 1830,486.25 1940,485.5 2065,487 2352.5,486.25 2490,483.75 2584,484.5 2734,483 2834,485 2946.5,485 3094,485 3134,482.5 3228,484 3256,481.25 3640,482"/>
<polyline points="269,622.5 289.75,623.75 353.5,625 476,623.75 768.5,623 771,625 900,625 1080,623.75 1185,624.5 1287.5,625 1400,618.7 1469,616.9 1562,614.25"/>
<polyline points="1667.5,614.5 1880,614.5 1970,612.5 2152.5,611.25 2315,612.5 2440,613 2584,612.5 2599,615.5 2704,616.25 2829,616.25 2909,613 3084,613 3228,613.75 3640,613.75"/>
<polyline points="269,820.75 368.5,823 438.5,823 506,821.25 900,810 1222.5,797 1465,797 1544,796.25 1562,796.75"/>
<polyline points="1667.5,795 1842.5,793.75 1855,795 1967.5,796.75 2124,794.5 2229,791.25 2336.5,790 2356.5,790 2399,793 2561.5,795 2649,795 2768,793.5 2830.5,792.5 2893,789.5 2968,790 3043,793 3080.5,792.5 3143,788.75 3243,785 3277.5,783.75 3322.5,782.5 3362.5,783 3495,795.5 3572.5,796.25 3640,797"/>
<polyline points="269,880 401,875 528.5,876.25 693.5,877 806,877.5 900,877.5 1075,867.5 1175,865 1425,865 1480,865 1562,862.5"/>
<polyline points="1667.5,859.5 2124,846.5 2249,844.5 2336.5,847 2474,845 2649,845 2768,844.5 2805.5,845 2860.5,847 2918,848 2993,845.5 3063,844.5 3143,846.25 3250,847 3337.5,846.25 3390,845 3475,841.25 3525,842.5 3587.5,843.75 3640,843.75"/>
<polyline points="269,226.25 513.5,213.75 666,214.5 781,211.25 860,206.5 888,203.8 910,199 926,193.9 897.7,182.5 904,173.5 885.8,156.3 941.2,149.4 920.7,143 979,141 996.7,134.5 1016.4,132.3 997.3,117.7 1107.5,123.75 1175,125 1292.5,121.25 1325,121.25 1367.5,112.5 1388.75,112"/>
<polyline points="335,159 399.75,160 442.25,167.5 406,175 346,167.5 335,159"/>
<polyline points="1381,195 1407.6,190.1 1450,192 1527,195 1475,182 1549.5,172.6 1593.5,180.5 1596.5,187 1550.5,200.3 1472.7,206 1410,202 1381,195"/>
<polyline points="2309,167 2188,167 2007.75,167.5 1975.25,181.25 2119,197 2188,194.5 2263,194.5 2461.75,180 2414,174.5"/>
<polyline points="2840.5,927.5 2768,927.5 2724,932.5 2706.5,937 2724,941.25 2768,943.75 2840.5,943.75"/>
<polyline points="2948,927.5 3068,927.5 3143,923 3268,922 3352.5,922.5 3360,921.25 3500,921.25 3595,920 3640,919.5"/>
<polyline points="2946.75,943.75 3080.5,943 3143,946.25 3268,950.5 3410,950.5 3595,951.25 3640,954"/>
</g>
<g fill="none" stroke="#000" stroke-width="5" shape-rendering="crispEdges">
<polyline points="1957,946.3 2132,944.4"/>
</g>
<g fill="none" stroke="#000" stroke-width="1.2">
<polyline points="828.5,112.5 952,112.5"/>
<polyline points="1286,112.5 1297,112.5"/>
</g>
<g font-family='"Liberation Sans", "DejaVu Sans", sans-serif' font-size="58.3" fill="#000" text-anchor="middle">
<text transform="translate(1615.5,358.3) rotate(-1.5)" x="0" y="20">210</text>
<text transform="translate(1615,490.8) rotate(-0.5)" x="0" y="20">230</text>
<text transform="translate(1615,615.5) rotate(-0.3)" x="0" y="20">250</text>
<text transform="translate(1615,797) rotate(-0.3)" x="0" y="20">273</text>
<text transform="translate(1615,862) rotate(-1.7)" x="0" y="20">279</text>
<text transform="translate(2362,169.5) rotate(6)" x="0" y="20">210</text>
<text transform="translate(2894,944.8) rotate(0)" x="0" y="20">290</text>
</g>
</g>
<g fill="#000" shape-rendering="crispEdges">
<rect x="263" y="109" width="6" height="851"/>
<rect x="263" y="954" width="3377" height="6"/>
<rect x="263" y="109" width="84" height="6"/>
<rect x="263" y="214.62" width="84" height="6"/>
<rect x="263" y="320.25" width="84" height="6"/>
<rect x="263" y="425.88" width="84" height="6"/>
<rect x="263" y="531.5" width="84" height="6"/>
<rect x="263" y="637.12" width="84" height="6"/>
<rect x="263" y="742.75" width="84" height="6"/>
<rect x="263" y="848.38" width="84" height="6"/>
<rect x="333.23" y="924" width="6" height="33"/>
<rect x="403.46" y="924" width="6" height="33"/>
<rect x="473.69" y="924" width="6" height="33"/>
<rect x="543.92" y="894" width="6" height="63"/>
<rect x="614.15" y="924" width="6" height="33"/>
<rect x="684.38" y="924" width="6" height="33"/>
<rect x="754.6" y="924" width="6" height="33"/>
<rect x="824.83" y="894" width="6" height="63"/>
<rect x="895.06" y="924" width="6" height="33"/>
<rect x="965.29" y="924" width="6" height="33"/>
<rect x="1035.52" y="924" width="6" height="33"/>
<rect x="1105.75" y="894" width="6" height="63"/>
<rect x="1175.98" y="924" width="6" height="33"/>
<rect x="1246.21" y="924" width="6" height="33"/>
<rect x="1316.44" y="924" width="6" height="33"/>
<rect x="1386.67" y="894" width="6" height="63"/>
<rect x="1456.9" y="924" width="6" height="33"/>
<rect x="1527.12" y="924" width="6" height="33"/>
<rect x="1597.35" y="924" width="6" height="33"/>
<rect x="1667.58" y="894" width="6" height="63"/>
<rect x="1737.81" y="924" width="6" height="33"/>
<rect x="1808.04" y="924" width="6" height="33"/>
<rect x="1878.27" y="924" width="6" height="33"/>
<rect x="1948.5" y="894" width="6" height="63"/>
<rect x="2018.73" y="924" width="6" height="33"/>
<rect x="2088.96" y="924" width="6" height="33"/>
<rect x="2159.19" y="924" width="6" height="33"/>
<rect x="2229.42" y="894" width="6" height="63"/>
<rect x="2299.65" y="924" width="6" height="33"/>
<rect x="2369.88" y="924" width="6" height="33"/>
<rect x="2440.1" y="924" width="6" height="33"/>
<rect x="2510.33" y="894" width="6" height="63"/>
<rect x="2580.56" y="924" width="6" height="33"/>
<rect x="2650.79" y="924" width="6" height="33"/>
<rect x="2721.02" y="924" width="6" height="33"/>
<rect x="2791.25" y="894" width="6" height="63"/>
<rect x="2861.48" y="924" width="6" height="33"/>
<rect x="2931.71" y="924" width="6" height="33"/>
<rect x="3001.94" y="924" width="6" height="33"/>
<rect x="3072.17" y="894" width="6" height="63"/>
<rect x="3142.4" y="924" width="6" height="33"/>
<rect x="3212.62" y="924" width="6" height="33"/>
<rect x="3282.85" y="924" width="6" height="33"/>
<rect x="3353.08" y="894" width="6" height="63"/>
<rect x="3423.31" y="924" width="6" height="33"/>
<rect x="3493.54" y="924" width="6" height="33"/>
<rect x="3563.77" y="924" width="6" height="33"/>
<rect x="3634" y="894" width="6" height="63"/>
</g>
<g font-family='"DejaVu Sans", "Liberation Sans", sans-serif' font-size="67.3" fill="#000" text-anchor="end">
<text x="232.4" y="136.9">16.2</text>
<text x="232.4" y="242.53">14.2</text>
<text x="232.4" y="348.15">12.2</text>
<text x="232.4" y="453.77">10.2</text>
<text x="232.4" y="559.4">8.24</text>
<text x="232.4" y="665.02">6.24</text>
<text x="232.4" y="770.65">4.24</text>
<text x="232.4" y="876.27">2.25</text>
<text x="232.4" y="981.9">0.25</text>
</g>
<g font-family='"DejaVu Sans", "Liberation Sans", sans-serif' font-size="75" fill="#000" text-anchor="middle">
<text x="266" y="1036">0</text>
<text x="546.92" y="1036">2</text>
<text x="827.83" y="1036">4</text>
<text x="1108.75" y="1036">6</text>
<text x="1389.67" y="1036">8</text>
<text x="1670.58" y="1036">10</text>
<text x="1951.5" y="1036">12</text>
<text x="2232.42" y="1036">14</text>
<text x="2513.33" y="1036">16</text>
<text x="2794.25" y="1036">18</text>
<text x="3075.17" y="1036">20</text>
<text x="3356.08" y="1036">22</text>
<text x="3637" y="1036">24</text>
<text x="1952" y="1116" font-size="76.3">Time (UTC)</text>
</g>
<text transform="translate(35.5,534.5) rotate(-90)" font-family='"DejaVu Sans", "Liberation Sans", sans-serif' font-size="66.7" text-anchor="middle" fill="#000">Height AMSL (km)</text>
<text x="1951.4" y="77" font-family='"Liberation Sans", "DejaVu Sans", sans-serif' font-size="100.8" text-anchor="middle" fill="#000">Juelich: 2025/11/12</text>
<rect x="266" y="1144" width="3371" height="56" fill="url(#cb)"/>
<g fill="#000" shape-rendering="crispEdges">
<rect x="263" y="1197" width="3377" height="6"/>
<rect x="263" y="1183" width="6" height="17"/>
<rect x="375.37" y="1190" width="6" height="10"/>
<rect x="487.73" y="1190" width="6" height="10"/>
<rect x="600.1" y="1190" width="6" height="10"/>
<rect x="712.47" y="1190" width="6" height="10"/>
<rect x="824.83" y="1190" width="6" height="10"/>
<rect x="937.2" y="1190" width="6" height="10"/>
<rect x="1049.57" y="1190" width="6" height="10"/>
<rect x="1161.93" y="1190" width="6" height="10"/>
<rect x="1274.3" y="1190" width="6" height="10"/>
<rect x="1386.67" y="1183" width="6" height="17"/>
<rect x="1499.03" y="1190" width="6" height="10"/>
<rect x="1611.4" y="1190" width="6" height="10"/>
<rect x="1723.77" y="1190" width="6" height="10"/>
<rect x="1836.13" y="1190" width="6" height="10"/>
<rect x="1948.5" y="1190" width="6" height="10"/>
<rect x="2060.87" y="1190" width="6" height="10"/>
<rect x="2173.23" y="1190" width="6" height="10"/>
<rect x="2285.6" y="1190" width="6" height="10"/>
<rect x="2397.97" y="1190" width="6" height="10"/>
<rect x="2510.33" y="1183" width="6" height="17"/>
<rect x="2622.7" y="1190" width="6" height="10"/>
<rect x="2735.07" y="1190" width="6" height="10"/>
<rect x="2847.43" y="1190" width="6" height="10"/>
<rect x="2959.8" y="1190" width="6" height="10"/>
<rect x="3072.17" y="1190" width="6" height="10"/>
<rect x="3184.53" y="1190" width="6" height="10"/>
<rect x="3296.9" y="1190" width="6" height="10"/>
<rect x="3409.27" y="1190" width="6" height="10"/>
<rect x="3521.63" y="1190" width="6" height="10"/>
<rect x="3634" y="1183" width="6" height="17"/>
</g>
<g font-family='"DejaVu Sans", "Liberation Sans", sans-serif' font-size="58.3" fill="#000" text-anchor="middle">
<text x="257.5" y="1263">Clear</text>
<text x="1389.67" y="1263">Water</text>
<text x="2513.33" y="1263">Ice</text>
<text x="3637" y="1263">Other</text>
</g>
<rect x="295" y="1313" width="605" height="229" fill="#fff" stroke="#000" stroke-width="6"/>
<circle cx="332.3" cy="1384" r="17.1" fill="#32cd32"/>
<text x="370.2" y="1406" font-family='"DejaVu Sans", "Liberation Sans", sans-serif' font-size="58.5" fill="#000">SEV-OCA SL Wat</text>
<circle cx="332.3" cy="1470.5" r="14.15" fill="#fff" stroke="#32cd32" stroke-width="5.9"/>
<text x="370.2" y="1492.5" font-family='"DejaVu Sans", "Liberation Sans", sans-serif' font-size="58.5" fill="#000">SEV-OCA 2L Wat</text>
<rect x="1040" y="1313" width="572" height="229" fill="#fff" stroke="#000" stroke-width="6"/>
<circle cx="1077.3" cy="1384" r="17.1" fill="#0000ff"/>
<text x="1115.2" y="1406" font-family='"DejaVu Sans", "Liberation Sans", sans-serif' font-size="58.5" fill="#000">SEV-OCA SL Ice</text>
<circle cx="1077.3" cy="1470.5" r="14.15" fill="#fff" stroke="#0000ff" stroke-width="5.9"/>
<text x="1115.2" y="1492.5" font-family='"DejaVu Sans", "Liberation Sans", sans-serif' font-size="58.5" fill="#000">SEV-OCA 2L Ice</text>
<rect x="2328" y="1313" width="559.4" height="402" fill="#fff" stroke="#000" stroke-width="6"/>
<polygon points="2365.3,1364 2382.62,1394 2347.98,1394" fill="#ff0000"/>
<text x="2403.2" y="1406" font-family='"DejaVu Sans", "Liberation Sans", sans-serif' font-size="58.5" fill="#000">ACTRIS CBH</text>
<polygon points="2365.3,1490.5 2382.62,1460.5 2347.98,1460.5" fill="#ff0000"/>
<text x="2403.2" y="1492.5" font-family='"DejaVu Sans", "Liberation Sans", sans-serif' font-size="58.5" fill="#000">ACTRIS CTH</text>
<polygon points="2365.3,1543 2377.42,1564 2353.18,1564" fill="#fff" stroke="#ff0000" stroke-width="5.8"/>
<text x="2403.2" y="1579" font-family='"DejaVu Sans", "Liberation Sans", sans-serif' font-size="58.5" fill="#000">ACTRIS CBH BL</text>
<polygon points="2365.3,1657.5 2377.42,1636.5 2353.18,1636.5" fill="#fff" stroke="#ff0000" stroke-width="5.8"/>
<text x="2403.2" y="1665.5" font-family='"DejaVu Sans", "Liberation Sans", sans-serif' font-size="58.5" fill="#000">ACTRIS CTH BL</text>
</svg></body></html>
